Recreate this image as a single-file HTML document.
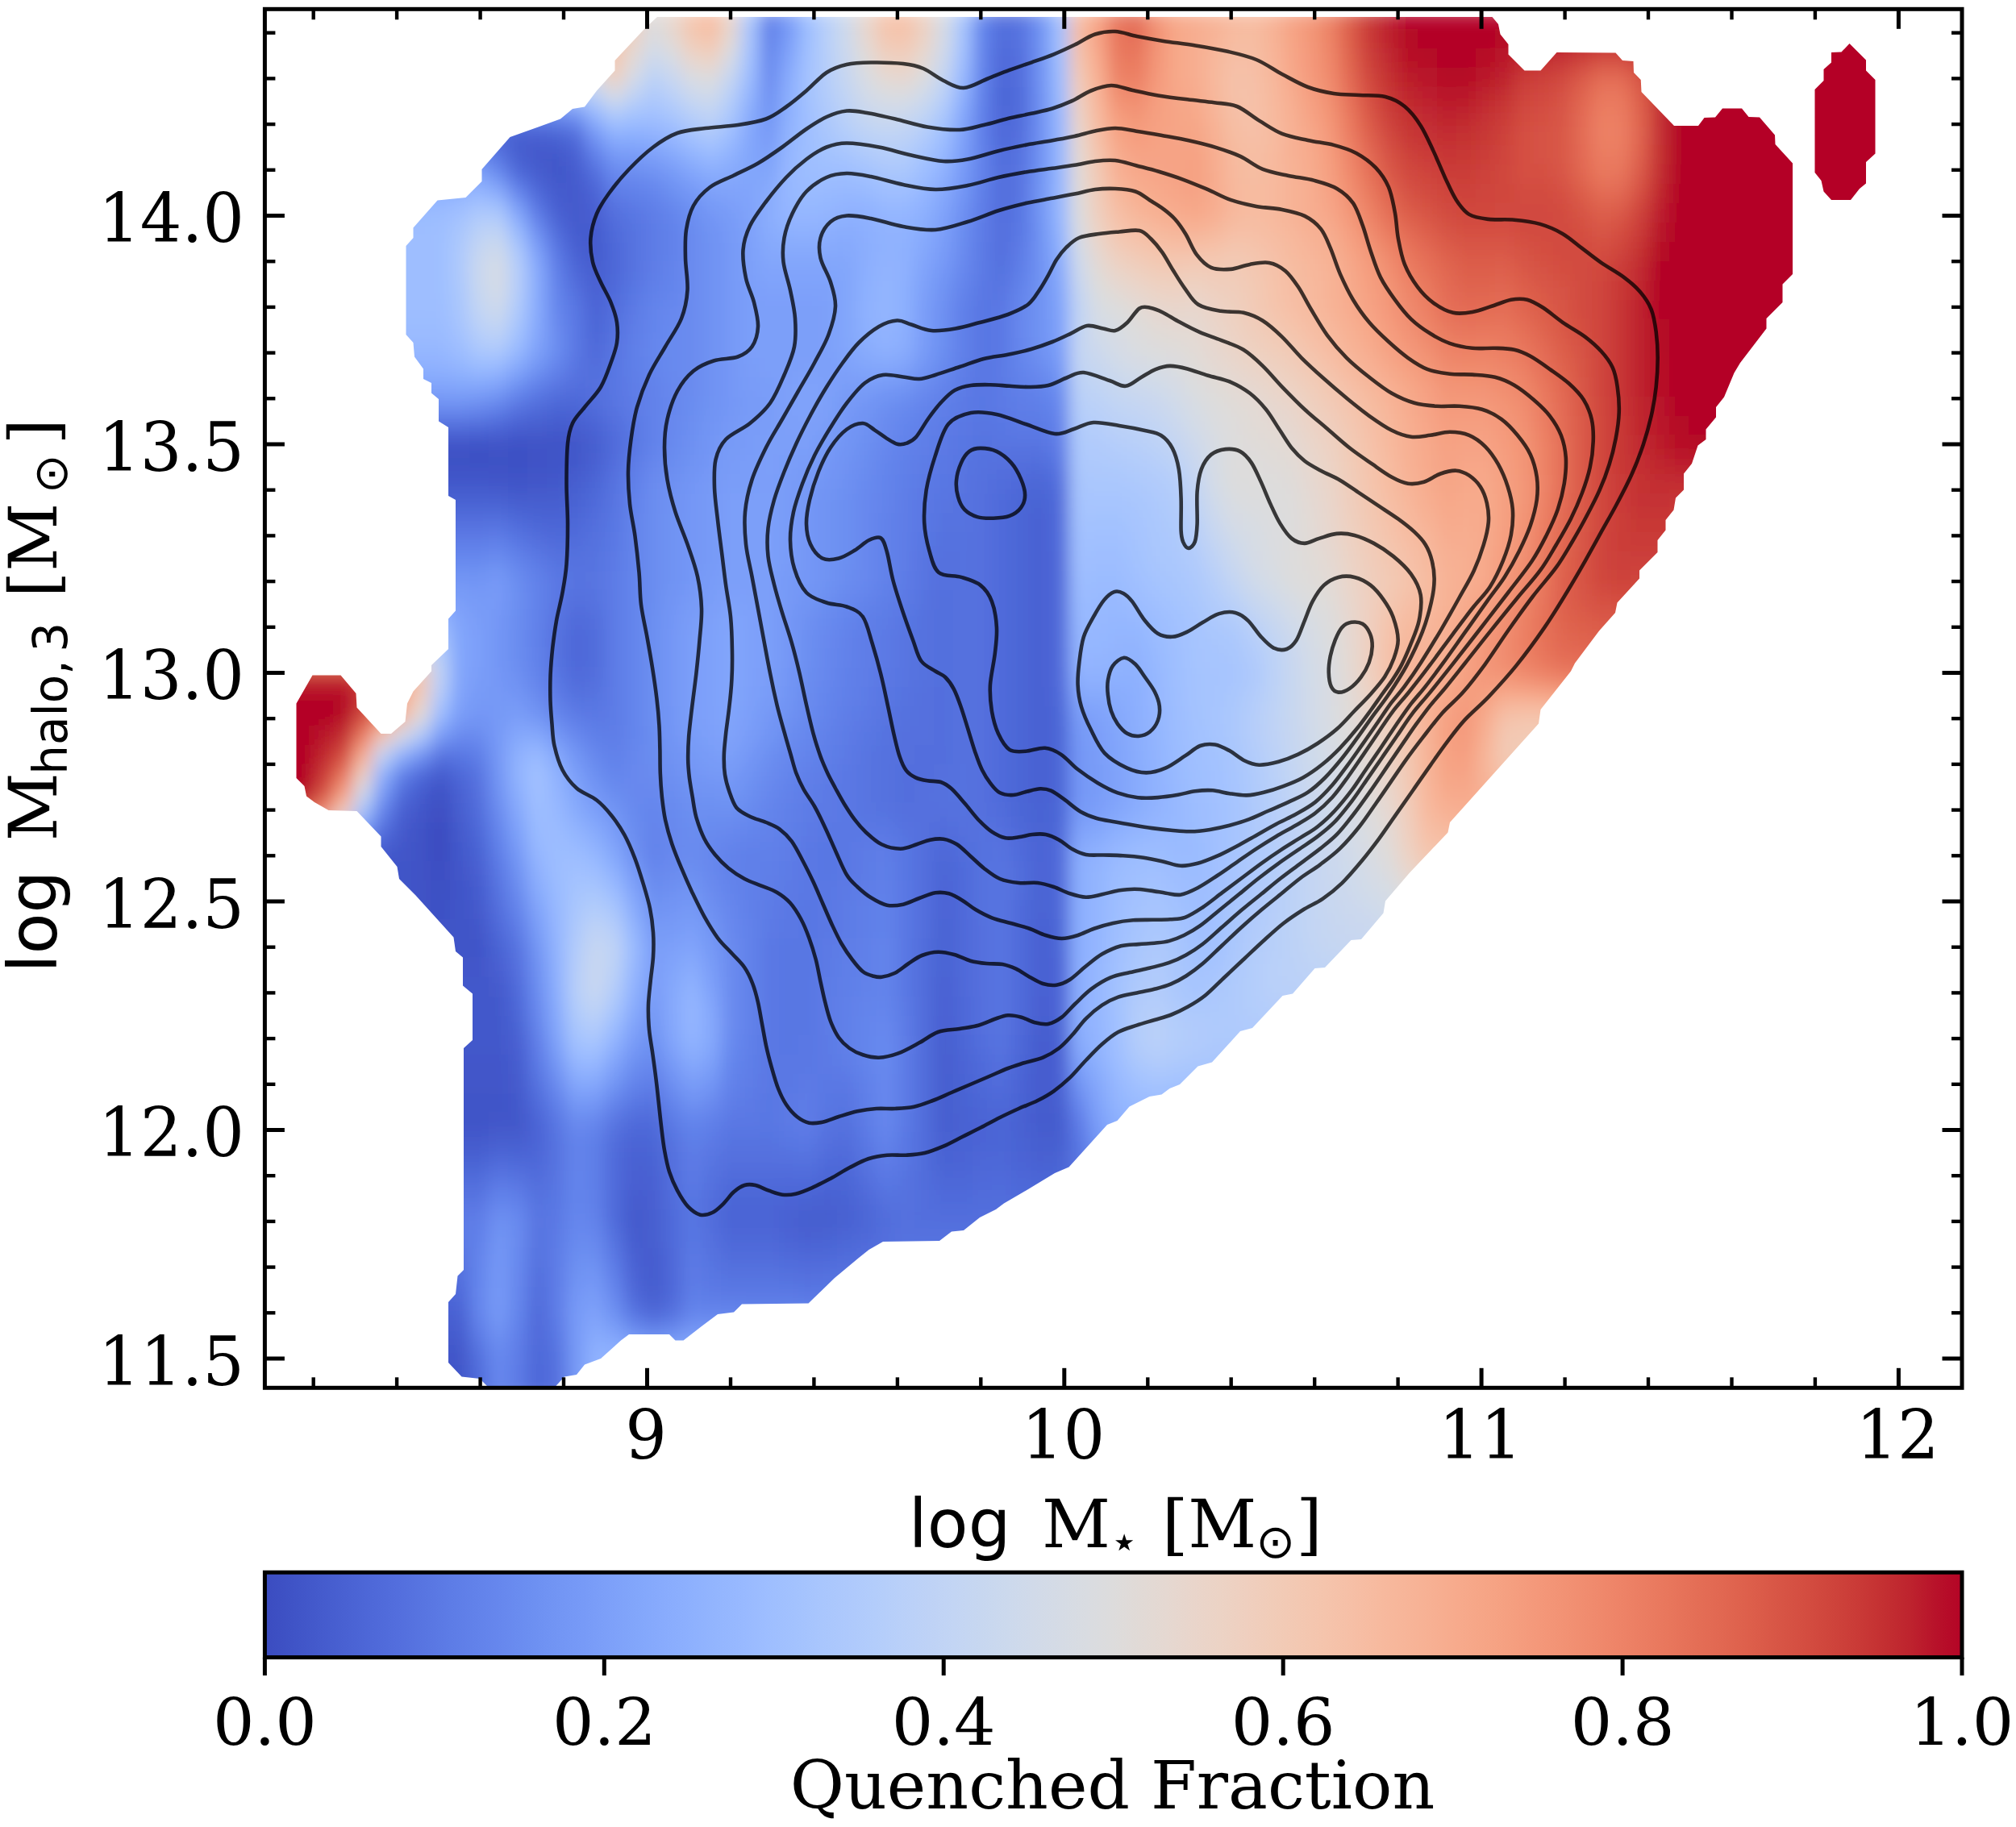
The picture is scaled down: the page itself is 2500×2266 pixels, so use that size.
<!DOCTYPE html>
<html><head><meta charset="utf-8"><title>Quenched Fraction</title>
<style>
html,body{margin:0;padding:0;background:#fff}
svg{display:block}
.s{font-family:"DejaVu Serif","Liberation Serif",serif;font-size:81.3px;fill:#000}
.n{font-family:"DejaVu Sans","Liberation Sans",sans-serif}
</style></head><body>
<svg width="2500" height="2266" viewBox="0 0 2500 2266">
<defs>
<clipPath id="cp"><path d="M815 21L800 35L762.5 75L762.5 87.5L740 112.5L725 132.5L710 135L695 147.5L667.5 157.5L632.5 170L597.5 210L597.5 225L577.5 245L542.5 248.5L512.5 282.5L512.5 295L503.5 305L503.5 415L512.5 425L514 442.5L525 457.5L525 470L535 475L535 487.5L544 495L544 522.5L556 530L556 615L565 620L565 757.5L556 767.5L556 805L535 825L535 832.5L512.5 857.5L505 872.5L502.5 895L485 910L472.5 910L442.5 877.5L441.5 860L422.5 837.5L387.5 837.5L367.5 872.5L367.5 965L377.5 975L380 987.5L390 995L407.5 1005L442.5 1006L472.5 1037.5L472.5 1050L492.5 1075L495 1090L515 1110L562.5 1162.5L565 1180L574 1187.5L574 1222.5L586 1232.5L586 1290L575 1300L575 1575L567.5 1582.5L565 1605L556 1615L556 1690L572.5 1707.5L595 1710L606 1721L687.5 1721L700 1707.5L715 1705L725 1692.5L745 1685L770 1662.5L780 1655L830 1655L837.5 1662.5L847.5 1662.5L870 1645L890 1630L910 1627.5L920 1617.5L1002.5 1616.5L1035 1585L1050 1572.5L1065 1560L1077.5 1550L1095 1540L1165 1539L1180 1527.5L1195 1526L1215 1510L1235 1500L1245 1492.5L1275 1475L1308 1455L1325.5 1447.5L1373 1395L1385.5 1390L1400.5 1372.5L1425.5 1360L1440.5 1357.5L1450.5 1350L1463 1345L1485.5 1322.5L1503 1317.5L1538 1279L1553 1275L1590.5 1235L1603 1232.5L1630.5 1201L1643 1200L1675.5 1166L1688 1165L1715.5 1132.5L1718 1117.5L1748 1082.5L1795.5 1032.5L1798 1020L1908 897.5L1910.5 880L1948 832.5L1953 822.5L1983 782.5L2003 760L2005.5 747.5L2033 717.5L2033 707.5L2055.5 685L2055.5 670L2065.5 657.5L2065.5 645L2075.5 632.5L2078 617.5L2088 607.5L2088 587.5L2098 575L2105.5 552.5L2115.5 545L2115.5 532.5L2128 517.5L2128 505L2138 492.5L2150.5 462.5L2158 450L2190.5 407.5L2190.5 395L2210.5 375L2210.5 352.5L2223 340L2223 202.5L2201.5 179L2201 167.5L2182 145.5L2168.5 145L2160 134.5L2136 134.5L2127 145.5L2113.5 146L2106 156L2076 156L2035.5 114L2034.75 99L2026 90L2025.5 76L2012 75L2003.5 65.5L1930.5 65L1910.5 87.5L1890.5 87.5L1870.5 67.5L1870.5 55L1860.5 42.5L1858 30L1850.5 21ZM2293.5 54L2283.5 64.5L2271 65L2271 77.5L2261.5 86L2261.5 100L2250.5 111L2250.5 214L2258.5 224L2261.5 237.5L2271 248L2295 248L2306 234L2314 227.5L2314 201L2325.5 190.5L2325.5 99L2314 87.5L2314 74.5Z"/></clipPath>
<filter id="bl" x="-5%" y="-5%" width="110%" height="110%"><feGaussianBlur stdDeviation="10 12"/></filter>
<linearGradient id="cb" x1="0" x2="1" y1="0" y2="0"><stop offset="0.0000" stop-color="#3b4cc0"/><stop offset="0.0156" stop-color="#3f53c6"/><stop offset="0.0312" stop-color="#445acc"/><stop offset="0.0469" stop-color="#4961d2"/><stop offset="0.0625" stop-color="#4e68d8"/><stop offset="0.0781" stop-color="#536edd"/><stop offset="0.0938" stop-color="#5875e1"/><stop offset="0.1094" stop-color="#5d7ce6"/><stop offset="0.1250" stop-color="#6282ea"/><stop offset="0.1406" stop-color="#6788ee"/><stop offset="0.1562" stop-color="#6c8ff1"/><stop offset="0.1719" stop-color="#7295f4"/><stop offset="0.1875" stop-color="#779af7"/><stop offset="0.2031" stop-color="#7da0f9"/><stop offset="0.2188" stop-color="#82a6fb"/><stop offset="0.2344" stop-color="#88abfd"/><stop offset="0.2500" stop-color="#8db0fe"/><stop offset="0.2656" stop-color="#93b5fe"/><stop offset="0.2812" stop-color="#98b9ff"/><stop offset="0.2969" stop-color="#9ebeff"/><stop offset="0.3125" stop-color="#a3c2fe"/><stop offset="0.3281" stop-color="#a9c6fd"/><stop offset="0.3438" stop-color="#aec9fc"/><stop offset="0.3594" stop-color="#b3cdfb"/><stop offset="0.3750" stop-color="#b9d0f9"/><stop offset="0.3906" stop-color="#bed2f6"/><stop offset="0.4062" stop-color="#c3d5f4"/><stop offset="0.4219" stop-color="#c7d7f0"/><stop offset="0.4375" stop-color="#ccd9ed"/><stop offset="0.4531" stop-color="#d1dae9"/><stop offset="0.4688" stop-color="#d5dbe5"/><stop offset="0.4844" stop-color="#d9dce1"/><stop offset="0.5000" stop-color="#dddcdc"/><stop offset="0.5156" stop-color="#e1dad6"/><stop offset="0.5312" stop-color="#e5d8d1"/><stop offset="0.5469" stop-color="#e9d5cb"/><stop offset="0.5625" stop-color="#ecd3c5"/><stop offset="0.5781" stop-color="#efcfbf"/><stop offset="0.5938" stop-color="#f1ccb8"/><stop offset="0.6094" stop-color="#f3c8b2"/><stop offset="0.6250" stop-color="#f5c4ac"/><stop offset="0.6406" stop-color="#f6bfa6"/><stop offset="0.6562" stop-color="#f7ba9f"/><stop offset="0.6719" stop-color="#f7b599"/><stop offset="0.6875" stop-color="#f7b093"/><stop offset="0.7031" stop-color="#f7aa8c"/><stop offset="0.7188" stop-color="#f6a586"/><stop offset="0.7344" stop-color="#f59f80"/><stop offset="0.7500" stop-color="#f4987a"/><stop offset="0.7656" stop-color="#f29274"/><stop offset="0.7812" stop-color="#f08b6e"/><stop offset="0.7969" stop-color="#ee8468"/><stop offset="0.8125" stop-color="#eb7d62"/><stop offset="0.8281" stop-color="#e8765c"/><stop offset="0.8438" stop-color="#e46e56"/><stop offset="0.8594" stop-color="#e16751"/><stop offset="0.8750" stop-color="#dd5f4b"/><stop offset="0.8906" stop-color="#d85646"/><stop offset="0.9062" stop-color="#d44e41"/><stop offset="0.9219" stop-color="#cf453c"/><stop offset="0.9375" stop-color="#ca3b37"/><stop offset="0.9531" stop-color="#c43032"/><stop offset="0.9688" stop-color="#be242e"/><stop offset="0.9844" stop-color="#b8122a"/><stop offset="1.0000" stop-color="#b40426"/></linearGradient>
</defs>
<rect width="2500" height="2266" fill="#fff"/>
<g clip-path="url(#cp)"><g filter="url(#bl)" shape-rendering="crispEdges">
<path d="M750 12h25v25h-25z" fill="#f6bfa6"/>
<path d="M774 12h25v25h-25z" fill="#efcfbf"/>
<path d="M798 12h25v25h-25z" fill="#dddcdc"/>
<path d="M822 12h25v25h-25z" fill="#e8d6cc"/>
<path d="M846 12h25v25h-25z" fill="#f4c5ad"/>
<path d="M870 12h25v25h-25z" fill="#f7bca1"/>
<path d="M894 12h25v25h-25z" fill="#e9d5cb"/>
<path d="M918 12h25v25h-25z" fill="#aac7fd"/>
<path d="M942 12h25v25h-25z" fill="#6180e9"/>
<path d="M966 12h25v25h-25z" fill="#779af7"/>
<path d="M990 12h25v25h-25z" fill="#9fbfff"/>
<path d="M1014 12h25v25h-25z" fill="#b9d0f9"/>
<path d="M1038 12h25v25h-25z" fill="#cfdaea"/>
<path d="M1062 12h25v25h-25z" fill="#e8d6cc"/>
<path d="M1086 12h25v25h-25z" fill="#f5c4ac"/>
<path d="M1110 12h25v25h-25z" fill="#f5c1a9"/>
<path d="M1134 12h25v25h-25z" fill="#edd1c2"/>
<path d="M1158 12h25v25h-25z" fill="#d6dce4"/>
<path d="M1182 12h25v25h-25z" fill="#a9c6fd"/>
<path d="M1206 12h25v25h-25z" fill="#6485ec"/>
<path d="M1230 12h25v25h-25z" fill="#536edd"/>
<path d="M1254 12h25v25h-25z" fill="#5673e0"/>
<path d="M1278 12h25v25h-25z" fill="#6f92f3"/>
<path d="M1302 12h25v25h-25z" fill="#a2c1ff"/>
<path d="M1326 12h25v25h-25z" fill="#f6bea4"/>
<path d="M1350 12h25v25h-25z" fill="#f6a283"/>
<path d="M1374 12h25v25h-25z" fill="#e7745b"/>
<path d="M1398 12h25v25h-25z" fill="#e36c55"/>
<path d="M1422 12h25v25h-25z" fill="#f29274"/>
<path d="M1446 12h25v25h-25z" fill="#f7a889"/>
<path d="M1470 12h25v25h-25z" fill="#f7ad90"/>
<path d="M1494 12h25v25h-25z" fill="#f7b396"/>
<path d="M1518 12h25v25h-25z" fill="#f7ba9f"/>
<path d="M1542 12h25v25h-25z" fill="#f7bca1"/>
<path d="M1566 12h25v25h-25z" fill="#f7b396"/>
<path d="M1590 12h25v25h-25z" fill="#f6a385"/>
<path d="M1614 12h25v25h-25z" fill="#f39778"/>
<path d="M1638 12h25v25h-25z" fill="#ec8165"/>
<path d="M1662 12h25v25h-25z" fill="#dc5d4a"/>
<path d="M1686 12h25v25h-25z" fill="#c83836"/>
<path d="M1710 12h25v25h-25z" fill="#bd1f2d"/>
<path d="M1734 12h289v25h-289z" fill="#b40426"/>
<path d="M2238 12h97v25h-97z" fill="#b40426"/>
<path d="M726 36h25v25h-25z" fill="#efcebd"/>
<path d="M750 36h25v25h-25z" fill="#f5c1a9"/>
<path d="M774 36h25v25h-25z" fill="#ebd3c6"/>
<path d="M798 36h25v25h-25z" fill="#d8dce2"/>
<path d="M822 36h25v25h-25z" fill="#e3d9d3"/>
<path d="M846 36h25v25h-25z" fill="#f2cab5"/>
<path d="M870 36h25v25h-25z" fill="#f5c4ac"/>
<path d="M894 36h25v25h-25z" fill="#e3d9d3"/>
<path d="M918 36h25v25h-25z" fill="#a7c5fe"/>
<path d="M942 36h25v25h-25z" fill="#6282ea"/>
<path d="M966 36h25v25h-25z" fill="#7a9df8"/>
<path d="M990 36h25v25h-25z" fill="#9fbfff"/>
<path d="M1014 36h25v25h-25z" fill="#b9d0f9"/>
<path d="M1038 36h25v25h-25z" fill="#cedaeb"/>
<path d="M1062 36h25v25h-25z" fill="#e5d8d1"/>
<path d="M1086 36h25v25h-25z" fill="#f3c8b2"/>
<path d="M1110 36h25v25h-25z" fill="#f4c6af"/>
<path d="M1134 36h25v25h-25z" fill="#ebd3c6"/>
<path d="M1158 36h25v25h-25z" fill="#d4dbe6"/>
<path d="M1182 36h25v25h-25z" fill="#a6c4fe"/>
<path d="M1206 36h25v25h-25z" fill="#6485ec"/>
<path d="M1230 36h25v25h-25z" fill="#516ddb"/>
<path d="M1254 36h25v25h-25z" fill="#5673e0"/>
<path d="M1278 36h25v25h-25z" fill="#6f92f3"/>
<path d="M1302 36h25v25h-25z" fill="#a2c1ff"/>
<path d="M1326 36h25v25h-25z" fill="#f5c0a7"/>
<path d="M1350 36h25v25h-25z" fill="#f6a385"/>
<path d="M1374 36h25v25h-25z" fill="#e8765c"/>
<path d="M1398 36h25v25h-25z" fill="#e57058"/>
<path d="M1422 36h25v25h-25z" fill="#f29274"/>
<path d="M1446 36h25v25h-25z" fill="#f7a889"/>
<path d="M1470 36h25v25h-25z" fill="#f7ad90"/>
<path d="M1494 36h25v25h-25z" fill="#f7b497"/>
<path d="M1518 36h25v25h-25z" fill="#f7bca1"/>
<path d="M1542 36h25v25h-25z" fill="#f6bda2"/>
<path d="M1566 36h25v25h-25z" fill="#f7b497"/>
<path d="M1590 36h25v25h-25z" fill="#f6a586"/>
<path d="M1614 36h25v25h-25z" fill="#f39778"/>
<path d="M1638 36h25v25h-25z" fill="#ed8366"/>
<path d="M1662 36h25v25h-25z" fill="#dd5f4b"/>
<path d="M1686 36h25v25h-25z" fill="#ca3b37"/>
<path d="M1710 36h25v25h-25z" fill="#be242e"/>
<path d="M1734 36h25v25h-25z" fill="#b50927"/>
<path d="M1758 36h97v25h-97z" fill="#b40426"/>
<path d="M1854 36h25v25h-25z" fill="#b50927"/>
<path d="M1878 36h25v25h-25z" fill="#b70d28"/>
<path d="M1902 36h25v25h-25z" fill="#b8122a"/>
<path d="M1926 36h25v25h-25z" fill="#ba162b"/>
<path d="M1950 36h25v25h-25z" fill="#bb1b2c"/>
<path d="M1974 36h49v25h-49z" fill="#be242e"/>
<path d="M2022 36h25v25h-25z" fill="#bb1b2c"/>
<path d="M2214 36h145v25h-145z" fill="#b40426"/>
<path d="M702 60h49v25h-49z" fill="#e8d6cc"/>
<path d="M750 60h25v25h-25z" fill="#f3c7b1"/>
<path d="M774 60h25v25h-25z" fill="#e1dad6"/>
<path d="M798 60h25v25h-25z" fill="#ccd9ed"/>
<path d="M822 60h25v25h-25z" fill="#d7dce3"/>
<path d="M846 60h25v25h-25z" fill="#e9d5cb"/>
<path d="M870 60h25v25h-25z" fill="#edd2c3"/>
<path d="M894 60h25v25h-25z" fill="#d6dce4"/>
<path d="M918 60h25v25h-25z" fill="#a2c1ff"/>
<path d="M942 60h25v25h-25z" fill="#6687ed"/>
<path d="M966 60h25v25h-25z" fill="#81a4fb"/>
<path d="M990 60h25v25h-25z" fill="#a2c1ff"/>
<path d="M1014 60h25v25h-25z" fill="#b7cff9"/>
<path d="M1038 60h25v25h-25z" fill="#cbd8ee"/>
<path d="M1062 60h25v25h-25z" fill="#dfdbd9"/>
<path d="M1086 60h25v25h-25z" fill="#edd1c2"/>
<path d="M1110 60h25v25h-25z" fill="#efcfbf"/>
<path d="M1134 60h25v25h-25z" fill="#e4d9d2"/>
<path d="M1158 60h25v25h-25z" fill="#cdd9ec"/>
<path d="M1182 60h25v25h-25z" fill="#a1c0ff"/>
<path d="M1206 60h25v25h-25z" fill="#6384eb"/>
<path d="M1230 60h25v25h-25z" fill="#4f69d9"/>
<path d="M1254 60h25v25h-25z" fill="#5470de"/>
<path d="M1278 60h25v25h-25z" fill="#6f92f3"/>
<path d="M1302 60h25v25h-25z" fill="#9fbfff"/>
<path d="M1326 60h25v25h-25z" fill="#f4c5ad"/>
<path d="M1350 60h25v25h-25z" fill="#f7a98b"/>
<path d="M1374 60h25v25h-25z" fill="#ea7b60"/>
<path d="M1398 60h25v25h-25z" fill="#e9785d"/>
<path d="M1422 60h25v25h-25z" fill="#f39577"/>
<path d="M1446 60h25v25h-25z" fill="#f7a889"/>
<path d="M1470 60h25v25h-25z" fill="#f7ad90"/>
<path d="M1494 60h25v25h-25z" fill="#f7b79b"/>
<path d="M1518 60h25v25h-25z" fill="#f6bfa6"/>
<path d="M1542 60h25v25h-25z" fill="#f6bea4"/>
<path d="M1566 60h25v25h-25z" fill="#f7b599"/>
<path d="M1590 60h25v25h-25z" fill="#f7a688"/>
<path d="M1614 60h25v25h-25z" fill="#f4987a"/>
<path d="M1638 60h25v25h-25z" fill="#ee8669"/>
<path d="M1662 60h25v25h-25z" fill="#df634e"/>
<path d="M1686 60h25v25h-25z" fill="#cc403a"/>
<path d="M1710 60h25v25h-25z" fill="#c12b30"/>
<path d="M1734 60h25v25h-25z" fill="#b70d28"/>
<path d="M1758 60h25v25h-25z" fill="#b50927"/>
<path d="M1782 60h49v25h-49z" fill="#b40426"/>
<path d="M1830 60h25v25h-25z" fill="#b70d28"/>
<path d="M1854 60h25v25h-25z" fill="#ba162b"/>
<path d="M1878 60h25v25h-25z" fill="#c0282f"/>
<path d="M1902 60h25v25h-25z" fill="#c32e31"/>
<path d="M1926 60h25v25h-25z" fill="#c53334"/>
<path d="M1950 60h25v25h-25z" fill="#cc403a"/>
<path d="M1974 60h49v25h-49z" fill="#d24b40"/>
<path d="M2022 60h25v25h-25z" fill="#ca3b37"/>
<path d="M2046 60h25v25h-25z" fill="#bb1b2c"/>
<path d="M2118 60h49v25h-49z" fill="#b40426"/>
<path d="M2190 60h193v25h-193z" fill="#b40426"/>
<path d="M630 84h97v25h-97z" fill="#d7dce3"/>
<path d="M726 84h25v25h-25z" fill="#dadce0"/>
<path d="M750 84h25v25h-25z" fill="#eed0c0"/>
<path d="M774 84h25v25h-25z" fill="#d4dbe6"/>
<path d="M798 84h25v25h-25z" fill="#bcd2f7"/>
<path d="M822 84h25v25h-25z" fill="#c9d7f0"/>
<path d="M846 84h25v25h-25z" fill="#d9dce1"/>
<path d="M870 84h25v25h-25z" fill="#dddcdc"/>
<path d="M894 84h25v25h-25z" fill="#c6d6f1"/>
<path d="M918 84h25v25h-25z" fill="#9bbcff"/>
<path d="M942 84h25v25h-25z" fill="#6a8bef"/>
<path d="M966 84h25v25h-25z" fill="#88abfd"/>
<path d="M990 84h25v25h-25z" fill="#a5c3fe"/>
<path d="M1014 84h25v25h-25z" fill="#b6cefa"/>
<path d="M1038 84h25v25h-25z" fill="#c7d7f0"/>
<path d="M1062 84h25v25h-25z" fill="#d8dce2"/>
<path d="M1086 84h25v25h-25z" fill="#e4d9d2"/>
<path d="M1110 84h25v25h-25z" fill="#e6d7cf"/>
<path d="M1134 84h25v25h-25z" fill="#dbdcde"/>
<path d="M1158 84h25v25h-25z" fill="#c5d6f2"/>
<path d="M1182 84h25v25h-25z" fill="#98b9ff"/>
<path d="M1206 84h25v25h-25z" fill="#6384eb"/>
<path d="M1230 84h25v25h-25z" fill="#4e68d8"/>
<path d="M1254 84h25v25h-25z" fill="#536edd"/>
<path d="M1278 84h25v25h-25z" fill="#6f92f3"/>
<path d="M1302 84h25v25h-25z" fill="#9dbdff"/>
<path d="M1326 84h25v25h-25z" fill="#f2cbb7"/>
<path d="M1350 84h25v25h-25z" fill="#f7af91"/>
<path d="M1374 84h25v25h-25z" fill="#ed8366"/>
<path d="M1398 84h25v25h-25z" fill="#ec7f63"/>
<path d="M1422 84h25v25h-25z" fill="#f4987a"/>
<path d="M1446 84h25v25h-25z" fill="#f7a889"/>
<path d="M1470 84h25v25h-25z" fill="#f7ad90"/>
<path d="M1494 84h25v25h-25z" fill="#f7b89c"/>
<path d="M1518 84h25v25h-25z" fill="#f5c1a9"/>
<path d="M1542 84h25v25h-25z" fill="#f5c0a7"/>
<path d="M1566 84h25v25h-25z" fill="#f7b89c"/>
<path d="M1590 84h25v25h-25z" fill="#f7a98b"/>
<path d="M1614 84h25v25h-25z" fill="#f49a7b"/>
<path d="M1638 84h25v25h-25z" fill="#f08a6c"/>
<path d="M1662 84h25v25h-25z" fill="#e26952"/>
<path d="M1686 84h25v25h-25z" fill="#d0473d"/>
<path d="M1710 84h25v25h-25z" fill="#c43032"/>
<path d="M1734 84h25v25h-25z" fill="#bb1b2c"/>
<path d="M1758 84h25v25h-25z" fill="#b8122a"/>
<path d="M1782 84h49v25h-49z" fill="#b50927"/>
<path d="M1830 84h25v25h-25z" fill="#ba162b"/>
<path d="M1854 84h25v25h-25z" fill="#be242e"/>
<path d="M1878 84h25v25h-25z" fill="#ca3b37"/>
<path d="M1902 84h25v25h-25z" fill="#cc403a"/>
<path d="M1926 84h25v25h-25z" fill="#d1493f"/>
<path d="M1950 84h25v25h-25z" fill="#da5a49"/>
<path d="M1974 84h25v25h-25z" fill="#e36c55"/>
<path d="M1998 84h25v25h-25z" fill="#e36b54"/>
<path d="M2022 84h25v25h-25z" fill="#d75445"/>
<path d="M2046 84h25v25h-25z" fill="#c12b30"/>
<path d="M2070 84h337v25h-337z" fill="#b40426"/>
<path d="M606 108h49v25h-49z" fill="#a1c0ff"/>
<path d="M654 108h25v25h-25z" fill="#a2c1ff"/>
<path d="M678 108h25v25h-25z" fill="#a5c3fe"/>
<path d="M702 108h25v25h-25z" fill="#a9c6fd"/>
<path d="M726 108h25v25h-25z" fill="#bad0f8"/>
<path d="M750 108h25v25h-25z" fill="#d4dbe6"/>
<path d="M774 108h25v25h-25z" fill="#bed2f6"/>
<path d="M798 108h25v25h-25z" fill="#aec9fc"/>
<path d="M822 108h25v25h-25z" fill="#b9d0f9"/>
<path d="M846 108h25v25h-25z" fill="#cad8ef"/>
<path d="M870 108h25v25h-25z" fill="#cfdaea"/>
<path d="M894 108h25v25h-25z" fill="#b7cff9"/>
<path d="M918 108h25v25h-25z" fill="#92b4fe"/>
<path d="M942 108h25v25h-25z" fill="#6e90f2"/>
<path d="M966 108h25v25h-25z" fill="#8caffe"/>
<path d="M990 108h25v25h-25z" fill="#a3c2fe"/>
<path d="M1014 108h25v25h-25z" fill="#b2ccfb"/>
<path d="M1038 108h25v25h-25z" fill="#c1d4f4"/>
<path d="M1062 108h25v25h-25z" fill="#d1dae9"/>
<path d="M1086 108h25v25h-25z" fill="#d8dce2"/>
<path d="M1110 108h25v25h-25z" fill="#d9dce1"/>
<path d="M1134 108h25v25h-25z" fill="#cedaeb"/>
<path d="M1158 108h25v25h-25z" fill="#b9d0f9"/>
<path d="M1182 108h25v25h-25z" fill="#8fb1fe"/>
<path d="M1206 108h25v25h-25z" fill="#6282ea"/>
<path d="M1230 108h25v25h-25z" fill="#4c66d6"/>
<path d="M1254 108h25v25h-25z" fill="#516ddb"/>
<path d="M1278 108h25v25h-25z" fill="#6e90f2"/>
<path d="M1302 108h25v25h-25z" fill="#9abbff"/>
<path d="M1326 108h25v25h-25z" fill="#efcfbf"/>
<path d="M1350 108h25v25h-25z" fill="#f7b497"/>
<path d="M1374 108h25v25h-25z" fill="#f18f71"/>
<path d="M1398 108h25v25h-25z" fill="#f08b6e"/>
<path d="M1422 108h25v25h-25z" fill="#f59d7e"/>
<path d="M1446 108h25v25h-25z" fill="#f7a688"/>
<path d="M1470 108h25v25h-25z" fill="#f7aa8c"/>
<path d="M1494 108h25v25h-25z" fill="#f7b79b"/>
<path d="M1518 108h49v25h-49z" fill="#f5c1a9"/>
<path d="M1566 108h25v25h-25z" fill="#f7b99e"/>
<path d="M1590 108h25v25h-25z" fill="#f7ad90"/>
<path d="M1614 108h25v25h-25z" fill="#f59f80"/>
<path d="M1638 108h25v25h-25z" fill="#f18f71"/>
<path d="M1662 108h25v25h-25z" fill="#e57058"/>
<path d="M1686 108h25v25h-25z" fill="#d55042"/>
<path d="M1710 108h25v25h-25z" fill="#c83836"/>
<path d="M1734 108h25v25h-25z" fill="#c0282f"/>
<path d="M1758 108h25v25h-25z" fill="#bd1f2d"/>
<path d="M1782 108h49v25h-49z" fill="#ba162b"/>
<path d="M1830 108h25v25h-25z" fill="#c0282f"/>
<path d="M1854 108h25v25h-25z" fill="#c43032"/>
<path d="M1878 108h25v25h-25z" fill="#cf453c"/>
<path d="M1902 108h25v25h-25z" fill="#d1493f"/>
<path d="M1926 108h25v25h-25z" fill="#d65244"/>
<path d="M1950 108h25v25h-25z" fill="#e0654f"/>
<path d="M1974 108h49v25h-49z" fill="#e9785d"/>
<path d="M2022 108h25v25h-25z" fill="#dd5f4b"/>
<path d="M2046 108h25v25h-25z" fill="#c43032"/>
<path d="M2070 108h337v25h-337z" fill="#b40426"/>
<path d="M582 132h25v25h-25z" fill="#6485ec"/>
<path d="M606 132h25v25h-25z" fill="#6384eb"/>
<path d="M630 132h25v25h-25z" fill="#6282ea"/>
<path d="M654 132h25v25h-25z" fill="#6485ec"/>
<path d="M678 132h25v25h-25z" fill="#6788ee"/>
<path d="M702 132h25v25h-25z" fill="#6f92f3"/>
<path d="M726 132h25v25h-25z" fill="#93b5fe"/>
<path d="M750 132h25v25h-25z" fill="#adc9fd"/>
<path d="M774 132h25v25h-25z" fill="#a3c2fe"/>
<path d="M798 132h25v25h-25z" fill="#a1c0ff"/>
<path d="M822 132h25v25h-25z" fill="#a9c6fd"/>
<path d="M846 132h25v25h-25z" fill="#b7cff9"/>
<path d="M870 132h25v25h-25z" fill="#bfd3f6"/>
<path d="M894 132h25v25h-25z" fill="#aac7fd"/>
<path d="M918 132h25v25h-25z" fill="#88abfd"/>
<path d="M942 132h25v25h-25z" fill="#7295f4"/>
<path d="M966 132h25v25h-25z" fill="#8db0fe"/>
<path d="M990 132h25v25h-25z" fill="#a1c0ff"/>
<path d="M1014 132h25v25h-25z" fill="#aec9fc"/>
<path d="M1038 132h25v25h-25z" fill="#bbd1f8"/>
<path d="M1062 132h25v25h-25z" fill="#c7d7f0"/>
<path d="M1086 132h25v25h-25z" fill="#ccd9ed"/>
<path d="M1110 132h25v25h-25z" fill="#cad8ef"/>
<path d="M1134 132h25v25h-25z" fill="#c0d4f5"/>
<path d="M1158 132h25v25h-25z" fill="#aac7fd"/>
<path d="M1182 132h25v25h-25z" fill="#85a8fc"/>
<path d="M1206 132h25v25h-25z" fill="#6180e9"/>
<path d="M1230 132h25v25h-25z" fill="#4e68d8"/>
<path d="M1254 132h25v25h-25z" fill="#516ddb"/>
<path d="M1278 132h25v25h-25z" fill="#6e90f2"/>
<path d="M1302 132h25v25h-25z" fill="#97b8ff"/>
<path d="M1326 132h25v25h-25z" fill="#ebd3c6"/>
<path d="M1350 132h25v25h-25z" fill="#f7b99e"/>
<path d="M1374 132h25v25h-25z" fill="#f59c7d"/>
<path d="M1398 132h25v25h-25z" fill="#f39577"/>
<path d="M1422 132h25v25h-25z" fill="#f5a081"/>
<path d="M1446 132h25v25h-25z" fill="#f6a586"/>
<path d="M1470 132h25v25h-25z" fill="#f7a889"/>
<path d="M1494 132h25v25h-25z" fill="#f7b497"/>
<path d="M1518 132h25v25h-25z" fill="#f6bfa6"/>
<path d="M1542 132h25v25h-25z" fill="#f5c1a9"/>
<path d="M1566 132h25v25h-25z" fill="#f7ba9f"/>
<path d="M1590 132h25v25h-25z" fill="#f7b093"/>
<path d="M1614 132h25v25h-25z" fill="#f6a385"/>
<path d="M1638 132h25v25h-25z" fill="#f39475"/>
<path d="M1662 132h25v25h-25z" fill="#e9785d"/>
<path d="M1686 132h25v25h-25z" fill="#d95847"/>
<path d="M1710 132h25v25h-25z" fill="#cc403a"/>
<path d="M1734 132h25v25h-25z" fill="#c43032"/>
<path d="M1758 132h25v25h-25z" fill="#c12b30"/>
<path d="M1782 132h25v25h-25z" fill="#be242e"/>
<path d="M1806 132h25v25h-25z" fill="#c0282f"/>
<path d="M1830 132h25v25h-25z" fill="#c53334"/>
<path d="M1854 132h25v25h-25z" fill="#ca3b37"/>
<path d="M1878 132h25v25h-25z" fill="#d24b40"/>
<path d="M1902 132h25v25h-25z" fill="#d55042"/>
<path d="M1926 132h25v25h-25z" fill="#d85646"/>
<path d="M1950 132h25v25h-25z" fill="#e36b54"/>
<path d="M1974 132h25v25h-25z" fill="#ec7f63"/>
<path d="M1998 132h25v25h-25z" fill="#eb7d62"/>
<path d="M2022 132h25v25h-25z" fill="#df634e"/>
<path d="M2046 132h25v25h-25z" fill="#c53334"/>
<path d="M2070 132h337v25h-337z" fill="#b40426"/>
<path d="M558 156h49v25h-49z" fill="#5470de"/>
<path d="M606 156h25v25h-25z" fill="#4e68d8"/>
<path d="M630 156h25v25h-25z" fill="#465ecf"/>
<path d="M654 156h25v25h-25z" fill="#485fd1"/>
<path d="M678 156h25v25h-25z" fill="#4a63d3"/>
<path d="M702 156h25v25h-25z" fill="#516ddb"/>
<path d="M726 156h25v25h-25z" fill="#7597f6"/>
<path d="M750 156h25v25h-25z" fill="#8db0fe"/>
<path d="M774 156h25v25h-25z" fill="#8caffe"/>
<path d="M798 156h25v25h-25z" fill="#8fb1fe"/>
<path d="M822 156h25v25h-25z" fill="#97b8ff"/>
<path d="M846 156h25v25h-25z" fill="#a5c3fe"/>
<path d="M870 156h25v25h-25z" fill="#aec9fc"/>
<path d="M894 156h25v25h-25z" fill="#9dbdff"/>
<path d="M918 156h25v25h-25z" fill="#84a7fc"/>
<path d="M942 156h25v25h-25z" fill="#779af7"/>
<path d="M966 156h25v25h-25z" fill="#92b4fe"/>
<path d="M990 156h25v25h-25z" fill="#9fbfff"/>
<path d="M1014 156h25v25h-25z" fill="#a9c6fd"/>
<path d="M1038 156h25v25h-25z" fill="#b3cdfb"/>
<path d="M1062 156h25v25h-25z" fill="#bcd2f7"/>
<path d="M1086 156h25v25h-25z" fill="#c0d4f5"/>
<path d="M1110 156h25v25h-25z" fill="#bed2f6"/>
<path d="M1134 156h25v25h-25z" fill="#b2ccfb"/>
<path d="M1158 156h25v25h-25z" fill="#9fbfff"/>
<path d="M1182 156h25v25h-25z" fill="#80a3fa"/>
<path d="M1206 156h25v25h-25z" fill="#6180e9"/>
<path d="M1230 156h25v25h-25z" fill="#4f69d9"/>
<path d="M1254 156h25v25h-25z" fill="#5470de"/>
<path d="M1278 156h25v25h-25z" fill="#6e90f2"/>
<path d="M1302 156h25v25h-25z" fill="#96b7ff"/>
<path d="M1326 156h25v25h-25z" fill="#e7d7ce"/>
<path d="M1350 156h25v25h-25z" fill="#f6bea4"/>
<path d="M1374 156h25v25h-25z" fill="#f6a586"/>
<path d="M1398 156h25v25h-25z" fill="#f59d7e"/>
<path d="M1422 156h25v25h-25z" fill="#f6a283"/>
<path d="M1446 156h49v25h-49z" fill="#f6a586"/>
<path d="M1494 156h25v25h-25z" fill="#f7b093"/>
<path d="M1518 156h25v25h-25z" fill="#f6bda2"/>
<path d="M1542 156h25v25h-25z" fill="#f5c0a7"/>
<path d="M1566 156h25v25h-25z" fill="#f7bca1"/>
<path d="M1590 156h25v25h-25z" fill="#f7b194"/>
<path d="M1614 156h25v25h-25z" fill="#f7a889"/>
<path d="M1638 156h25v25h-25z" fill="#f4987a"/>
<path d="M1662 156h25v25h-25z" fill="#eb7d62"/>
<path d="M1686 156h25v25h-25z" fill="#de614d"/>
<path d="M1710 156h25v25h-25z" fill="#d1493f"/>
<path d="M1734 156h25v25h-25z" fill="#c83836"/>
<path d="M1758 156h25v25h-25z" fill="#c53334"/>
<path d="M1782 156h25v25h-25z" fill="#c32e31"/>
<path d="M1806 156h25v25h-25z" fill="#c43032"/>
<path d="M1830 156h25v25h-25z" fill="#c83836"/>
<path d="M1854 156h25v25h-25z" fill="#cd423b"/>
<path d="M1878 156h25v25h-25z" fill="#d55042"/>
<path d="M1902 156h25v25h-25z" fill="#d65244"/>
<path d="M1926 156h25v25h-25z" fill="#d95847"/>
<path d="M1950 156h25v25h-25z" fill="#e36c55"/>
<path d="M1974 156h25v25h-25z" fill="#ec8165"/>
<path d="M1998 156h25v25h-25z" fill="#ec7f63"/>
<path d="M2022 156h25v25h-25z" fill="#e0654f"/>
<path d="M2046 156h25v25h-25z" fill="#c53334"/>
<path d="M2070 156h337v25h-337z" fill="#b40426"/>
<path d="M534 180h73v25h-73z" fill="#6687ed"/>
<path d="M606 180h25v25h-25z" fill="#5673e0"/>
<path d="M630 180h25v25h-25z" fill="#465ecf"/>
<path d="M654 180h49v25h-49z" fill="#4358cb"/>
<path d="M702 180h25v25h-25z" fill="#4961d2"/>
<path d="M726 180h25v25h-25z" fill="#6180e9"/>
<path d="M750 180h25v25h-25z" fill="#779af7"/>
<path d="M774 180h25v25h-25z" fill="#799cf8"/>
<path d="M798 180h25v25h-25z" fill="#7da0f9"/>
<path d="M822 180h25v25h-25z" fill="#86a9fc"/>
<path d="M846 180h25v25h-25z" fill="#92b4fe"/>
<path d="M870 180h25v25h-25z" fill="#9abbff"/>
<path d="M894 180h25v25h-25z" fill="#90b2fe"/>
<path d="M918 180h25v25h-25z" fill="#82a6fb"/>
<path d="M942 180h25v25h-25z" fill="#7da0f9"/>
<path d="M966 180h25v25h-25z" fill="#94b6ff"/>
<path d="M990 180h25v25h-25z" fill="#9fbfff"/>
<path d="M1014 180h25v25h-25z" fill="#a3c2fe"/>
<path d="M1038 180h25v25h-25z" fill="#a7c5fe"/>
<path d="M1062 180h25v25h-25z" fill="#afcafc"/>
<path d="M1086 180h25v25h-25z" fill="#b5cdfa"/>
<path d="M1110 180h25v25h-25z" fill="#b3cdfb"/>
<path d="M1134 180h25v25h-25z" fill="#a6c4fe"/>
<path d="M1158 180h25v25h-25z" fill="#97b8ff"/>
<path d="M1182 180h25v25h-25z" fill="#7b9ff9"/>
<path d="M1206 180h25v25h-25z" fill="#6282ea"/>
<path d="M1230 180h25v25h-25z" fill="#516ddb"/>
<path d="M1254 180h25v25h-25z" fill="#5673e0"/>
<path d="M1278 180h25v25h-25z" fill="#6f92f3"/>
<path d="M1302 180h25v25h-25z" fill="#96b7ff"/>
<path d="M1326 180h25v25h-25z" fill="#e4d9d2"/>
<path d="M1350 180h25v25h-25z" fill="#f4c5ad"/>
<path d="M1374 180h25v25h-25z" fill="#f7ac8e"/>
<path d="M1398 180h73v25h-73z" fill="#f6a385"/>
<path d="M1470 180h25v25h-25z" fill="#f6a283"/>
<path d="M1494 180h25v25h-25z" fill="#f7ad90"/>
<path d="M1518 180h25v25h-25z" fill="#f7ba9f"/>
<path d="M1542 180h25v25h-25z" fill="#f6bea4"/>
<path d="M1566 180h25v25h-25z" fill="#f7ba9f"/>
<path d="M1590 180h25v25h-25z" fill="#f7b194"/>
<path d="M1614 180h25v25h-25z" fill="#f7aa8c"/>
<path d="M1638 180h25v25h-25z" fill="#f59c7d"/>
<path d="M1662 180h25v25h-25z" fill="#ee8468"/>
<path d="M1686 180h25v25h-25z" fill="#e36b54"/>
<path d="M1710 180h25v25h-25z" fill="#d65244"/>
<path d="M1734 180h25v25h-25z" fill="#cd423b"/>
<path d="M1758 180h25v25h-25z" fill="#ca3b37"/>
<path d="M1782 180h25v25h-25z" fill="#c73635"/>
<path d="M1806 180h25v25h-25z" fill="#c83836"/>
<path d="M1830 180h25v25h-25z" fill="#cb3e38"/>
<path d="M1854 180h25v25h-25z" fill="#cf453c"/>
<path d="M1878 180h25v25h-25z" fill="#d55042"/>
<path d="M1902 180h25v25h-25z" fill="#d65244"/>
<path d="M1926 180h25v25h-25z" fill="#d95847"/>
<path d="M1950 180h25v25h-25z" fill="#e36b54"/>
<path d="M1974 180h25v25h-25z" fill="#eb7d62"/>
<path d="M1998 180h25v25h-25z" fill="#ea7b60"/>
<path d="M2022 180h25v25h-25z" fill="#de614d"/>
<path d="M2046 180h25v25h-25z" fill="#c43032"/>
<path d="M2070 180h337v25h-337z" fill="#b40426"/>
<path d="M510 204h49v25h-49z" fill="#7da0f9"/>
<path d="M558 204h25v25h-25z" fill="#7ea1fa"/>
<path d="M582 204h25v25h-25z" fill="#80a3fa"/>
<path d="M606 204h25v25h-25z" fill="#6b8df0"/>
<path d="M630 204h25v25h-25z" fill="#506bda"/>
<path d="M654 204h25v25h-25z" fill="#465ecf"/>
<path d="M678 204h25v25h-25z" fill="#4257c9"/>
<path d="M702 204h25v25h-25z" fill="#455cce"/>
<path d="M726 204h25v25h-25z" fill="#536edd"/>
<path d="M750 204h25v25h-25z" fill="#6788ee"/>
<path d="M774 204h25v25h-25z" fill="#6a8bef"/>
<path d="M798 204h25v25h-25z" fill="#6e90f2"/>
<path d="M822 204h25v25h-25z" fill="#7699f6"/>
<path d="M846 204h25v25h-25z" fill="#81a4fb"/>
<path d="M870 204h25v25h-25z" fill="#89acfd"/>
<path d="M894 204h25v25h-25z" fill="#86a9fc"/>
<path d="M918 204h49v25h-49z" fill="#82a6fb"/>
<path d="M966 204h25v25h-25z" fill="#97b8ff"/>
<path d="M990 204h25v25h-25z" fill="#9dbdff"/>
<path d="M1014 204h49v25h-49z" fill="#9ebeff"/>
<path d="M1062 204h25v25h-25z" fill="#a2c1ff"/>
<path d="M1086 204h49v25h-49z" fill="#a9c6fd"/>
<path d="M1134 204h25v25h-25z" fill="#9dbdff"/>
<path d="M1158 204h25v25h-25z" fill="#8fb1fe"/>
<path d="M1182 204h25v25h-25z" fill="#779af7"/>
<path d="M1206 204h25v25h-25z" fill="#6282ea"/>
<path d="M1230 204h25v25h-25z" fill="#536edd"/>
<path d="M1254 204h25v25h-25z" fill="#5875e1"/>
<path d="M1278 204h25v25h-25z" fill="#7093f3"/>
<path d="M1302 204h25v25h-25z" fill="#96b7ff"/>
<path d="M1326 204h25v25h-25z" fill="#e1dad6"/>
<path d="M1350 204h25v25h-25z" fill="#f2c9b4"/>
<path d="M1374 204h25v25h-25z" fill="#f7b194"/>
<path d="M1398 204h25v25h-25z" fill="#f7a98b"/>
<path d="M1422 204h25v25h-25z" fill="#f7a688"/>
<path d="M1446 204h25v25h-25z" fill="#f6a385"/>
<path d="M1470 204h25v25h-25z" fill="#f5a081"/>
<path d="M1494 204h25v25h-25z" fill="#f7ac8e"/>
<path d="M1518 204h25v25h-25z" fill="#f7b99e"/>
<path d="M1542 204h25v25h-25z" fill="#f6bda2"/>
<path d="M1566 204h25v25h-25z" fill="#f7b99e"/>
<path d="M1590 204h25v25h-25z" fill="#f7b396"/>
<path d="M1614 204h25v25h-25z" fill="#f7ac8e"/>
<path d="M1638 204h25v25h-25z" fill="#f59f80"/>
<path d="M1662 204h25v25h-25z" fill="#f08a6c"/>
<path d="M1686 204h25v25h-25z" fill="#e67259"/>
<path d="M1710 204h25v25h-25z" fill="#da5a49"/>
<path d="M1734 204h25v25h-25z" fill="#d1493f"/>
<path d="M1758 204h25v25h-25z" fill="#cf453c"/>
<path d="M1782 204h49v25h-49z" fill="#cb3e38"/>
<path d="M1830 204h25v25h-25z" fill="#cd423b"/>
<path d="M1854 204h25v25h-25z" fill="#d0473d"/>
<path d="M1878 204h49v25h-49z" fill="#d55042"/>
<path d="M1926 204h25v25h-25z" fill="#d85646"/>
<path d="M1950 204h25v25h-25z" fill="#e16751"/>
<path d="M1974 204h25v25h-25z" fill="#e9785d"/>
<path d="M1998 204h25v25h-25z" fill="#e7745b"/>
<path d="M2022 204h25v25h-25z" fill="#da5a49"/>
<path d="M2046 204h25v25h-25z" fill="#c32e31"/>
<path d="M2070 204h313v25h-313z" fill="#b40426"/>
<path d="M486 228h73v25h-73z" fill="#8db0fe"/>
<path d="M558 228h25v25h-25z" fill="#92b4fe"/>
<path d="M582 228h25v25h-25z" fill="#97b8ff"/>
<path d="M606 228h25v25h-25z" fill="#8badfd"/>
<path d="M630 228h25v25h-25z" fill="#6788ee"/>
<path d="M654 228h25v25h-25z" fill="#506bda"/>
<path d="M678 228h25v25h-25z" fill="#455cce"/>
<path d="M702 228h25v25h-25z" fill="#445acc"/>
<path d="M726 228h25v25h-25z" fill="#4b64d5"/>
<path d="M750 228h25v25h-25z" fill="#5d7ce6"/>
<path d="M774 228h25v25h-25z" fill="#6180e9"/>
<path d="M798 228h25v25h-25z" fill="#6485ec"/>
<path d="M822 228h25v25h-25z" fill="#6c8ff1"/>
<path d="M846 228h25v25h-25z" fill="#7597f6"/>
<path d="M870 228h25v25h-25z" fill="#7da0f9"/>
<path d="M894 228h25v25h-25z" fill="#80a3fa"/>
<path d="M918 228h25v25h-25z" fill="#81a4fb"/>
<path d="M942 228h25v25h-25z" fill="#88abfd"/>
<path d="M966 228h25v25h-25z" fill="#96b7ff"/>
<path d="M990 228h25v25h-25z" fill="#9abbff"/>
<path d="M1014 228h25v25h-25z" fill="#98b9ff"/>
<path d="M1038 228h25v25h-25z" fill="#96b7ff"/>
<path d="M1062 228h25v25h-25z" fill="#98b9ff"/>
<path d="M1086 228h49v25h-49z" fill="#9ebeff"/>
<path d="M1134 228h25v25h-25z" fill="#94b6ff"/>
<path d="M1158 228h25v25h-25z" fill="#86a9fc"/>
<path d="M1182 228h25v25h-25z" fill="#7396f5"/>
<path d="M1206 228h25v25h-25z" fill="#5f7fe8"/>
<path d="M1230 228h25v25h-25z" fill="#536edd"/>
<path d="M1254 228h25v25h-25z" fill="#5875e1"/>
<path d="M1278 228h25v25h-25z" fill="#7295f4"/>
<path d="M1302 228h25v25h-25z" fill="#96b7ff"/>
<path d="M1326 228h25v25h-25z" fill="#dfdbd9"/>
<path d="M1350 228h25v25h-25z" fill="#f1ccb8"/>
<path d="M1374 228h25v25h-25z" fill="#f7b89c"/>
<path d="M1398 228h25v25h-25z" fill="#f7af91"/>
<path d="M1422 228h25v25h-25z" fill="#f7aa8c"/>
<path d="M1446 228h25v25h-25z" fill="#f7a688"/>
<path d="M1470 228h25v25h-25z" fill="#f6a385"/>
<path d="M1494 228h25v25h-25z" fill="#f7ac8e"/>
<path d="M1518 228h25v25h-25z" fill="#f7b89c"/>
<path d="M1542 228h25v25h-25z" fill="#f7bca1"/>
<path d="M1566 228h25v25h-25z" fill="#f7b99e"/>
<path d="M1590 228h25v25h-25z" fill="#f7b396"/>
<path d="M1614 228h25v25h-25z" fill="#f7ad90"/>
<path d="M1638 228h25v25h-25z" fill="#f6a385"/>
<path d="M1662 228h25v25h-25z" fill="#f29072"/>
<path d="M1686 228h25v25h-25z" fill="#e97a5f"/>
<path d="M1710 228h25v25h-25z" fill="#e0654f"/>
<path d="M1734 228h25v25h-25z" fill="#d65244"/>
<path d="M1758 228h25v25h-25z" fill="#d24b40"/>
<path d="M1782 228h25v25h-25z" fill="#cf453c"/>
<path d="M1806 228h25v25h-25z" fill="#cd423b"/>
<path d="M1830 228h25v25h-25z" fill="#cf453c"/>
<path d="M1854 228h25v25h-25z" fill="#d0473d"/>
<path d="M1878 228h49v25h-49z" fill="#d24b40"/>
<path d="M1926 228h25v25h-25z" fill="#d55042"/>
<path d="M1950 228h25v25h-25z" fill="#dc5d4a"/>
<path d="M1974 228h25v25h-25z" fill="#e36c55"/>
<path d="M1998 228h25v25h-25z" fill="#e26952"/>
<path d="M2022 228h25v25h-25z" fill="#d55042"/>
<path d="M2046 228h25v25h-25z" fill="#c0282f"/>
<path d="M2070 228h313v25h-313z" fill="#b40426"/>
<path d="M462 252h73v25h-73z" fill="#9abbff"/>
<path d="M534 252h25v25h-25z" fill="#9bbcff"/>
<path d="M558 252h25v25h-25z" fill="#a1c0ff"/>
<path d="M582 252h25v25h-25z" fill="#adc9fd"/>
<path d="M606 252h25v25h-25z" fill="#abc8fd"/>
<path d="M630 252h25v25h-25z" fill="#82a6fb"/>
<path d="M654 252h25v25h-25z" fill="#5d7ce6"/>
<path d="M678 252h25v25h-25z" fill="#4961d2"/>
<path d="M702 252h25v25h-25z" fill="#445acc"/>
<path d="M726 252h25v25h-25z" fill="#485fd1"/>
<path d="M750 252h25v25h-25z" fill="#5470de"/>
<path d="M774 252h25v25h-25z" fill="#5977e3"/>
<path d="M798 252h25v25h-25z" fill="#5e7de7"/>
<path d="M822 252h25v25h-25z" fill="#6485ec"/>
<path d="M846 252h25v25h-25z" fill="#6c8ff1"/>
<path d="M870 252h25v25h-25z" fill="#7597f6"/>
<path d="M894 252h25v25h-25z" fill="#799cf8"/>
<path d="M918 252h25v25h-25z" fill="#80a3fa"/>
<path d="M942 252h25v25h-25z" fill="#8badfd"/>
<path d="M966 252h25v25h-25z" fill="#94b6ff"/>
<path d="M990 252h25v25h-25z" fill="#96b7ff"/>
<path d="M1014 252h25v25h-25z" fill="#93b5fe"/>
<path d="M1038 252h49v25h-49z" fill="#8fb1fe"/>
<path d="M1086 252h49v25h-49z" fill="#94b6ff"/>
<path d="M1134 252h25v25h-25z" fill="#8db0fe"/>
<path d="M1158 252h25v25h-25z" fill="#80a3fa"/>
<path d="M1182 252h25v25h-25z" fill="#6e90f2"/>
<path d="M1206 252h25v25h-25z" fill="#5e7de7"/>
<path d="M1230 252h25v25h-25z" fill="#536edd"/>
<path d="M1254 252h25v25h-25z" fill="#5977e3"/>
<path d="M1278 252h25v25h-25z" fill="#7295f4"/>
<path d="M1302 252h25v25h-25z" fill="#96b7ff"/>
<path d="M1326 252h25v25h-25z" fill="#dcdddd"/>
<path d="M1350 252h25v25h-25z" fill="#efcebd"/>
<path d="M1374 252h25v25h-25z" fill="#f6bfa6"/>
<path d="M1398 252h25v25h-25z" fill="#f7b599"/>
<path d="M1422 252h25v25h-25z" fill="#f7b093"/>
<path d="M1446 252h25v25h-25z" fill="#f7ac8e"/>
<path d="M1470 252h25v25h-25z" fill="#f7a889"/>
<path d="M1494 252h25v25h-25z" fill="#f7ad90"/>
<path d="M1518 252h25v25h-25z" fill="#f7b89c"/>
<path d="M1542 252h25v25h-25z" fill="#f7bca1"/>
<path d="M1566 252h25v25h-25z" fill="#f7b99e"/>
<path d="M1590 252h25v25h-25z" fill="#f7b396"/>
<path d="M1614 252h25v25h-25z" fill="#f7ad90"/>
<path d="M1638 252h25v25h-25z" fill="#f7a688"/>
<path d="M1662 252h25v25h-25z" fill="#f39778"/>
<path d="M1686 252h25v25h-25z" fill="#ed8366"/>
<path d="M1710 252h25v25h-25z" fill="#e46e56"/>
<path d="M1734 252h25v25h-25z" fill="#dc5d4a"/>
<path d="M1758 252h25v25h-25z" fill="#d75445"/>
<path d="M1782 252h25v25h-25z" fill="#d24b40"/>
<path d="M1806 252h49v25h-49z" fill="#d0473d"/>
<path d="M1854 252h73v25h-73z" fill="#d1493f"/>
<path d="M1926 252h25v25h-25z" fill="#d24b40"/>
<path d="M1950 252h25v25h-25z" fill="#d75445"/>
<path d="M1974 252h25v25h-25z" fill="#dd5f4b"/>
<path d="M1998 252h25v25h-25z" fill="#da5a49"/>
<path d="M2022 252h25v25h-25z" fill="#cd423b"/>
<path d="M2046 252h25v25h-25z" fill="#bd1f2d"/>
<path d="M2070 252h289v25h-289z" fill="#b40426"/>
<path d="M438 276h97v25h-97z" fill="#9ebeff"/>
<path d="M534 276h25v25h-25z" fill="#9fbfff"/>
<path d="M558 276h25v25h-25z" fill="#a9c6fd"/>
<path d="M582 276h25v25h-25z" fill="#bcd2f7"/>
<path d="M606 276h25v25h-25z" fill="#c1d4f4"/>
<path d="M630 276h25v25h-25z" fill="#9abbff"/>
<path d="M654 276h25v25h-25z" fill="#6e90f2"/>
<path d="M678 276h25v25h-25z" fill="#516ddb"/>
<path d="M702 276h49v25h-49z" fill="#455cce"/>
<path d="M750 276h25v25h-25z" fill="#506bda"/>
<path d="M774 276h25v25h-25z" fill="#5673e0"/>
<path d="M798 276h25v25h-25z" fill="#5d7ce6"/>
<path d="M822 276h25v25h-25z" fill="#6282ea"/>
<path d="M846 276h25v25h-25z" fill="#6a8bef"/>
<path d="M870 276h25v25h-25z" fill="#7093f3"/>
<path d="M894 276h25v25h-25z" fill="#779af7"/>
<path d="M918 276h25v25h-25z" fill="#7ea1fa"/>
<path d="M942 276h25v25h-25z" fill="#89acfd"/>
<path d="M966 276h25v25h-25z" fill="#8db0fe"/>
<path d="M990 276h25v25h-25z" fill="#8fb1fe"/>
<path d="M1014 276h25v25h-25z" fill="#8caffe"/>
<path d="M1038 276h25v25h-25z" fill="#89acfd"/>
<path d="M1062 276h25v25h-25z" fill="#8caffe"/>
<path d="M1086 276h49v25h-49z" fill="#90b2fe"/>
<path d="M1134 276h25v25h-25z" fill="#88abfd"/>
<path d="M1158 276h25v25h-25z" fill="#7b9ff9"/>
<path d="M1182 276h25v25h-25z" fill="#6b8df0"/>
<path d="M1206 276h25v25h-25z" fill="#5d7ce6"/>
<path d="M1230 276h25v25h-25z" fill="#5470de"/>
<path d="M1254 276h25v25h-25z" fill="#5a78e4"/>
<path d="M1278 276h25v25h-25z" fill="#7093f3"/>
<path d="M1302 276h25v25h-25z" fill="#92b4fe"/>
<path d="M1326 276h25v25h-25z" fill="#d8dce2"/>
<path d="M1350 276h25v25h-25z" fill="#ecd3c5"/>
<path d="M1374 276h25v25h-25z" fill="#f4c6af"/>
<path d="M1398 276h25v25h-25z" fill="#f6bfa6"/>
<path d="M1422 276h25v25h-25z" fill="#f7b99e"/>
<path d="M1446 276h25v25h-25z" fill="#f7b599"/>
<path d="M1470 276h25v25h-25z" fill="#f7b497"/>
<path d="M1494 276h25v25h-25z" fill="#f7b89c"/>
<path d="M1518 276h49v25h-49z" fill="#f6bfa6"/>
<path d="M1566 276h25v25h-25z" fill="#f7bca1"/>
<path d="M1590 276h25v25h-25z" fill="#f7b79b"/>
<path d="M1614 276h25v25h-25z" fill="#f7b194"/>
<path d="M1638 276h25v25h-25z" fill="#f7ac8e"/>
<path d="M1662 276h25v25h-25z" fill="#f59f80"/>
<path d="M1686 276h25v25h-25z" fill="#f18d6f"/>
<path d="M1710 276h25v25h-25z" fill="#e97a5f"/>
<path d="M1734 276h25v25h-25z" fill="#e36b54"/>
<path d="M1758 276h25v25h-25z" fill="#dd5f4b"/>
<path d="M1782 276h25v25h-25z" fill="#d75445"/>
<path d="M1806 276h73v25h-73z" fill="#d55042"/>
<path d="M1878 276h73v25h-73z" fill="#d24b40"/>
<path d="M1950 276h25v25h-25z" fill="#d44e41"/>
<path d="M1974 276h25v25h-25z" fill="#d85646"/>
<path d="M1998 276h25v25h-25z" fill="#d44e41"/>
<path d="M2022 276h25v25h-25z" fill="#ca3b37"/>
<path d="M2046 276h25v25h-25z" fill="#b8122a"/>
<path d="M2070 276h265v25h-265z" fill="#b40426"/>
<path d="M438 300h97v25h-97z" fill="#9ebeff"/>
<path d="M534 300h25v25h-25z" fill="#9fbfff"/>
<path d="M558 300h25v25h-25z" fill="#adc9fd"/>
<path d="M582 300h25v25h-25z" fill="#c6d6f1"/>
<path d="M606 300h25v25h-25z" fill="#cfdaea"/>
<path d="M630 300h25v25h-25z" fill="#adc9fd"/>
<path d="M654 300h25v25h-25z" fill="#7ea1fa"/>
<path d="M678 300h25v25h-25z" fill="#5a78e4"/>
<path d="M702 300h25v25h-25z" fill="#4961d2"/>
<path d="M726 300h25v25h-25z" fill="#455cce"/>
<path d="M750 300h25v25h-25z" fill="#4e68d8"/>
<path d="M774 300h25v25h-25z" fill="#5673e0"/>
<path d="M798 300h25v25h-25z" fill="#5d7ce6"/>
<path d="M822 300h25v25h-25z" fill="#6282ea"/>
<path d="M846 300h25v25h-25z" fill="#6a8bef"/>
<path d="M870 300h25v25h-25z" fill="#6f92f3"/>
<path d="M894 300h25v25h-25z" fill="#7699f6"/>
<path d="M918 300h25v25h-25z" fill="#7da0f9"/>
<path d="M942 300h25v25h-25z" fill="#85a8fc"/>
<path d="M966 300h73v25h-73z" fill="#86a9fc"/>
<path d="M1038 300h25v25h-25z" fill="#85a8fc"/>
<path d="M1062 300h25v25h-25z" fill="#8badfd"/>
<path d="M1086 300h25v25h-25z" fill="#90b2fe"/>
<path d="M1110 300h25v25h-25z" fill="#8fb1fe"/>
<path d="M1134 300h25v25h-25z" fill="#84a7fc"/>
<path d="M1158 300h25v25h-25z" fill="#799cf8"/>
<path d="M1182 300h25v25h-25z" fill="#6a8bef"/>
<path d="M1206 300h25v25h-25z" fill="#5b7ae5"/>
<path d="M1230 300h25v25h-25z" fill="#5470de"/>
<path d="M1254 300h25v25h-25z" fill="#5d7ce6"/>
<path d="M1278 300h25v25h-25z" fill="#7093f3"/>
<path d="M1302 300h25v25h-25z" fill="#8caffe"/>
<path d="M1326 300h25v25h-25z" fill="#d2dbe8"/>
<path d="M1350 300h25v25h-25z" fill="#e6d7cf"/>
<path d="M1374 300h25v25h-25z" fill="#f0cdbb"/>
<path d="M1398 300h25v25h-25z" fill="#f3c8b2"/>
<path d="M1422 300h25v25h-25z" fill="#f5c4ac"/>
<path d="M1446 300h25v25h-25z" fill="#f5c1a9"/>
<path d="M1470 300h25v25h-25z" fill="#f5c2aa"/>
<path d="M1494 300h25v25h-25z" fill="#f5c4ac"/>
<path d="M1518 300h25v25h-25z" fill="#f3c7b1"/>
<path d="M1542 300h25v25h-25z" fill="#f4c5ad"/>
<path d="M1566 300h25v25h-25z" fill="#f5c0a7"/>
<path d="M1590 300h25v25h-25z" fill="#f7ba9f"/>
<path d="M1614 300h25v25h-25z" fill="#f7b599"/>
<path d="M1638 300h25v25h-25z" fill="#f7b093"/>
<path d="M1662 300h25v25h-25z" fill="#f6a586"/>
<path d="M1686 300h25v25h-25z" fill="#f39778"/>
<path d="M1710 300h25v25h-25z" fill="#ef886b"/>
<path d="M1734 300h25v25h-25z" fill="#e8765c"/>
<path d="M1758 300h25v25h-25z" fill="#e36b54"/>
<path d="M1782 300h25v25h-25z" fill="#dd5f4b"/>
<path d="M1806 300h73v25h-73z" fill="#d95847"/>
<path d="M1878 300h25v25h-25z" fill="#d65244"/>
<path d="M1902 300h25v25h-25z" fill="#d44e41"/>
<path d="M1926 300h49v25h-49z" fill="#d24b40"/>
<path d="M1974 300h25v25h-25z" fill="#d44e41"/>
<path d="M1998 300h25v25h-25z" fill="#cf453c"/>
<path d="M2022 300h25v25h-25z" fill="#c43032"/>
<path d="M2046 300h25v25h-25z" fill="#b50927"/>
<path d="M2070 300h241v25h-241z" fill="#b40426"/>
<path d="M438 324h97v25h-97z" fill="#9ebeff"/>
<path d="M534 324h25v25h-25z" fill="#9fbfff"/>
<path d="M558 324h25v25h-25z" fill="#aec9fc"/>
<path d="M582 324h25v25h-25z" fill="#cad8ef"/>
<path d="M606 324h25v25h-25z" fill="#d6dce4"/>
<path d="M630 324h25v25h-25z" fill="#b6cefa"/>
<path d="M654 324h25v25h-25z" fill="#88abfd"/>
<path d="M678 324h25v25h-25z" fill="#6180e9"/>
<path d="M702 324h25v25h-25z" fill="#4e68d8"/>
<path d="M726 324h25v25h-25z" fill="#465ecf"/>
<path d="M750 324h25v25h-25z" fill="#4e68d8"/>
<path d="M774 324h25v25h-25z" fill="#5673e0"/>
<path d="M798 324h25v25h-25z" fill="#5e7de7"/>
<path d="M822 324h25v25h-25z" fill="#6384eb"/>
<path d="M846 324h25v25h-25z" fill="#6a8bef"/>
<path d="M870 324h25v25h-25z" fill="#6f92f3"/>
<path d="M894 324h25v25h-25z" fill="#7699f6"/>
<path d="M918 324h25v25h-25z" fill="#7da0f9"/>
<path d="M942 324h97v25h-97z" fill="#81a4fb"/>
<path d="M1038 324h25v25h-25z" fill="#82a6fb"/>
<path d="M1062 324h25v25h-25z" fill="#8caffe"/>
<path d="M1086 324h25v25h-25z" fill="#92b4fe"/>
<path d="M1110 324h25v25h-25z" fill="#8fb1fe"/>
<path d="M1134 324h25v25h-25z" fill="#80a3fa"/>
<path d="M1158 324h25v25h-25z" fill="#7597f6"/>
<path d="M1182 324h25v25h-25z" fill="#6788ee"/>
<path d="M1206 324h25v25h-25z" fill="#5b7ae5"/>
<path d="M1230 324h25v25h-25z" fill="#5572df"/>
<path d="M1254 324h25v25h-25z" fill="#5f7fe8"/>
<path d="M1278 324h25v25h-25z" fill="#6f92f3"/>
<path d="M1302 324h25v25h-25z" fill="#86a9fc"/>
<path d="M1326 324h25v25h-25z" fill="#ccd9ed"/>
<path d="M1350 324h25v25h-25z" fill="#e1dad6"/>
<path d="M1374 324h25v25h-25z" fill="#ead4c8"/>
<path d="M1398 324h25v25h-25z" fill="#eed0c0"/>
<path d="M1422 324h25v25h-25z" fill="#f1ccb8"/>
<path d="M1446 324h25v25h-25z" fill="#f2cbb7"/>
<path d="M1470 324h25v25h-25z" fill="#f1cdba"/>
<path d="M1494 324h25v25h-25z" fill="#f2cbb7"/>
<path d="M1518 324h25v25h-25z" fill="#f1ccb8"/>
<path d="M1542 324h25v25h-25z" fill="#f3c8b2"/>
<path d="M1566 324h25v25h-25z" fill="#f5c2aa"/>
<path d="M1590 324h25v25h-25z" fill="#f6bda2"/>
<path d="M1614 324h25v25h-25z" fill="#f7b89c"/>
<path d="M1638 324h25v25h-25z" fill="#f7b396"/>
<path d="M1662 324h25v25h-25z" fill="#f7a98b"/>
<path d="M1686 324h25v25h-25z" fill="#f59d7e"/>
<path d="M1710 324h25v25h-25z" fill="#f29072"/>
<path d="M1734 324h25v25h-25z" fill="#ec7f63"/>
<path d="M1758 324h25v25h-25z" fill="#e67259"/>
<path d="M1782 324h25v25h-25z" fill="#e16751"/>
<path d="M1806 324h49v25h-49z" fill="#dd5f4b"/>
<path d="M1854 324h25v25h-25z" fill="#de614d"/>
<path d="M1878 324h25v25h-25z" fill="#d95847"/>
<path d="M1902 324h25v25h-25z" fill="#d65244"/>
<path d="M1926 324h25v25h-25z" fill="#d44e41"/>
<path d="M1950 324h25v25h-25z" fill="#d24b40"/>
<path d="M1974 324h25v25h-25z" fill="#d0473d"/>
<path d="M1998 324h25v25h-25z" fill="#ca3b37"/>
<path d="M2022 324h25v25h-25z" fill="#c12b30"/>
<path d="M2046 324h241v25h-241z" fill="#b40426"/>
<path d="M438 348h97v25h-97z" fill="#9ebeff"/>
<path d="M534 348h25v25h-25z" fill="#9fbfff"/>
<path d="M558 348h25v25h-25z" fill="#abc8fd"/>
<path d="M582 348h25v25h-25z" fill="#c7d7f0"/>
<path d="M606 348h25v25h-25z" fill="#d4dbe6"/>
<path d="M630 348h25v25h-25z" fill="#b5cdfa"/>
<path d="M654 348h25v25h-25z" fill="#88abfd"/>
<path d="M678 348h25v25h-25z" fill="#6384eb"/>
<path d="M702 348h25v25h-25z" fill="#5470de"/>
<path d="M726 348h25v25h-25z" fill="#4961d2"/>
<path d="M750 348h25v25h-25z" fill="#506bda"/>
<path d="M774 348h25v25h-25z" fill="#5977e3"/>
<path d="M798 348h25v25h-25z" fill="#6180e9"/>
<path d="M822 348h25v25h-25z" fill="#6485ec"/>
<path d="M846 348h25v25h-25z" fill="#6a8bef"/>
<path d="M870 348h25v25h-25z" fill="#6f92f3"/>
<path d="M894 348h25v25h-25z" fill="#7699f6"/>
<path d="M918 348h25v25h-25z" fill="#7b9ff9"/>
<path d="M942 348h97v25h-97z" fill="#7ea1fa"/>
<path d="M1038 348h25v25h-25z" fill="#82a6fb"/>
<path d="M1062 348h25v25h-25z" fill="#8db0fe"/>
<path d="M1086 348h25v25h-25z" fill="#93b5fe"/>
<path d="M1110 348h25v25h-25z" fill="#8db0fe"/>
<path d="M1134 348h25v25h-25z" fill="#7da0f9"/>
<path d="M1158 348h25v25h-25z" fill="#7093f3"/>
<path d="M1182 348h25v25h-25z" fill="#6384eb"/>
<path d="M1206 348h25v25h-25z" fill="#5a78e4"/>
<path d="M1230 348h25v25h-25z" fill="#5875e1"/>
<path d="M1254 348h25v25h-25z" fill="#6384eb"/>
<path d="M1278 348h25v25h-25z" fill="#7093f3"/>
<path d="M1302 348h25v25h-25z" fill="#82a6fb"/>
<path d="M1326 348h25v25h-25z" fill="#c6d6f1"/>
<path d="M1350 348h25v25h-25z" fill="#dcdddd"/>
<path d="M1374 348h25v25h-25z" fill="#e3d9d3"/>
<path d="M1398 348h25v25h-25z" fill="#e8d6cc"/>
<path d="M1422 348h25v25h-25z" fill="#ecd3c5"/>
<path d="M1446 348h25v25h-25z" fill="#edd1c2"/>
<path d="M1470 348h25v25h-25z" fill="#ecd3c5"/>
<path d="M1494 348h25v25h-25z" fill="#efcfbf"/>
<path d="M1518 348h25v25h-25z" fill="#f0cdbb"/>
<path d="M1542 348h25v25h-25z" fill="#f2cab5"/>
<path d="M1566 348h25v25h-25z" fill="#f5c4ac"/>
<path d="M1590 348h25v25h-25z" fill="#f6bea4"/>
<path d="M1614 348h25v25h-25z" fill="#f7b99e"/>
<path d="M1638 348h25v25h-25z" fill="#f7b396"/>
<path d="M1662 348h25v25h-25z" fill="#f7aa8c"/>
<path d="M1686 348h25v25h-25z" fill="#f5a081"/>
<path d="M1710 348h25v25h-25z" fill="#f39577"/>
<path d="M1734 348h25v25h-25z" fill="#ee8669"/>
<path d="M1758 348h25v25h-25z" fill="#e97a5f"/>
<path d="M1782 348h25v25h-25z" fill="#e36b54"/>
<path d="M1806 348h49v25h-49z" fill="#e0654f"/>
<path d="M1854 348h25v25h-25z" fill="#e16751"/>
<path d="M1878 348h25v25h-25z" fill="#dd5f4b"/>
<path d="M1902 348h25v25h-25z" fill="#d95847"/>
<path d="M1926 348h25v25h-25z" fill="#d65244"/>
<path d="M1950 348h25v25h-25z" fill="#d24b40"/>
<path d="M1974 348h25v25h-25z" fill="#cf453c"/>
<path d="M1998 348h25v25h-25z" fill="#c83836"/>
<path d="M2022 348h25v25h-25z" fill="#c0282f"/>
<path d="M2046 348h241v25h-241z" fill="#b40426"/>
<path d="M438 372h121v25h-121z" fill="#9ebeff"/>
<path d="M558 372h25v25h-25z" fill="#a9c6fd"/>
<path d="M582 372h25v25h-25z" fill="#c3d5f4"/>
<path d="M606 372h25v25h-25z" fill="#cdd9ec"/>
<path d="M630 372h25v25h-25z" fill="#afcafc"/>
<path d="M654 372h25v25h-25z" fill="#88abfd"/>
<path d="M678 372h25v25h-25z" fill="#6687ed"/>
<path d="M702 372h25v25h-25z" fill="#5977e3"/>
<path d="M726 372h25v25h-25z" fill="#4b64d5"/>
<path d="M750 372h25v25h-25z" fill="#536edd"/>
<path d="M774 372h25v25h-25z" fill="#5b7ae5"/>
<path d="M798 372h25v25h-25z" fill="#6384eb"/>
<path d="M822 372h25v25h-25z" fill="#6788ee"/>
<path d="M846 372h25v25h-25z" fill="#6a8bef"/>
<path d="M870 372h25v25h-25z" fill="#6f92f3"/>
<path d="M894 372h25v25h-25z" fill="#7699f6"/>
<path d="M918 372h97v25h-97z" fill="#7b9ff9"/>
<path d="M1014 372h25v25h-25z" fill="#7da0f9"/>
<path d="M1038 372h25v25h-25z" fill="#82a6fb"/>
<path d="M1062 372h25v25h-25z" fill="#8fb1fe"/>
<path d="M1086 372h25v25h-25z" fill="#93b5fe"/>
<path d="M1110 372h25v25h-25z" fill="#8db0fe"/>
<path d="M1134 372h25v25h-25z" fill="#7a9df8"/>
<path d="M1158 372h25v25h-25z" fill="#6e90f2"/>
<path d="M1182 372h25v25h-25z" fill="#6180e9"/>
<path d="M1206 372h25v25h-25z" fill="#5977e3"/>
<path d="M1230 372h25v25h-25z" fill="#5a78e4"/>
<path d="M1254 372h25v25h-25z" fill="#6687ed"/>
<path d="M1278 372h25v25h-25z" fill="#7093f3"/>
<path d="M1302 372h25v25h-25z" fill="#80a3fa"/>
<path d="M1326 372h25v25h-25z" fill="#c1d4f4"/>
<path d="M1350 372h25v25h-25z" fill="#d7dce3"/>
<path d="M1374 372h25v25h-25z" fill="#dcdddd"/>
<path d="M1398 372h25v25h-25z" fill="#e1dad6"/>
<path d="M1422 372h25v25h-25z" fill="#e6d7cf"/>
<path d="M1446 372h25v25h-25z" fill="#e8d6cc"/>
<path d="M1470 372h25v25h-25z" fill="#e7d7ce"/>
<path d="M1494 372h25v25h-25z" fill="#ebd3c6"/>
<path d="M1518 372h25v25h-25z" fill="#eed0c0"/>
<path d="M1542 372h25v25h-25z" fill="#f2cbb7"/>
<path d="M1566 372h25v25h-25z" fill="#f4c5ad"/>
<path d="M1590 372h25v25h-25z" fill="#f6bfa6"/>
<path d="M1614 372h25v25h-25z" fill="#f7ba9f"/>
<path d="M1638 372h25v25h-25z" fill="#f7b497"/>
<path d="M1662 372h25v25h-25z" fill="#f7ac8e"/>
<path d="M1686 372h25v25h-25z" fill="#f6a385"/>
<path d="M1710 372h25v25h-25z" fill="#f4987a"/>
<path d="M1734 372h25v25h-25z" fill="#f08b6e"/>
<path d="M1758 372h25v25h-25z" fill="#ec7f63"/>
<path d="M1782 372h25v25h-25z" fill="#e57058"/>
<path d="M1806 372h25v25h-25z" fill="#e36b54"/>
<path d="M1830 372h25v25h-25z" fill="#e36c55"/>
<path d="M1854 372h25v25h-25z" fill="#e46e56"/>
<path d="M1878 372h25v25h-25z" fill="#e0654f"/>
<path d="M1902 372h25v25h-25z" fill="#dc5d4a"/>
<path d="M1926 372h25v25h-25z" fill="#d75445"/>
<path d="M1950 372h25v25h-25z" fill="#d24b40"/>
<path d="M1974 372h25v25h-25z" fill="#cf453c"/>
<path d="M1998 372h25v25h-25z" fill="#c73635"/>
<path d="M2022 372h25v25h-25z" fill="#be242e"/>
<path d="M2046 372h217v25h-217z" fill="#b40426"/>
<path d="M438 396h121v25h-121z" fill="#9bbcff"/>
<path d="M558 396h25v25h-25z" fill="#a5c3fe"/>
<path d="M582 396h25v25h-25z" fill="#b9d0f9"/>
<path d="M606 396h25v25h-25z" fill="#c1d4f4"/>
<path d="M630 396h25v25h-25z" fill="#a6c4fe"/>
<path d="M654 396h25v25h-25z" fill="#85a8fc"/>
<path d="M678 396h25v25h-25z" fill="#6a8bef"/>
<path d="M702 396h25v25h-25z" fill="#5a78e4"/>
<path d="M726 396h25v25h-25z" fill="#4c66d6"/>
<path d="M750 396h25v25h-25z" fill="#5572df"/>
<path d="M774 396h25v25h-25z" fill="#5e7de7"/>
<path d="M798 396h25v25h-25z" fill="#6485ec"/>
<path d="M822 396h25v25h-25z" fill="#688aef"/>
<path d="M846 396h25v25h-25z" fill="#6a8bef"/>
<path d="M870 396h25v25h-25z" fill="#6f92f3"/>
<path d="M894 396h25v25h-25z" fill="#7699f6"/>
<path d="M918 396h97v25h-97z" fill="#7b9ff9"/>
<path d="M1014 396h25v25h-25z" fill="#7da0f9"/>
<path d="M1038 396h25v25h-25z" fill="#82a6fb"/>
<path d="M1062 396h25v25h-25z" fill="#8db0fe"/>
<path d="M1086 396h25v25h-25z" fill="#92b4fe"/>
<path d="M1110 396h25v25h-25z" fill="#8caffe"/>
<path d="M1134 396h25v25h-25z" fill="#7a9df8"/>
<path d="M1158 396h25v25h-25z" fill="#6c8ff1"/>
<path d="M1182 396h25v25h-25z" fill="#6180e9"/>
<path d="M1206 396h25v25h-25z" fill="#5977e3"/>
<path d="M1230 396h25v25h-25z" fill="#5a78e4"/>
<path d="M1254 396h25v25h-25z" fill="#6788ee"/>
<path d="M1278 396h25v25h-25z" fill="#7093f3"/>
<path d="M1302 396h25v25h-25z" fill="#7ea1fa"/>
<path d="M1326 396h25v25h-25z" fill="#c3d5f4"/>
<path d="M1350 396h25v25h-25z" fill="#d3dbe7"/>
<path d="M1374 396h25v25h-25z" fill="#d8dce2"/>
<path d="M1398 396h25v25h-25z" fill="#dddcdc"/>
<path d="M1422 396h25v25h-25z" fill="#e1dad6"/>
<path d="M1446 396h25v25h-25z" fill="#e3d9d3"/>
<path d="M1470 396h25v25h-25z" fill="#e4d9d2"/>
<path d="M1494 396h25v25h-25z" fill="#e9d5cb"/>
<path d="M1518 396h25v25h-25z" fill="#edd2c3"/>
<path d="M1542 396h25v25h-25z" fill="#f0cdbb"/>
<path d="M1566 396h25v25h-25z" fill="#f2c9b4"/>
<path d="M1590 396h25v25h-25z" fill="#f5c4ac"/>
<path d="M1614 396h25v25h-25z" fill="#f6bea4"/>
<path d="M1638 396h25v25h-25z" fill="#f7b89c"/>
<path d="M1662 396h25v25h-25z" fill="#f7b093"/>
<path d="M1686 396h25v25h-25z" fill="#f7a889"/>
<path d="M1710 396h25v25h-25z" fill="#f59d7e"/>
<path d="M1734 396h25v25h-25z" fill="#f29274"/>
<path d="M1758 396h25v25h-25z" fill="#ee8669"/>
<path d="M1782 396h25v25h-25z" fill="#e97a5f"/>
<path d="M1806 396h25v25h-25z" fill="#e7745b"/>
<path d="M1830 396h49v25h-49z" fill="#e8765c"/>
<path d="M1878 396h25v25h-25z" fill="#e46e56"/>
<path d="M1902 396h25v25h-25z" fill="#df634e"/>
<path d="M1926 396h25v25h-25z" fill="#d95847"/>
<path d="M1950 396h25v25h-25z" fill="#d44e41"/>
<path d="M1974 396h25v25h-25z" fill="#cf453c"/>
<path d="M1998 396h25v25h-25z" fill="#c73635"/>
<path d="M2022 396h25v25h-25z" fill="#be242e"/>
<path d="M2046 396h25v25h-25z" fill="#b50927"/>
<path d="M2070 396h193v25h-193z" fill="#b40426"/>
<path d="M438 420h121v25h-121z" fill="#97b8ff"/>
<path d="M558 420h25v25h-25z" fill="#9ebeff"/>
<path d="M582 420h25v25h-25z" fill="#adc9fd"/>
<path d="M606 420h25v25h-25z" fill="#b1cbfc"/>
<path d="M630 420h25v25h-25z" fill="#9abbff"/>
<path d="M654 420h25v25h-25z" fill="#80a3fa"/>
<path d="M678 420h25v25h-25z" fill="#6c8ff1"/>
<path d="M702 420h25v25h-25z" fill="#5a78e4"/>
<path d="M726 420h25v25h-25z" fill="#4f69d9"/>
<path d="M750 420h25v25h-25z" fill="#5875e1"/>
<path d="M774 420h25v25h-25z" fill="#5f7fe8"/>
<path d="M798 420h25v25h-25z" fill="#6687ed"/>
<path d="M822 420h25v25h-25z" fill="#688aef"/>
<path d="M846 420h25v25h-25z" fill="#6a8bef"/>
<path d="M870 420h25v25h-25z" fill="#6f92f3"/>
<path d="M894 420h25v25h-25z" fill="#7699f6"/>
<path d="M918 420h97v25h-97z" fill="#7b9ff9"/>
<path d="M1014 420h25v25h-25z" fill="#7da0f9"/>
<path d="M1038 420h25v25h-25z" fill="#82a6fb"/>
<path d="M1062 420h25v25h-25z" fill="#89acfd"/>
<path d="M1086 420h25v25h-25z" fill="#8fb1fe"/>
<path d="M1110 420h25v25h-25z" fill="#8badfd"/>
<path d="M1134 420h25v25h-25z" fill="#799cf8"/>
<path d="M1158 420h25v25h-25z" fill="#6c8ff1"/>
<path d="M1182 420h25v25h-25z" fill="#6180e9"/>
<path d="M1206 420h25v25h-25z" fill="#5977e3"/>
<path d="M1230 420h25v25h-25z" fill="#5a78e4"/>
<path d="M1254 420h25v25h-25z" fill="#6687ed"/>
<path d="M1278 420h25v25h-25z" fill="#6f92f3"/>
<path d="M1302 420h25v25h-25z" fill="#7b9ff9"/>
<path d="M1326 420h25v25h-25z" fill="#c4d5f3"/>
<path d="M1350 420h25v25h-25z" fill="#cdd9ec"/>
<path d="M1374 420h25v25h-25z" fill="#d5dbe5"/>
<path d="M1398 420h25v25h-25z" fill="#dadce0"/>
<path d="M1422 420h25v25h-25z" fill="#dddcdc"/>
<path d="M1446 420h25v25h-25z" fill="#dfdbd9"/>
<path d="M1470 420h25v25h-25z" fill="#e2dad5"/>
<path d="M1494 420h25v25h-25z" fill="#e6d7cf"/>
<path d="M1518 420h25v25h-25z" fill="#ead4c8"/>
<path d="M1542 420h25v25h-25z" fill="#eed0c0"/>
<path d="M1566 420h25v25h-25z" fill="#f1cdba"/>
<path d="M1590 420h25v25h-25z" fill="#f2c9b4"/>
<path d="M1614 420h25v25h-25z" fill="#f5c2aa"/>
<path d="M1638 420h25v25h-25z" fill="#f7bca1"/>
<path d="M1662 420h25v25h-25z" fill="#f7b497"/>
<path d="M1686 420h25v25h-25z" fill="#f7ac8e"/>
<path d="M1710 420h25v25h-25z" fill="#f6a283"/>
<path d="M1734 420h25v25h-25z" fill="#f4987a"/>
<path d="M1758 420h25v25h-25z" fill="#f18f71"/>
<path d="M1782 420h25v25h-25z" fill="#ed8366"/>
<path d="M1806 420h25v25h-25z" fill="#ec7f63"/>
<path d="M1830 420h25v25h-25z" fill="#ec8165"/>
<path d="M1854 420h25v25h-25z" fill="#eb7d62"/>
<path d="M1878 420h25v25h-25z" fill="#e8765c"/>
<path d="M1902 420h25v25h-25z" fill="#e36b54"/>
<path d="M1926 420h25v25h-25z" fill="#dc5d4a"/>
<path d="M1950 420h25v25h-25z" fill="#d65244"/>
<path d="M1974 420h25v25h-25z" fill="#cf453c"/>
<path d="M1998 420h25v25h-25z" fill="#c73635"/>
<path d="M2022 420h25v25h-25z" fill="#be242e"/>
<path d="M2046 420h25v25h-25z" fill="#b50927"/>
<path d="M2070 420h169v25h-169z" fill="#b40426"/>
<path d="M462 444h73v25h-73z" fill="#8db0fe"/>
<path d="M534 444h25v25h-25z" fill="#8fb1fe"/>
<path d="M558 444h25v25h-25z" fill="#93b5fe"/>
<path d="M582 444h25v25h-25z" fill="#9abbff"/>
<path d="M606 444h25v25h-25z" fill="#98b9ff"/>
<path d="M630 444h25v25h-25z" fill="#85a8fc"/>
<path d="M654 444h25v25h-25z" fill="#7295f4"/>
<path d="M678 444h25v25h-25z" fill="#6384eb"/>
<path d="M702 444h25v25h-25z" fill="#5875e1"/>
<path d="M726 444h25v25h-25z" fill="#516ddb"/>
<path d="M750 444h25v25h-25z" fill="#5977e3"/>
<path d="M774 444h25v25h-25z" fill="#5f7fe8"/>
<path d="M798 444h25v25h-25z" fill="#6485ec"/>
<path d="M822 444h25v25h-25z" fill="#688aef"/>
<path d="M846 444h25v25h-25z" fill="#6a8bef"/>
<path d="M870 444h25v25h-25z" fill="#6f92f3"/>
<path d="M894 444h25v25h-25z" fill="#7597f6"/>
<path d="M918 444h25v25h-25z" fill="#7a9df8"/>
<path d="M942 444h49v25h-49z" fill="#7b9ff9"/>
<path d="M990 444h49v25h-49z" fill="#7da0f9"/>
<path d="M1038 444h25v25h-25z" fill="#7ea1fa"/>
<path d="M1062 444h25v25h-25z" fill="#82a6fb"/>
<path d="M1086 444h25v25h-25z" fill="#84a7fc"/>
<path d="M1110 444h25v25h-25z" fill="#80a3fa"/>
<path d="M1134 444h25v25h-25z" fill="#7295f4"/>
<path d="M1158 444h25v25h-25z" fill="#688aef"/>
<path d="M1182 444h25v25h-25z" fill="#5f7fe8"/>
<path d="M1206 444h25v25h-25z" fill="#5977e3"/>
<path d="M1230 444h25v25h-25z" fill="#5b7ae5"/>
<path d="M1254 444h25v25h-25z" fill="#6485ec"/>
<path d="M1278 444h25v25h-25z" fill="#6a8bef"/>
<path d="M1302 444h25v25h-25z" fill="#7699f6"/>
<path d="M1326 444h25v25h-25z" fill="#c1d4f4"/>
<path d="M1350 444h25v25h-25z" fill="#c7d7f0"/>
<path d="M1374 444h25v25h-25z" fill="#cfdaea"/>
<path d="M1398 444h25v25h-25z" fill="#d4dbe6"/>
<path d="M1422 444h25v25h-25z" fill="#d7dce3"/>
<path d="M1446 444h25v25h-25z" fill="#dadce0"/>
<path d="M1470 444h25v25h-25z" fill="#dfdbd9"/>
<path d="M1494 444h25v25h-25z" fill="#e3d9d3"/>
<path d="M1518 444h25v25h-25z" fill="#e7d7ce"/>
<path d="M1542 444h25v25h-25z" fill="#ead4c8"/>
<path d="M1566 444h25v25h-25z" fill="#edd1c2"/>
<path d="M1590 444h25v25h-25z" fill="#f0cdbb"/>
<path d="M1614 444h25v25h-25z" fill="#f3c8b2"/>
<path d="M1638 444h25v25h-25z" fill="#f5c1a9"/>
<path d="M1662 444h25v25h-25z" fill="#f7b99e"/>
<path d="M1686 444h25v25h-25z" fill="#f7b194"/>
<path d="M1710 444h25v25h-25z" fill="#f7a98b"/>
<path d="M1734 444h25v25h-25z" fill="#f5a081"/>
<path d="M1758 444h25v25h-25z" fill="#f39778"/>
<path d="M1782 444h25v25h-25z" fill="#f08b6e"/>
<path d="M1806 444h49v25h-49z" fill="#f08a6c"/>
<path d="M1854 444h25v25h-25z" fill="#ee8669"/>
<path d="M1878 444h25v25h-25z" fill="#ec7f63"/>
<path d="M1902 444h25v25h-25z" fill="#e57058"/>
<path d="M1926 444h25v25h-25z" fill="#df634e"/>
<path d="M1950 444h25v25h-25z" fill="#d75445"/>
<path d="M1974 444h25v25h-25z" fill="#cf453c"/>
<path d="M1998 444h25v25h-25z" fill="#c73635"/>
<path d="M2022 444h25v25h-25z" fill="#be242e"/>
<path d="M2046 444h25v25h-25z" fill="#b70d28"/>
<path d="M2070 444h169v25h-169z" fill="#b40426"/>
<path d="M462 468h97v25h-97z" fill="#81a4fb"/>
<path d="M558 468h49v25h-49z" fill="#82a6fb"/>
<path d="M606 468h25v25h-25z" fill="#7da0f9"/>
<path d="M630 468h25v25h-25z" fill="#6c8ff1"/>
<path d="M654 468h25v25h-25z" fill="#5f7fe8"/>
<path d="M678 468h25v25h-25z" fill="#5875e1"/>
<path d="M702 468h25v25h-25z" fill="#536edd"/>
<path d="M726 468h25v25h-25z" fill="#5470de"/>
<path d="M750 468h25v25h-25z" fill="#5977e3"/>
<path d="M774 468h25v25h-25z" fill="#5e7de7"/>
<path d="M798 468h25v25h-25z" fill="#6282ea"/>
<path d="M822 468h25v25h-25z" fill="#6788ee"/>
<path d="M846 468h25v25h-25z" fill="#6a8bef"/>
<path d="M870 468h25v25h-25z" fill="#6f92f3"/>
<path d="M894 468h25v25h-25z" fill="#7597f6"/>
<path d="M918 468h25v25h-25z" fill="#799cf8"/>
<path d="M942 468h25v25h-25z" fill="#7a9df8"/>
<path d="M966 468h25v25h-25z" fill="#7da0f9"/>
<path d="M990 468h25v25h-25z" fill="#80a3fa"/>
<path d="M1014 468h25v25h-25z" fill="#7da0f9"/>
<path d="M1038 468h25v25h-25z" fill="#7a9df8"/>
<path d="M1062 468h25v25h-25z" fill="#799cf8"/>
<path d="M1086 468h25v25h-25z" fill="#7699f6"/>
<path d="M1110 468h25v25h-25z" fill="#7295f4"/>
<path d="M1134 468h25v25h-25z" fill="#6a8bef"/>
<path d="M1158 468h25v25h-25z" fill="#6384eb"/>
<path d="M1182 468h25v25h-25z" fill="#5d7ce6"/>
<path d="M1206 468h25v25h-25z" fill="#5977e3"/>
<path d="M1230 468h25v25h-25z" fill="#5b7ae5"/>
<path d="M1254 468h25v25h-25z" fill="#6180e9"/>
<path d="M1278 468h25v25h-25z" fill="#6384eb"/>
<path d="M1302 468h25v25h-25z" fill="#6c8ff1"/>
<path d="M1326 468h25v25h-25z" fill="#bcd2f7"/>
<path d="M1350 468h25v25h-25z" fill="#c1d4f4"/>
<path d="M1374 468h25v25h-25z" fill="#c7d7f0"/>
<path d="M1398 468h25v25h-25z" fill="#ccd9ed"/>
<path d="M1422 468h25v25h-25z" fill="#cfdaea"/>
<path d="M1446 468h25v25h-25z" fill="#d5dbe5"/>
<path d="M1470 468h25v25h-25z" fill="#dbdcde"/>
<path d="M1494 468h25v25h-25z" fill="#e0dbd8"/>
<path d="M1518 468h25v25h-25z" fill="#e3d9d3"/>
<path d="M1542 468h25v25h-25z" fill="#e6d7cf"/>
<path d="M1566 468h25v25h-25z" fill="#ead5c9"/>
<path d="M1590 468h25v25h-25z" fill="#edd2c3"/>
<path d="M1614 468h25v25h-25z" fill="#f1cdba"/>
<path d="M1638 468h25v25h-25z" fill="#f3c7b1"/>
<path d="M1662 468h25v25h-25z" fill="#f5c0a7"/>
<path d="M1686 468h25v25h-25z" fill="#f7b89c"/>
<path d="M1710 468h25v25h-25z" fill="#f7b093"/>
<path d="M1734 468h25v25h-25z" fill="#f7a889"/>
<path d="M1758 468h25v25h-25z" fill="#f59f80"/>
<path d="M1782 468h25v25h-25z" fill="#f39577"/>
<path d="M1806 468h25v25h-25z" fill="#f39475"/>
<path d="M1830 468h25v25h-25z" fill="#f29274"/>
<path d="M1854 468h25v25h-25z" fill="#f18d6f"/>
<path d="M1878 468h25v25h-25z" fill="#ee8669"/>
<path d="M1902 468h25v25h-25z" fill="#e9785d"/>
<path d="M1926 468h25v25h-25z" fill="#e16751"/>
<path d="M1950 468h25v25h-25z" fill="#d85646"/>
<path d="M1974 468h25v25h-25z" fill="#cf453c"/>
<path d="M1998 468h25v25h-25z" fill="#c73635"/>
<path d="M2022 468h25v25h-25z" fill="#be242e"/>
<path d="M2046 468h25v25h-25z" fill="#b70d28"/>
<path d="M2070 468h145v25h-145z" fill="#b40426"/>
<path d="M462 492h121v25h-121z" fill="#6e90f2"/>
<path d="M582 492h25v25h-25z" fill="#6a8bef"/>
<path d="M606 492h25v25h-25z" fill="#6384eb"/>
<path d="M630 492h25v25h-25z" fill="#5875e1"/>
<path d="M654 492h25v25h-25z" fill="#516ddb"/>
<path d="M678 492h49v25h-49z" fill="#4c66d6"/>
<path d="M726 492h25v25h-25z" fill="#516ddb"/>
<path d="M750 492h25v25h-25z" fill="#5875e1"/>
<path d="M774 492h25v25h-25z" fill="#5d7ce6"/>
<path d="M798 492h25v25h-25z" fill="#6282ea"/>
<path d="M822 492h25v25h-25z" fill="#6687ed"/>
<path d="M846 492h25v25h-25z" fill="#6b8df0"/>
<path d="M870 492h25v25h-25z" fill="#7093f3"/>
<path d="M894 492h25v25h-25z" fill="#7597f6"/>
<path d="M918 492h25v25h-25z" fill="#779af7"/>
<path d="M942 492h25v25h-25z" fill="#7a9df8"/>
<path d="M966 492h25v25h-25z" fill="#7da0f9"/>
<path d="M990 492h25v25h-25z" fill="#80a3fa"/>
<path d="M1014 492h25v25h-25z" fill="#7da0f9"/>
<path d="M1038 492h25v25h-25z" fill="#7699f6"/>
<path d="M1062 492h25v25h-25z" fill="#7295f4"/>
<path d="M1086 492h25v25h-25z" fill="#6c8ff1"/>
<path d="M1110 492h25v25h-25z" fill="#688aef"/>
<path d="M1134 492h25v25h-25z" fill="#6384eb"/>
<path d="M1158 492h25v25h-25z" fill="#5f7fe8"/>
<path d="M1182 492h25v25h-25z" fill="#5b7ae5"/>
<path d="M1206 492h25v25h-25z" fill="#5977e3"/>
<path d="M1230 492h25v25h-25z" fill="#5b7ae5"/>
<path d="M1254 492h25v25h-25z" fill="#5e7de7"/>
<path d="M1278 492h25v25h-25z" fill="#5f7fe8"/>
<path d="M1302 492h25v25h-25z" fill="#6687ed"/>
<path d="M1326 492h25v25h-25z" fill="#b7cff9"/>
<path d="M1350 492h25v25h-25z" fill="#bbd1f8"/>
<path d="M1374 492h25v25h-25z" fill="#c1d4f4"/>
<path d="M1398 492h25v25h-25z" fill="#c4d5f3"/>
<path d="M1422 492h25v25h-25z" fill="#c9d7f0"/>
<path d="M1446 492h25v25h-25z" fill="#cfdaea"/>
<path d="M1470 492h25v25h-25z" fill="#d7dce3"/>
<path d="M1494 492h25v25h-25z" fill="#dcdddd"/>
<path d="M1518 492h25v25h-25z" fill="#e0dbd8"/>
<path d="M1542 492h25v25h-25z" fill="#e2dad5"/>
<path d="M1566 492h25v25h-25z" fill="#e6d7cf"/>
<path d="M1590 492h25v25h-25z" fill="#e9d5cb"/>
<path d="M1614 492h25v25h-25z" fill="#eed0c0"/>
<path d="M1638 492h25v25h-25z" fill="#f2cbb7"/>
<path d="M1662 492h25v25h-25z" fill="#f4c5ad"/>
<path d="M1686 492h25v25h-25z" fill="#f6bda2"/>
<path d="M1710 492h25v25h-25z" fill="#f7b599"/>
<path d="M1734 492h25v25h-25z" fill="#f7ac8e"/>
<path d="M1758 492h25v25h-25z" fill="#f6a385"/>
<path d="M1782 492h73v25h-73z" fill="#f49a7b"/>
<path d="M1854 492h25v25h-25z" fill="#f39475"/>
<path d="M1878 492h25v25h-25z" fill="#f18d6f"/>
<path d="M1902 492h25v25h-25z" fill="#ea7b60"/>
<path d="M1926 492h25v25h-25z" fill="#e36b54"/>
<path d="M1950 492h25v25h-25z" fill="#d95847"/>
<path d="M1974 492h25v25h-25z" fill="#d0473d"/>
<path d="M1998 492h25v25h-25z" fill="#c73635"/>
<path d="M2022 492h25v25h-25z" fill="#c0282f"/>
<path d="M2046 492h25v25h-25z" fill="#b8122a"/>
<path d="M2070 492h121v25h-121z" fill="#b40426"/>
<path d="M486 516h97v25h-97z" fill="#536edd"/>
<path d="M582 516h25v25h-25z" fill="#516ddb"/>
<path d="M606 516h25v25h-25z" fill="#4e68d8"/>
<path d="M630 516h25v25h-25z" fill="#4961d2"/>
<path d="M654 516h25v25h-25z" fill="#465ecf"/>
<path d="M678 516h25v25h-25z" fill="#455cce"/>
<path d="M702 516h25v25h-25z" fill="#465ecf"/>
<path d="M726 516h25v25h-25z" fill="#4b64d5"/>
<path d="M750 516h25v25h-25z" fill="#536edd"/>
<path d="M774 516h25v25h-25z" fill="#5a78e4"/>
<path d="M798 516h25v25h-25z" fill="#6282ea"/>
<path d="M822 516h25v25h-25z" fill="#6788ee"/>
<path d="M846 516h25v25h-25z" fill="#6c8ff1"/>
<path d="M870 516h25v25h-25z" fill="#7295f4"/>
<path d="M894 516h25v25h-25z" fill="#7699f6"/>
<path d="M918 516h25v25h-25z" fill="#799cf8"/>
<path d="M942 516h25v25h-25z" fill="#7a9df8"/>
<path d="M966 516h49v25h-49z" fill="#7da0f9"/>
<path d="M1014 516h25v25h-25z" fill="#7a9df8"/>
<path d="M1038 516h25v25h-25z" fill="#7597f6"/>
<path d="M1062 516h25v25h-25z" fill="#6f92f3"/>
<path d="M1086 516h25v25h-25z" fill="#6a8bef"/>
<path d="M1110 516h25v25h-25z" fill="#6485ec"/>
<path d="M1134 516h25v25h-25z" fill="#6180e9"/>
<path d="M1158 516h25v25h-25z" fill="#5d7ce6"/>
<path d="M1182 516h25v25h-25z" fill="#5a78e4"/>
<path d="M1206 516h25v25h-25z" fill="#5875e1"/>
<path d="M1230 516h25v25h-25z" fill="#5977e3"/>
<path d="M1254 516h49v25h-49z" fill="#5b7ae5"/>
<path d="M1302 516h25v25h-25z" fill="#6282ea"/>
<path d="M1326 516h25v25h-25z" fill="#b3cdfb"/>
<path d="M1350 516h25v25h-25z" fill="#b6cefa"/>
<path d="M1374 516h25v25h-25z" fill="#bbd1f8"/>
<path d="M1398 516h25v25h-25z" fill="#bed2f6"/>
<path d="M1422 516h25v25h-25z" fill="#c3d5f4"/>
<path d="M1446 516h25v25h-25z" fill="#cad8ef"/>
<path d="M1470 516h25v25h-25z" fill="#d3dbe7"/>
<path d="M1494 516h25v25h-25z" fill="#dadce0"/>
<path d="M1518 516h25v25h-25z" fill="#dedcdb"/>
<path d="M1542 516h25v25h-25z" fill="#e1dad6"/>
<path d="M1566 516h25v25h-25z" fill="#e3d9d3"/>
<path d="M1590 516h25v25h-25z" fill="#e6d7cf"/>
<path d="M1614 516h25v25h-25z" fill="#ebd3c6"/>
<path d="M1638 516h25v25h-25z" fill="#efcebd"/>
<path d="M1662 516h25v25h-25z" fill="#f3c8b2"/>
<path d="M1686 516h25v25h-25z" fill="#f5c0a7"/>
<path d="M1710 516h25v25h-25z" fill="#f7b89c"/>
<path d="M1734 516h25v25h-25z" fill="#f7af91"/>
<path d="M1758 516h25v25h-25z" fill="#f7a688"/>
<path d="M1782 516h73v25h-73z" fill="#f59f80"/>
<path d="M1854 516h25v25h-25z" fill="#f4987a"/>
<path d="M1878 516h25v25h-25z" fill="#f29072"/>
<path d="M1902 516h25v25h-25z" fill="#ec7f63"/>
<path d="M1926 516h25v25h-25z" fill="#e36c55"/>
<path d="M1950 516h25v25h-25z" fill="#da5a49"/>
<path d="M1974 516h25v25h-25z" fill="#d0473d"/>
<path d="M1998 516h25v25h-25z" fill="#c83836"/>
<path d="M2022 516h25v25h-25z" fill="#c0282f"/>
<path d="M2046 516h25v25h-25z" fill="#ba162b"/>
<path d="M2070 516h25v25h-25z" fill="#b50927"/>
<path d="M2094 516h97v25h-97z" fill="#b40426"/>
<path d="M486 540h97v25h-97z" fill="#3f53c6"/>
<path d="M582 540h25v25h-25z" fill="#3e51c5"/>
<path d="M606 540h25v25h-25z" fill="#3f53c6"/>
<path d="M630 540h25v25h-25z" fill="#3e51c5"/>
<path d="M654 540h49v25h-49z" fill="#3f53c6"/>
<path d="M702 540h25v25h-25z" fill="#4257c9"/>
<path d="M726 540h25v25h-25z" fill="#465ecf"/>
<path d="M750 540h25v25h-25z" fill="#506bda"/>
<path d="M774 540h25v25h-25z" fill="#5977e3"/>
<path d="M798 540h25v25h-25z" fill="#6282ea"/>
<path d="M822 540h25v25h-25z" fill="#688aef"/>
<path d="M846 540h25v25h-25z" fill="#6e90f2"/>
<path d="M870 540h25v25h-25z" fill="#7396f5"/>
<path d="M894 540h25v25h-25z" fill="#779af7"/>
<path d="M918 540h25v25h-25z" fill="#799cf8"/>
<path d="M942 540h73v25h-73z" fill="#7b9ff9"/>
<path d="M1014 540h25v25h-25z" fill="#779af7"/>
<path d="M1038 540h25v25h-25z" fill="#7295f4"/>
<path d="M1062 540h25v25h-25z" fill="#6c8ff1"/>
<path d="M1086 540h25v25h-25z" fill="#6788ee"/>
<path d="M1110 540h25v25h-25z" fill="#6282ea"/>
<path d="M1134 540h25v25h-25z" fill="#5f7fe8"/>
<path d="M1158 540h25v25h-25z" fill="#5b7ae5"/>
<path d="M1182 540h25v25h-25z" fill="#5977e3"/>
<path d="M1206 540h25v25h-25z" fill="#5673e0"/>
<path d="M1230 540h73v25h-73z" fill="#5875e1"/>
<path d="M1302 540h25v25h-25z" fill="#5e7de7"/>
<path d="M1326 540h25v25h-25z" fill="#afcafc"/>
<path d="M1350 540h25v25h-25z" fill="#b1cbfc"/>
<path d="M1374 540h25v25h-25z" fill="#b5cdfa"/>
<path d="M1398 540h25v25h-25z" fill="#b7cff9"/>
<path d="M1422 540h25v25h-25z" fill="#bcd2f7"/>
<path d="M1446 540h25v25h-25z" fill="#c4d5f3"/>
<path d="M1470 540h25v25h-25z" fill="#cdd9ec"/>
<path d="M1494 540h25v25h-25z" fill="#d7dce3"/>
<path d="M1518 540h25v25h-25z" fill="#dddcdc"/>
<path d="M1542 540h25v25h-25z" fill="#dfdbd9"/>
<path d="M1566 540h25v25h-25z" fill="#e1dad6"/>
<path d="M1590 540h25v25h-25z" fill="#e3d9d3"/>
<path d="M1614 540h25v25h-25z" fill="#e9d5cb"/>
<path d="M1638 540h25v25h-25z" fill="#edd1c2"/>
<path d="M1662 540h25v25h-25z" fill="#f2cab5"/>
<path d="M1686 540h25v25h-25z" fill="#f5c2aa"/>
<path d="M1710 540h25v25h-25z" fill="#f7b99e"/>
<path d="M1734 540h25v25h-25z" fill="#f7b093"/>
<path d="M1758 540h25v25h-25z" fill="#f7a98b"/>
<path d="M1782 540h25v25h-25z" fill="#f6a283"/>
<path d="M1806 540h49v25h-49z" fill="#f6a385"/>
<path d="M1854 540h25v25h-25z" fill="#f59c7d"/>
<path d="M1878 540h25v25h-25z" fill="#f39475"/>
<path d="M1902 540h25v25h-25z" fill="#ed8366"/>
<path d="M1926 540h25v25h-25z" fill="#e46e56"/>
<path d="M1950 540h25v25h-25z" fill="#da5a49"/>
<path d="M1974 540h25v25h-25z" fill="#d0473d"/>
<path d="M1998 540h25v25h-25z" fill="#c83836"/>
<path d="M2022 540h25v25h-25z" fill="#c12b30"/>
<path d="M2046 540h25v25h-25z" fill="#bb1b2c"/>
<path d="M2070 540h25v25h-25z" fill="#b70d28"/>
<path d="M2094 540h97v25h-97z" fill="#b50927"/>
<path d="M486 564h169v25h-169z" fill="#3e51c5"/>
<path d="M654 564h25v25h-25z" fill="#3f53c6"/>
<path d="M678 564h25v25h-25z" fill="#4055c8"/>
<path d="M702 564h25v25h-25z" fill="#4358cb"/>
<path d="M726 564h25v25h-25z" fill="#4961d2"/>
<path d="M750 564h25v25h-25z" fill="#536edd"/>
<path d="M774 564h25v25h-25z" fill="#5d7ce6"/>
<path d="M798 564h25v25h-25z" fill="#6687ed"/>
<path d="M822 564h25v25h-25z" fill="#6b8df0"/>
<path d="M846 564h25v25h-25z" fill="#7093f3"/>
<path d="M870 564h25v25h-25z" fill="#7597f6"/>
<path d="M894 564h25v25h-25z" fill="#799cf8"/>
<path d="M918 564h25v25h-25z" fill="#7a9df8"/>
<path d="M942 564h25v25h-25z" fill="#7b9ff9"/>
<path d="M966 564h25v25h-25z" fill="#7a9df8"/>
<path d="M990 564h25v25h-25z" fill="#799cf8"/>
<path d="M1014 564h25v25h-25z" fill="#7597f6"/>
<path d="M1038 564h25v25h-25z" fill="#6f92f3"/>
<path d="M1062 564h25v25h-25z" fill="#6b8df0"/>
<path d="M1086 564h25v25h-25z" fill="#6485ec"/>
<path d="M1110 564h25v25h-25z" fill="#6180e9"/>
<path d="M1134 564h25v25h-25z" fill="#5d7ce6"/>
<path d="M1158 564h25v25h-25z" fill="#5a78e4"/>
<path d="M1182 564h25v25h-25z" fill="#5875e1"/>
<path d="M1206 564h25v25h-25z" fill="#5572df"/>
<path d="M1230 564h25v25h-25z" fill="#5470de"/>
<path d="M1254 564h25v25h-25z" fill="#536edd"/>
<path d="M1278 564h25v25h-25z" fill="#516ddb"/>
<path d="M1302 564h25v25h-25z" fill="#5977e3"/>
<path d="M1326 564h25v25h-25z" fill="#adc9fd"/>
<path d="M1350 564h25v25h-25z" fill="#aec9fc"/>
<path d="M1374 564h25v25h-25z" fill="#afcafc"/>
<path d="M1398 564h25v25h-25z" fill="#b2ccfb"/>
<path d="M1422 564h25v25h-25z" fill="#b6cefa"/>
<path d="M1446 564h25v25h-25z" fill="#bcd2f7"/>
<path d="M1470 564h25v25h-25z" fill="#c9d7f0"/>
<path d="M1494 564h25v25h-25z" fill="#d6dce4"/>
<path d="M1518 564h25v25h-25z" fill="#dddcdc"/>
<path d="M1542 564h25v25h-25z" fill="#dedcdb"/>
<path d="M1566 564h25v25h-25z" fill="#dfdbd9"/>
<path d="M1590 564h25v25h-25z" fill="#e1dad6"/>
<path d="M1614 564h25v25h-25z" fill="#e7d7ce"/>
<path d="M1638 564h25v25h-25z" fill="#ecd3c5"/>
<path d="M1662 564h25v25h-25z" fill="#f1ccb8"/>
<path d="M1686 564h25v25h-25z" fill="#f5c4ac"/>
<path d="M1710 564h25v25h-25z" fill="#f7bca1"/>
<path d="M1734 564h25v25h-25z" fill="#f7b194"/>
<path d="M1758 564h25v25h-25z" fill="#f7aa8c"/>
<path d="M1782 564h25v25h-25z" fill="#f6a385"/>
<path d="M1806 564h49v25h-49z" fill="#f7a688"/>
<path d="M1854 564h25v25h-25z" fill="#f59f80"/>
<path d="M1878 564h25v25h-25z" fill="#f39577"/>
<path d="M1902 564h25v25h-25z" fill="#ed8366"/>
<path d="M1926 564h25v25h-25z" fill="#e46e56"/>
<path d="M1950 564h25v25h-25z" fill="#da5a49"/>
<path d="M1974 564h25v25h-25z" fill="#d0473d"/>
<path d="M1998 564h25v25h-25z" fill="#c83836"/>
<path d="M2022 564h25v25h-25z" fill="#c32e31"/>
<path d="M2046 564h25v25h-25z" fill="#c0282f"/>
<path d="M2070 564h25v25h-25z" fill="#bd1f2d"/>
<path d="M2094 564h73v25h-73z" fill="#bb1b2c"/>
<path d="M486 588h121v25h-121z" fill="#4358cb"/>
<path d="M606 588h25v25h-25z" fill="#4257c9"/>
<path d="M630 588h25v25h-25z" fill="#4055c8"/>
<path d="M654 588h25v25h-25z" fill="#4257c9"/>
<path d="M678 588h25v25h-25z" fill="#4358cb"/>
<path d="M702 588h25v25h-25z" fill="#465ecf"/>
<path d="M726 588h25v25h-25z" fill="#4c66d6"/>
<path d="M750 588h25v25h-25z" fill="#5673e0"/>
<path d="M774 588h25v25h-25z" fill="#6180e9"/>
<path d="M798 588h25v25h-25z" fill="#6a8bef"/>
<path d="M822 588h25v25h-25z" fill="#6e90f2"/>
<path d="M846 588h25v25h-25z" fill="#7396f5"/>
<path d="M870 588h25v25h-25z" fill="#779af7"/>
<path d="M894 588h49v25h-49z" fill="#7a9df8"/>
<path d="M942 588h25v25h-25z" fill="#7b9ff9"/>
<path d="M966 588h25v25h-25z" fill="#799cf8"/>
<path d="M990 588h25v25h-25z" fill="#7699f6"/>
<path d="M1014 588h25v25h-25z" fill="#7295f4"/>
<path d="M1038 588h25v25h-25z" fill="#6e90f2"/>
<path d="M1062 588h25v25h-25z" fill="#688aef"/>
<path d="M1086 588h25v25h-25z" fill="#6384eb"/>
<path d="M1110 588h25v25h-25z" fill="#5f7fe8"/>
<path d="M1134 588h25v25h-25z" fill="#5b7ae5"/>
<path d="M1158 588h25v25h-25z" fill="#5977e3"/>
<path d="M1182 588h25v25h-25z" fill="#5875e1"/>
<path d="M1206 588h25v25h-25z" fill="#5470de"/>
<path d="M1230 588h25v25h-25z" fill="#516ddb"/>
<path d="M1254 588h25v25h-25z" fill="#4f69d9"/>
<path d="M1278 588h25v25h-25z" fill="#4c66d6"/>
<path d="M1302 588h25v25h-25z" fill="#536edd"/>
<path d="M1326 588h25v25h-25z" fill="#a9c6fd"/>
<path d="M1350 588h49v25h-49z" fill="#aac7fd"/>
<path d="M1398 588h25v25h-25z" fill="#adc9fd"/>
<path d="M1422 588h25v25h-25z" fill="#b1cbfc"/>
<path d="M1446 588h25v25h-25z" fill="#b6cefa"/>
<path d="M1470 588h25v25h-25z" fill="#c3d5f4"/>
<path d="M1494 588h25v25h-25z" fill="#d4dbe6"/>
<path d="M1518 588h25v25h-25z" fill="#dcdddd"/>
<path d="M1542 588h49v25h-49z" fill="#dddcdc"/>
<path d="M1590 588h25v25h-25z" fill="#dfdbd9"/>
<path d="M1614 588h25v25h-25z" fill="#e5d8d1"/>
<path d="M1638 588h25v25h-25z" fill="#ead4c8"/>
<path d="M1662 588h25v25h-25z" fill="#f0cdbb"/>
<path d="M1686 588h25v25h-25z" fill="#f4c5ad"/>
<path d="M1710 588h25v25h-25z" fill="#f6bda2"/>
<path d="M1734 588h25v25h-25z" fill="#f7b497"/>
<path d="M1758 588h25v25h-25z" fill="#f7ac8e"/>
<path d="M1782 588h25v25h-25z" fill="#f6a586"/>
<path d="M1806 588h25v25h-25z" fill="#f7a889"/>
<path d="M1830 588h25v25h-25z" fill="#f7a98b"/>
<path d="M1854 588h25v25h-25z" fill="#f5a081"/>
<path d="M1878 588h25v25h-25z" fill="#f39778"/>
<path d="M1902 588h25v25h-25z" fill="#ee8468"/>
<path d="M1926 588h25v25h-25z" fill="#e46e56"/>
<path d="M1950 588h25v25h-25z" fill="#da5a49"/>
<path d="M1974 588h25v25h-25z" fill="#d0473d"/>
<path d="M1998 588h25v25h-25z" fill="#ca3b37"/>
<path d="M2022 588h25v25h-25z" fill="#c43032"/>
<path d="M2046 588h121v25h-121z" fill="#c32e31"/>
<path d="M486 612h145v25h-145z" fill="#4a63d3"/>
<path d="M630 612h73v25h-73z" fill="#465ecf"/>
<path d="M702 612h25v25h-25z" fill="#4a63d3"/>
<path d="M726 612h25v25h-25z" fill="#506bda"/>
<path d="M750 612h25v25h-25z" fill="#5875e1"/>
<path d="M774 612h25v25h-25z" fill="#6282ea"/>
<path d="M798 612h25v25h-25z" fill="#6b8df0"/>
<path d="M822 612h25v25h-25z" fill="#6f92f3"/>
<path d="M846 612h25v25h-25z" fill="#7597f6"/>
<path d="M870 612h25v25h-25z" fill="#779af7"/>
<path d="M894 612h73v25h-73z" fill="#7b9ff9"/>
<path d="M966 612h25v25h-25z" fill="#799cf8"/>
<path d="M990 612h25v25h-25z" fill="#7597f6"/>
<path d="M1014 612h25v25h-25z" fill="#7093f3"/>
<path d="M1038 612h25v25h-25z" fill="#6c8ff1"/>
<path d="M1062 612h25v25h-25z" fill="#6788ee"/>
<path d="M1086 612h25v25h-25z" fill="#6384eb"/>
<path d="M1110 612h25v25h-25z" fill="#5e7de7"/>
<path d="M1134 612h25v25h-25z" fill="#5a78e4"/>
<path d="M1158 612h25v25h-25z" fill="#5875e1"/>
<path d="M1182 612h25v25h-25z" fill="#5673e0"/>
<path d="M1206 612h25v25h-25z" fill="#5470de"/>
<path d="M1230 612h25v25h-25z" fill="#506bda"/>
<path d="M1254 612h25v25h-25z" fill="#4c66d6"/>
<path d="M1278 612h25v25h-25z" fill="#4a63d3"/>
<path d="M1302 612h25v25h-25z" fill="#506bda"/>
<path d="M1326 612h73v25h-73z" fill="#a7c5fe"/>
<path d="M1398 612h25v25h-25z" fill="#a9c6fd"/>
<path d="M1422 612h25v25h-25z" fill="#adc9fd"/>
<path d="M1446 612h25v25h-25z" fill="#b2ccfb"/>
<path d="M1470 612h25v25h-25z" fill="#bfd3f6"/>
<path d="M1494 612h25v25h-25z" fill="#cfdaea"/>
<path d="M1518 612h25v25h-25z" fill="#d9dce1"/>
<path d="M1542 612h25v25h-25z" fill="#dbdcde"/>
<path d="M1566 612h25v25h-25z" fill="#dcdddd"/>
<path d="M1590 612h25v25h-25z" fill="#dedcdb"/>
<path d="M1614 612h25v25h-25z" fill="#e3d9d3"/>
<path d="M1638 612h25v25h-25z" fill="#e9d5cb"/>
<path d="M1662 612h25v25h-25z" fill="#efcebd"/>
<path d="M1686 612h25v25h-25z" fill="#f3c7b1"/>
<path d="M1710 612h25v25h-25z" fill="#f6bfa6"/>
<path d="M1734 612h25v25h-25z" fill="#f7b79b"/>
<path d="M1758 612h25v25h-25z" fill="#f7af91"/>
<path d="M1782 612h25v25h-25z" fill="#f7a889"/>
<path d="M1806 612h49v25h-49z" fill="#f7aa8c"/>
<path d="M1854 612h25v25h-25z" fill="#f5a081"/>
<path d="M1878 612h25v25h-25z" fill="#f39778"/>
<path d="M1902 612h25v25h-25z" fill="#ed8366"/>
<path d="M1926 612h25v25h-25z" fill="#e36c55"/>
<path d="M1950 612h25v25h-25z" fill="#da5a49"/>
<path d="M1974 612h25v25h-25z" fill="#d0473d"/>
<path d="M1998 612h25v25h-25z" fill="#ca3b37"/>
<path d="M2022 612h49v25h-49z" fill="#c53334"/>
<path d="M2070 612h73v25h-73z" fill="#c73635"/>
<path d="M486 636h121v25h-121z" fill="#5470de"/>
<path d="M606 636h25v25h-25z" fill="#5572df"/>
<path d="M630 636h25v25h-25z" fill="#506bda"/>
<path d="M654 636h25v25h-25z" fill="#4c66d6"/>
<path d="M678 636h25v25h-25z" fill="#4b64d5"/>
<path d="M702 636h25v25h-25z" fill="#4e68d8"/>
<path d="M726 636h25v25h-25z" fill="#536edd"/>
<path d="M750 636h25v25h-25z" fill="#5977e3"/>
<path d="M774 636h25v25h-25z" fill="#6384eb"/>
<path d="M798 636h25v25h-25z" fill="#6b8df0"/>
<path d="M822 636h25v25h-25z" fill="#7093f3"/>
<path d="M846 636h25v25h-25z" fill="#7597f6"/>
<path d="M870 636h25v25h-25z" fill="#779af7"/>
<path d="M894 636h73v25h-73z" fill="#7b9ff9"/>
<path d="M966 636h25v25h-25z" fill="#799cf8"/>
<path d="M990 636h25v25h-25z" fill="#7597f6"/>
<path d="M1014 636h25v25h-25z" fill="#7093f3"/>
<path d="M1038 636h25v25h-25z" fill="#6c8ff1"/>
<path d="M1062 636h25v25h-25z" fill="#6788ee"/>
<path d="M1086 636h25v25h-25z" fill="#6282ea"/>
<path d="M1110 636h25v25h-25z" fill="#5e7de7"/>
<path d="M1134 636h25v25h-25z" fill="#5a78e4"/>
<path d="M1158 636h49v25h-49z" fill="#5673e0"/>
<path d="M1206 636h25v25h-25z" fill="#5470de"/>
<path d="M1230 636h25v25h-25z" fill="#506bda"/>
<path d="M1254 636h25v25h-25z" fill="#4c66d6"/>
<path d="M1278 636h25v25h-25z" fill="#4961d2"/>
<path d="M1302 636h25v25h-25z" fill="#506bda"/>
<path d="M1326 636h25v25h-25z" fill="#a5c3fe"/>
<path d="M1350 636h49v25h-49z" fill="#a3c2fe"/>
<path d="M1398 636h25v25h-25z" fill="#a7c5fe"/>
<path d="M1422 636h25v25h-25z" fill="#abc8fd"/>
<path d="M1446 636h25v25h-25z" fill="#afcafc"/>
<path d="M1470 636h25v25h-25z" fill="#bad0f8"/>
<path d="M1494 636h25v25h-25z" fill="#cad8ef"/>
<path d="M1518 636h25v25h-25z" fill="#d5dbe5"/>
<path d="M1542 636h25v25h-25z" fill="#d8dce2"/>
<path d="M1566 636h25v25h-25z" fill="#dbdcde"/>
<path d="M1590 636h25v25h-25z" fill="#dddcdc"/>
<path d="M1614 636h25v25h-25z" fill="#e2dad5"/>
<path d="M1638 636h25v25h-25z" fill="#e8d6cc"/>
<path d="M1662 636h25v25h-25z" fill="#eed0c0"/>
<path d="M1686 636h25v25h-25z" fill="#f2c9b4"/>
<path d="M1710 636h25v25h-25z" fill="#f5c2aa"/>
<path d="M1734 636h25v25h-25z" fill="#f7ba9f"/>
<path d="M1758 636h25v25h-25z" fill="#f7b396"/>
<path d="M1782 636h25v25h-25z" fill="#f7aa8c"/>
<path d="M1806 636h25v25h-25z" fill="#f7ac8e"/>
<path d="M1830 636h25v25h-25z" fill="#f7aa8c"/>
<path d="M1854 636h25v25h-25z" fill="#f5a081"/>
<path d="M1878 636h25v25h-25z" fill="#f39475"/>
<path d="M1902 636h25v25h-25z" fill="#ec7f63"/>
<path d="M1926 636h25v25h-25z" fill="#e26952"/>
<path d="M1950 636h25v25h-25z" fill="#d95847"/>
<path d="M1974 636h25v25h-25z" fill="#d0473d"/>
<path d="M1998 636h25v25h-25z" fill="#cb3e38"/>
<path d="M2022 636h49v25h-49z" fill="#c83836"/>
<path d="M2070 636h73v25h-73z" fill="#ca3b37"/>
<path d="M486 660h121v25h-121z" fill="#5e7de7"/>
<path d="M606 660h25v25h-25z" fill="#6180e9"/>
<path d="M630 660h25v25h-25z" fill="#5977e3"/>
<path d="M654 660h25v25h-25z" fill="#5470de"/>
<path d="M678 660h25v25h-25z" fill="#506bda"/>
<path d="M702 660h25v25h-25z" fill="#516ddb"/>
<path d="M726 660h25v25h-25z" fill="#5572df"/>
<path d="M750 660h25v25h-25z" fill="#5a78e4"/>
<path d="M774 660h25v25h-25z" fill="#6384eb"/>
<path d="M798 660h25v25h-25z" fill="#6b8df0"/>
<path d="M822 660h25v25h-25z" fill="#7093f3"/>
<path d="M846 660h25v25h-25z" fill="#7597f6"/>
<path d="M870 660h25v25h-25z" fill="#779af7"/>
<path d="M894 660h73v25h-73z" fill="#7b9ff9"/>
<path d="M966 660h25v25h-25z" fill="#799cf8"/>
<path d="M990 660h25v25h-25z" fill="#7597f6"/>
<path d="M1014 660h25v25h-25z" fill="#7093f3"/>
<path d="M1038 660h25v25h-25z" fill="#6c8ff1"/>
<path d="M1062 660h25v25h-25z" fill="#6788ee"/>
<path d="M1086 660h25v25h-25z" fill="#6282ea"/>
<path d="M1110 660h25v25h-25z" fill="#5e7de7"/>
<path d="M1134 660h25v25h-25z" fill="#5977e3"/>
<path d="M1158 660h49v25h-49z" fill="#5572df"/>
<path d="M1206 660h25v25h-25z" fill="#5470de"/>
<path d="M1230 660h25v25h-25z" fill="#506bda"/>
<path d="M1254 660h25v25h-25z" fill="#4c66d6"/>
<path d="M1278 660h25v25h-25z" fill="#4961d2"/>
<path d="M1302 660h25v25h-25z" fill="#506bda"/>
<path d="M1326 660h25v25h-25z" fill="#a2c1ff"/>
<path d="M1350 660h49v25h-49z" fill="#a1c0ff"/>
<path d="M1398 660h25v25h-25z" fill="#a5c3fe"/>
<path d="M1422 660h25v25h-25z" fill="#aac7fd"/>
<path d="M1446 660h25v25h-25z" fill="#adc9fd"/>
<path d="M1470 660h25v25h-25z" fill="#b6cefa"/>
<path d="M1494 660h25v25h-25z" fill="#c4d5f3"/>
<path d="M1518 660h25v25h-25z" fill="#cfdaea"/>
<path d="M1542 660h25v25h-25z" fill="#d6dce4"/>
<path d="M1566 660h25v25h-25z" fill="#dadce0"/>
<path d="M1590 660h25v25h-25z" fill="#dddcdc"/>
<path d="M1614 660h25v25h-25z" fill="#e1dad6"/>
<path d="M1638 660h25v25h-25z" fill="#e6d7cf"/>
<path d="M1662 660h25v25h-25z" fill="#edd2c3"/>
<path d="M1686 660h25v25h-25z" fill="#f2cbb7"/>
<path d="M1710 660h25v25h-25z" fill="#f4c5ad"/>
<path d="M1734 660h25v25h-25z" fill="#f6bea4"/>
<path d="M1758 660h25v25h-25z" fill="#f7b79b"/>
<path d="M1782 660h49v25h-49z" fill="#f7ad90"/>
<path d="M1830 660h25v25h-25z" fill="#f7aa8c"/>
<path d="M1854 660h25v25h-25z" fill="#f59f80"/>
<path d="M1878 660h25v25h-25z" fill="#f29274"/>
<path d="M1902 660h25v25h-25z" fill="#eb7d62"/>
<path d="M1926 660h25v25h-25z" fill="#e16751"/>
<path d="M1950 660h25v25h-25z" fill="#d85646"/>
<path d="M1974 660h25v25h-25z" fill="#cf453c"/>
<path d="M1998 660h25v25h-25z" fill="#cb3e38"/>
<path d="M2022 660h49v25h-49z" fill="#ca3b37"/>
<path d="M2070 660h49v25h-49z" fill="#cb3e38"/>
<path d="M486 684h121v25h-121z" fill="#688aef"/>
<path d="M606 684h25v25h-25z" fill="#6c8ff1"/>
<path d="M630 684h25v25h-25z" fill="#6384eb"/>
<path d="M654 684h25v25h-25z" fill="#5b7ae5"/>
<path d="M678 684h25v25h-25z" fill="#5673e0"/>
<path d="M702 684h25v25h-25z" fill="#5572df"/>
<path d="M726 684h25v25h-25z" fill="#5673e0"/>
<path d="M750 684h25v25h-25z" fill="#5b7ae5"/>
<path d="M774 684h25v25h-25z" fill="#6384eb"/>
<path d="M798 684h25v25h-25z" fill="#6b8df0"/>
<path d="M822 684h25v25h-25z" fill="#7093f3"/>
<path d="M846 684h25v25h-25z" fill="#7597f6"/>
<path d="M870 684h25v25h-25z" fill="#779af7"/>
<path d="M894 684h73v25h-73z" fill="#7b9ff9"/>
<path d="M966 684h25v25h-25z" fill="#799cf8"/>
<path d="M990 684h25v25h-25z" fill="#7597f6"/>
<path d="M1014 684h25v25h-25z" fill="#7093f3"/>
<path d="M1038 684h25v25h-25z" fill="#6c8ff1"/>
<path d="M1062 684h25v25h-25z" fill="#6788ee"/>
<path d="M1086 684h25v25h-25z" fill="#6282ea"/>
<path d="M1110 684h25v25h-25z" fill="#5e7de7"/>
<path d="M1134 684h25v25h-25z" fill="#5875e1"/>
<path d="M1158 684h25v25h-25z" fill="#5470de"/>
<path d="M1182 684h25v25h-25z" fill="#5572df"/>
<path d="M1206 684h25v25h-25z" fill="#5470de"/>
<path d="M1230 684h25v25h-25z" fill="#506bda"/>
<path d="M1254 684h25v25h-25z" fill="#4c66d6"/>
<path d="M1278 684h25v25h-25z" fill="#4961d2"/>
<path d="M1302 684h25v25h-25z" fill="#4f69d9"/>
<path d="M1326 684h25v25h-25z" fill="#a1c0ff"/>
<path d="M1350 684h49v25h-49z" fill="#9ebeff"/>
<path d="M1398 684h25v25h-25z" fill="#a3c2fe"/>
<path d="M1422 684h25v25h-25z" fill="#a9c6fd"/>
<path d="M1446 684h25v25h-25z" fill="#abc8fd"/>
<path d="M1470 684h25v25h-25z" fill="#b1cbfc"/>
<path d="M1494 684h25v25h-25z" fill="#bed2f6"/>
<path d="M1518 684h25v25h-25z" fill="#cad8ef"/>
<path d="M1542 684h25v25h-25z" fill="#d4dbe6"/>
<path d="M1566 684h25v25h-25z" fill="#d9dce1"/>
<path d="M1590 684h25v25h-25z" fill="#dddcdc"/>
<path d="M1614 684h25v25h-25z" fill="#e0dbd8"/>
<path d="M1638 684h25v25h-25z" fill="#e4d9d2"/>
<path d="M1662 684h25v25h-25z" fill="#ebd3c6"/>
<path d="M1686 684h25v25h-25z" fill="#f0cdbb"/>
<path d="M1710 684h25v25h-25z" fill="#f3c8b2"/>
<path d="M1734 684h25v25h-25z" fill="#f5c1a9"/>
<path d="M1758 684h25v25h-25z" fill="#f7ba9f"/>
<path d="M1782 684h25v25h-25z" fill="#f7b194"/>
<path d="M1806 684h25v25h-25z" fill="#f7af91"/>
<path d="M1830 684h25v25h-25z" fill="#f7a98b"/>
<path d="M1854 684h25v25h-25z" fill="#f59d7e"/>
<path d="M1878 684h25v25h-25z" fill="#f18f71"/>
<path d="M1902 684h25v25h-25z" fill="#e97a5f"/>
<path d="M1926 684h25v25h-25z" fill="#df634e"/>
<path d="M1950 684h25v25h-25z" fill="#d75445"/>
<path d="M1974 684h25v25h-25z" fill="#cf453c"/>
<path d="M1998 684h73v25h-73z" fill="#cc403a"/>
<path d="M2070 684h49v25h-49z" fill="#cd423b"/>
<path d="M486 708h73v25h-73z" fill="#7597f6"/>
<path d="M558 708h25v25h-25z" fill="#7396f5"/>
<path d="M582 708h25v25h-25z" fill="#7295f4"/>
<path d="M606 708h25v25h-25z" fill="#779af7"/>
<path d="M630 708h25v25h-25z" fill="#6b8df0"/>
<path d="M654 708h25v25h-25z" fill="#6282ea"/>
<path d="M678 708h25v25h-25z" fill="#5a78e4"/>
<path d="M702 708h49v25h-49z" fill="#5875e1"/>
<path d="M750 708h25v25h-25z" fill="#5d7ce6"/>
<path d="M774 708h25v25h-25z" fill="#6485ec"/>
<path d="M798 708h25v25h-25z" fill="#6b8df0"/>
<path d="M822 708h25v25h-25z" fill="#7093f3"/>
<path d="M846 708h25v25h-25z" fill="#7597f6"/>
<path d="M870 708h25v25h-25z" fill="#799cf8"/>
<path d="M894 708h73v25h-73z" fill="#7b9ff9"/>
<path d="M966 708h25v25h-25z" fill="#779af7"/>
<path d="M990 708h25v25h-25z" fill="#7597f6"/>
<path d="M1014 708h25v25h-25z" fill="#7093f3"/>
<path d="M1038 708h25v25h-25z" fill="#6b8df0"/>
<path d="M1062 708h25v25h-25z" fill="#6788ee"/>
<path d="M1086 708h25v25h-25z" fill="#6282ea"/>
<path d="M1110 708h25v25h-25z" fill="#5d7ce6"/>
<path d="M1134 708h25v25h-25z" fill="#5875e1"/>
<path d="M1158 708h25v25h-25z" fill="#5470de"/>
<path d="M1182 708h25v25h-25z" fill="#5572df"/>
<path d="M1206 708h25v25h-25z" fill="#5470de"/>
<path d="M1230 708h25v25h-25z" fill="#506bda"/>
<path d="M1254 708h25v25h-25z" fill="#4c66d6"/>
<path d="M1278 708h25v25h-25z" fill="#4961d2"/>
<path d="M1302 708h25v25h-25z" fill="#4f69d9"/>
<path d="M1326 708h25v25h-25z" fill="#9ebeff"/>
<path d="M1350 708h49v25h-49z" fill="#9bbcff"/>
<path d="M1398 708h25v25h-25z" fill="#a1c0ff"/>
<path d="M1422 708h25v25h-25z" fill="#a6c4fe"/>
<path d="M1446 708h25v25h-25z" fill="#a9c6fd"/>
<path d="M1470 708h25v25h-25z" fill="#adc9fd"/>
<path d="M1494 708h25v25h-25z" fill="#b7cff9"/>
<path d="M1518 708h25v25h-25z" fill="#c4d5f3"/>
<path d="M1542 708h25v25h-25z" fill="#cfdaea"/>
<path d="M1566 708h25v25h-25z" fill="#d6dce4"/>
<path d="M1590 708h25v25h-25z" fill="#dcdddd"/>
<path d="M1614 708h25v25h-25z" fill="#dfdbd9"/>
<path d="M1638 708h25v25h-25z" fill="#e2dad5"/>
<path d="M1662 708h25v25h-25z" fill="#ead5c9"/>
<path d="M1686 708h25v25h-25z" fill="#efcebd"/>
<path d="M1710 708h25v25h-25z" fill="#f2cab5"/>
<path d="M1734 708h25v25h-25z" fill="#f5c4ac"/>
<path d="M1758 708h25v25h-25z" fill="#f7bca1"/>
<path d="M1782 708h25v25h-25z" fill="#f7b396"/>
<path d="M1806 708h25v25h-25z" fill="#f7af91"/>
<path d="M1830 708h25v25h-25z" fill="#f7a98b"/>
<path d="M1854 708h25v25h-25z" fill="#f49a7b"/>
<path d="M1878 708h25v25h-25z" fill="#f08b6e"/>
<path d="M1902 708h25v25h-25z" fill="#e9785d"/>
<path d="M1926 708h25v25h-25z" fill="#de614d"/>
<path d="M1950 708h25v25h-25z" fill="#d75445"/>
<path d="M1974 708h25v25h-25z" fill="#d0473d"/>
<path d="M1998 708h25v25h-25z" fill="#cd423b"/>
<path d="M2022 708h49v25h-49z" fill="#cf453c"/>
<path d="M2070 708h25v25h-25z" fill="#d0473d"/>
<path d="M486 732h49v25h-49z" fill="#85a8fc"/>
<path d="M534 732h25v25h-25z" fill="#84a7fc"/>
<path d="M558 732h25v25h-25z" fill="#7a9df8"/>
<path d="M582 732h49v25h-49z" fill="#779af7"/>
<path d="M630 732h25v25h-25z" fill="#6c8ff1"/>
<path d="M654 732h25v25h-25z" fill="#6282ea"/>
<path d="M678 732h25v25h-25z" fill="#5a78e4"/>
<path d="M702 732h25v25h-25z" fill="#5470de"/>
<path d="M726 732h25v25h-25z" fill="#5673e0"/>
<path d="M750 732h25v25h-25z" fill="#5d7ce6"/>
<path d="M774 732h25v25h-25z" fill="#6485ec"/>
<path d="M798 732h25v25h-25z" fill="#6b8df0"/>
<path d="M822 732h25v25h-25z" fill="#7295f4"/>
<path d="M846 732h25v25h-25z" fill="#779af7"/>
<path d="M870 732h25v25h-25z" fill="#7a9df8"/>
<path d="M894 732h25v25h-25z" fill="#7ea1fa"/>
<path d="M918 732h25v25h-25z" fill="#7da0f9"/>
<path d="M942 732h25v25h-25z" fill="#7b9ff9"/>
<path d="M966 732h25v25h-25z" fill="#7699f6"/>
<path d="M990 732h25v25h-25z" fill="#7295f4"/>
<path d="M1014 732h25v25h-25z" fill="#6c8ff1"/>
<path d="M1038 732h25v25h-25z" fill="#6788ee"/>
<path d="M1062 732h25v25h-25z" fill="#6384eb"/>
<path d="M1086 732h25v25h-25z" fill="#5f7fe8"/>
<path d="M1110 732h25v25h-25z" fill="#5b7ae5"/>
<path d="M1134 732h25v25h-25z" fill="#5673e0"/>
<path d="M1158 732h25v25h-25z" fill="#536edd"/>
<path d="M1182 732h25v25h-25z" fill="#5572df"/>
<path d="M1206 732h25v25h-25z" fill="#5470de"/>
<path d="M1230 732h25v25h-25z" fill="#506bda"/>
<path d="M1254 732h25v25h-25z" fill="#4c66d6"/>
<path d="M1278 732h25v25h-25z" fill="#4961d2"/>
<path d="M1302 732h25v25h-25z" fill="#4f69d9"/>
<path d="M1326 732h25v25h-25z" fill="#9bbcff"/>
<path d="M1350 732h49v25h-49z" fill="#98b9ff"/>
<path d="M1398 732h25v25h-25z" fill="#9dbdff"/>
<path d="M1422 732h25v25h-25z" fill="#a2c1ff"/>
<path d="M1446 732h25v25h-25z" fill="#a6c4fe"/>
<path d="M1470 732h25v25h-25z" fill="#aac7fd"/>
<path d="M1494 732h25v25h-25z" fill="#b2ccfb"/>
<path d="M1518 732h25v25h-25z" fill="#bbd1f8"/>
<path d="M1542 732h25v25h-25z" fill="#c7d7f0"/>
<path d="M1566 732h25v25h-25z" fill="#cfdaea"/>
<path d="M1590 732h25v25h-25z" fill="#d7dce3"/>
<path d="M1614 732h25v25h-25z" fill="#dcdddd"/>
<path d="M1638 732h25v25h-25z" fill="#e0dbd8"/>
<path d="M1662 732h25v25h-25z" fill="#e8d6cc"/>
<path d="M1686 732h25v25h-25z" fill="#efcfbf"/>
<path d="M1710 732h25v25h-25z" fill="#f3c8b2"/>
<path d="M1734 732h25v25h-25z" fill="#f5c0a7"/>
<path d="M1758 732h25v25h-25z" fill="#f7ba9f"/>
<path d="M1782 732h25v25h-25z" fill="#f7b396"/>
<path d="M1806 732h25v25h-25z" fill="#f7ac8e"/>
<path d="M1830 732h25v25h-25z" fill="#f6a385"/>
<path d="M1854 732h25v25h-25z" fill="#f39577"/>
<path d="M1878 732h25v25h-25z" fill="#ee8669"/>
<path d="M1902 732h25v25h-25z" fill="#e7745b"/>
<path d="M1926 732h25v25h-25z" fill="#de614d"/>
<path d="M1950 732h25v25h-25z" fill="#d85646"/>
<path d="M1974 732h25v25h-25z" fill="#d55042"/>
<path d="M1998 732h73v25h-73z" fill="#d44e41"/>
<path d="M390 756h25v25h-25z" fill="#9fbfff"/>
<path d="M486 756h25v25h-25z" fill="#9dbdff"/>
<path d="M510 756h25v25h-25z" fill="#9bbcff"/>
<path d="M534 756h25v25h-25z" fill="#96b7ff"/>
<path d="M558 756h25v25h-25z" fill="#80a3fa"/>
<path d="M582 756h25v25h-25z" fill="#7a9df8"/>
<path d="M606 756h25v25h-25z" fill="#7597f6"/>
<path d="M630 756h25v25h-25z" fill="#6b8df0"/>
<path d="M654 756h25v25h-25z" fill="#6282ea"/>
<path d="M678 756h25v25h-25z" fill="#5875e1"/>
<path d="M702 756h25v25h-25z" fill="#506bda"/>
<path d="M726 756h25v25h-25z" fill="#536edd"/>
<path d="M750 756h25v25h-25z" fill="#5d7ce6"/>
<path d="M774 756h25v25h-25z" fill="#6485ec"/>
<path d="M798 756h25v25h-25z" fill="#6c8ff1"/>
<path d="M822 756h25v25h-25z" fill="#7396f5"/>
<path d="M846 756h25v25h-25z" fill="#7a9df8"/>
<path d="M870 756h25v25h-25z" fill="#7da0f9"/>
<path d="M894 756h25v25h-25z" fill="#81a4fb"/>
<path d="M918 756h25v25h-25z" fill="#7ea1fa"/>
<path d="M942 756h25v25h-25z" fill="#7b9ff9"/>
<path d="M966 756h25v25h-25z" fill="#7597f6"/>
<path d="M990 756h25v25h-25z" fill="#6e90f2"/>
<path d="M1014 756h25v25h-25z" fill="#688aef"/>
<path d="M1038 756h25v25h-25z" fill="#6485ec"/>
<path d="M1062 756h25v25h-25z" fill="#5f7fe8"/>
<path d="M1086 756h25v25h-25z" fill="#5d7ce6"/>
<path d="M1110 756h25v25h-25z" fill="#5977e3"/>
<path d="M1134 756h25v25h-25z" fill="#5572df"/>
<path d="M1158 756h25v25h-25z" fill="#536edd"/>
<path d="M1182 756h25v25h-25z" fill="#5572df"/>
<path d="M1206 756h25v25h-25z" fill="#5470de"/>
<path d="M1230 756h25v25h-25z" fill="#506bda"/>
<path d="M1254 756h25v25h-25z" fill="#4c66d6"/>
<path d="M1278 756h25v25h-25z" fill="#4961d2"/>
<path d="M1302 756h25v25h-25z" fill="#4f69d9"/>
<path d="M1326 756h25v25h-25z" fill="#98b9ff"/>
<path d="M1350 756h25v25h-25z" fill="#97b8ff"/>
<path d="M1374 756h25v25h-25z" fill="#96b7ff"/>
<path d="M1398 756h25v25h-25z" fill="#97b8ff"/>
<path d="M1422 756h25v25h-25z" fill="#9dbdff"/>
<path d="M1446 756h25v25h-25z" fill="#a2c1ff"/>
<path d="M1470 756h25v25h-25z" fill="#a7c5fe"/>
<path d="M1494 756h25v25h-25z" fill="#adc9fd"/>
<path d="M1518 756h25v25h-25z" fill="#b2ccfb"/>
<path d="M1542 756h25v25h-25z" fill="#bed2f6"/>
<path d="M1566 756h25v25h-25z" fill="#c7d7f0"/>
<path d="M1590 756h25v25h-25z" fill="#d1dae9"/>
<path d="M1614 756h25v25h-25z" fill="#d8dce2"/>
<path d="M1638 756h25v25h-25z" fill="#dddcdc"/>
<path d="M1662 756h25v25h-25z" fill="#e6d7cf"/>
<path d="M1686 756h25v25h-25z" fill="#efcfbf"/>
<path d="M1710 756h25v25h-25z" fill="#f4c5ad"/>
<path d="M1734 756h25v25h-25z" fill="#f7bca1"/>
<path d="M1758 756h25v25h-25z" fill="#f7b79b"/>
<path d="M1782 756h25v25h-25z" fill="#f7b093"/>
<path d="M1806 756h25v25h-25z" fill="#f7a889"/>
<path d="M1830 756h25v25h-25z" fill="#f59d7e"/>
<path d="M1854 756h25v25h-25z" fill="#f29072"/>
<path d="M1878 756h25v25h-25z" fill="#ec8165"/>
<path d="M1902 756h25v25h-25z" fill="#e67259"/>
<path d="M1926 756h25v25h-25z" fill="#df634e"/>
<path d="M1950 756h25v25h-25z" fill="#dc5d4a"/>
<path d="M1974 756h97v25h-97z" fill="#d95847"/>
<path d="M366 780h73v25h-73z" fill="#dbdcde"/>
<path d="M486 780h25v25h-25z" fill="#c9d7f0"/>
<path d="M510 780h25v25h-25z" fill="#bfd3f6"/>
<path d="M534 780h25v25h-25z" fill="#a7c5fe"/>
<path d="M558 780h25v25h-25z" fill="#82a6fb"/>
<path d="M582 780h25v25h-25z" fill="#7b9ff9"/>
<path d="M606 780h25v25h-25z" fill="#7396f5"/>
<path d="M630 780h25v25h-25z" fill="#6b8df0"/>
<path d="M654 780h25v25h-25z" fill="#6180e9"/>
<path d="M678 780h25v25h-25z" fill="#5673e0"/>
<path d="M702 780h25v25h-25z" fill="#4e68d8"/>
<path d="M726 780h25v25h-25z" fill="#516ddb"/>
<path d="M750 780h25v25h-25z" fill="#5d7ce6"/>
<path d="M774 780h25v25h-25z" fill="#6485ec"/>
<path d="M798 780h25v25h-25z" fill="#6c8ff1"/>
<path d="M822 780h25v25h-25z" fill="#7597f6"/>
<path d="M846 780h25v25h-25z" fill="#7b9ff9"/>
<path d="M870 780h25v25h-25z" fill="#7ea1fa"/>
<path d="M894 780h25v25h-25z" fill="#82a6fb"/>
<path d="M918 780h25v25h-25z" fill="#7ea1fa"/>
<path d="M942 780h25v25h-25z" fill="#7b9ff9"/>
<path d="M966 780h25v25h-25z" fill="#7597f6"/>
<path d="M990 780h25v25h-25z" fill="#6c8ff1"/>
<path d="M1014 780h25v25h-25z" fill="#6788ee"/>
<path d="M1038 780h25v25h-25z" fill="#6282ea"/>
<path d="M1062 780h25v25h-25z" fill="#5e7de7"/>
<path d="M1086 780h25v25h-25z" fill="#5b7ae5"/>
<path d="M1110 780h25v25h-25z" fill="#5875e1"/>
<path d="M1134 780h25v25h-25z" fill="#5572df"/>
<path d="M1158 780h25v25h-25z" fill="#536edd"/>
<path d="M1182 780h25v25h-25z" fill="#5572df"/>
<path d="M1206 780h25v25h-25z" fill="#5470de"/>
<path d="M1230 780h25v25h-25z" fill="#506bda"/>
<path d="M1254 780h25v25h-25z" fill="#4c66d6"/>
<path d="M1278 780h25v25h-25z" fill="#4961d2"/>
<path d="M1302 780h25v25h-25z" fill="#4f69d9"/>
<path d="M1326 780h49v25h-49z" fill="#96b7ff"/>
<path d="M1374 780h49v25h-49z" fill="#93b5fe"/>
<path d="M1422 780h25v25h-25z" fill="#9abbff"/>
<path d="M1446 780h25v25h-25z" fill="#a1c0ff"/>
<path d="M1470 780h25v25h-25z" fill="#a6c4fe"/>
<path d="M1494 780h25v25h-25z" fill="#a9c6fd"/>
<path d="M1518 780h25v25h-25z" fill="#abc8fd"/>
<path d="M1542 780h25v25h-25z" fill="#b6cefa"/>
<path d="M1566 780h25v25h-25z" fill="#c1d4f4"/>
<path d="M1590 780h25v25h-25z" fill="#ccd9ed"/>
<path d="M1614 780h25v25h-25z" fill="#d5dbe5"/>
<path d="M1638 780h25v25h-25z" fill="#dcdddd"/>
<path d="M1662 780h25v25h-25z" fill="#e5d8d1"/>
<path d="M1686 780h25v25h-25z" fill="#efcfbf"/>
<path d="M1710 780h25v25h-25z" fill="#f5c2aa"/>
<path d="M1734 780h25v25h-25z" fill="#f7b89c"/>
<path d="M1758 780h25v25h-25z" fill="#f7b599"/>
<path d="M1782 780h25v25h-25z" fill="#f7b093"/>
<path d="M1806 780h25v25h-25z" fill="#f6a586"/>
<path d="M1830 780h25v25h-25z" fill="#f4987a"/>
<path d="M1854 780h25v25h-25z" fill="#f18d6f"/>
<path d="M1878 780h25v25h-25z" fill="#ec7f63"/>
<path d="M1902 780h25v25h-25z" fill="#e67259"/>
<path d="M1926 780h25v25h-25z" fill="#e16751"/>
<path d="M1950 780h25v25h-25z" fill="#df634e"/>
<path d="M1974 780h73v25h-73z" fill="#de614d"/>
<path d="M342 804h97v25h-97z" fill="#f39577"/>
<path d="M438 804h25v25h-25z" fill="#f59f80"/>
<path d="M462 804h25v25h-25z" fill="#f7b599"/>
<path d="M486 804h25v25h-25z" fill="#f2c9b4"/>
<path d="M510 804h25v25h-25z" fill="#e4d9d2"/>
<path d="M534 804h25v25h-25z" fill="#b7cff9"/>
<path d="M558 804h25v25h-25z" fill="#82a6fb"/>
<path d="M582 804h25v25h-25z" fill="#7b9ff9"/>
<path d="M606 804h25v25h-25z" fill="#7396f5"/>
<path d="M630 804h25v25h-25z" fill="#6b8df0"/>
<path d="M654 804h25v25h-25z" fill="#6282ea"/>
<path d="M678 804h25v25h-25z" fill="#5673e0"/>
<path d="M702 804h25v25h-25z" fill="#4e68d8"/>
<path d="M726 804h25v25h-25z" fill="#516ddb"/>
<path d="M750 804h25v25h-25z" fill="#5d7ce6"/>
<path d="M774 804h25v25h-25z" fill="#6485ec"/>
<path d="M798 804h25v25h-25z" fill="#6c8ff1"/>
<path d="M822 804h25v25h-25z" fill="#7597f6"/>
<path d="M846 804h25v25h-25z" fill="#7b9ff9"/>
<path d="M870 804h25v25h-25z" fill="#7ea1fa"/>
<path d="M894 804h25v25h-25z" fill="#82a6fb"/>
<path d="M918 804h25v25h-25z" fill="#7ea1fa"/>
<path d="M942 804h25v25h-25z" fill="#7b9ff9"/>
<path d="M966 804h25v25h-25z" fill="#7597f6"/>
<path d="M990 804h25v25h-25z" fill="#6c8ff1"/>
<path d="M1014 804h25v25h-25z" fill="#6687ed"/>
<path d="M1038 804h25v25h-25z" fill="#6282ea"/>
<path d="M1062 804h25v25h-25z" fill="#5e7de7"/>
<path d="M1086 804h25v25h-25z" fill="#5b7ae5"/>
<path d="M1110 804h25v25h-25z" fill="#5875e1"/>
<path d="M1134 804h25v25h-25z" fill="#5572df"/>
<path d="M1158 804h25v25h-25z" fill="#536edd"/>
<path d="M1182 804h25v25h-25z" fill="#5572df"/>
<path d="M1206 804h25v25h-25z" fill="#5470de"/>
<path d="M1230 804h25v25h-25z" fill="#506bda"/>
<path d="M1254 804h25v25h-25z" fill="#4c66d6"/>
<path d="M1278 804h25v25h-25z" fill="#4961d2"/>
<path d="M1302 804h25v25h-25z" fill="#4f69d9"/>
<path d="M1326 804h25v25h-25z" fill="#94b6ff"/>
<path d="M1350 804h25v25h-25z" fill="#93b5fe"/>
<path d="M1374 804h25v25h-25z" fill="#92b4fe"/>
<path d="M1398 804h25v25h-25z" fill="#90b2fe"/>
<path d="M1422 804h25v25h-25z" fill="#98b9ff"/>
<path d="M1446 804h25v25h-25z" fill="#9fbfff"/>
<path d="M1470 804h25v25h-25z" fill="#a6c4fe"/>
<path d="M1494 804h25v25h-25z" fill="#a7c5fe"/>
<path d="M1518 804h25v25h-25z" fill="#a9c6fd"/>
<path d="M1542 804h25v25h-25z" fill="#b1cbfc"/>
<path d="M1566 804h25v25h-25z" fill="#bcd2f7"/>
<path d="M1590 804h25v25h-25z" fill="#c9d7f0"/>
<path d="M1614 804h25v25h-25z" fill="#d3dbe7"/>
<path d="M1638 804h25v25h-25z" fill="#dadce0"/>
<path d="M1662 804h25v25h-25z" fill="#e4d9d2"/>
<path d="M1686 804h25v25h-25z" fill="#efcfbf"/>
<path d="M1710 804h25v25h-25z" fill="#f5c1a9"/>
<path d="M1734 804h25v25h-25z" fill="#f7b599"/>
<path d="M1758 804h25v25h-25z" fill="#f7b497"/>
<path d="M1782 804h25v25h-25z" fill="#f7af91"/>
<path d="M1806 804h25v25h-25z" fill="#f6a283"/>
<path d="M1830 804h25v25h-25z" fill="#f39778"/>
<path d="M1854 804h25v25h-25z" fill="#f08b6e"/>
<path d="M1878 804h25v25h-25z" fill="#ec8165"/>
<path d="M1902 804h25v25h-25z" fill="#e8765c"/>
<path d="M1926 804h25v25h-25z" fill="#e36c55"/>
<path d="M1950 804h25v25h-25z" fill="#e36b54"/>
<path d="M1974 804h49v25h-49z" fill="#e26952"/>
<path d="M318 828h121v25h-121z" fill="#c32e31"/>
<path d="M438 828h25v25h-25z" fill="#d0473d"/>
<path d="M462 828h25v25h-25z" fill="#e7745b"/>
<path d="M486 828h25v25h-25z" fill="#f5a081"/>
<path d="M510 828h25v25h-25z" fill="#f3c7b1"/>
<path d="M534 828h25v25h-25z" fill="#bed2f6"/>
<path d="M558 828h25v25h-25z" fill="#82a6fb"/>
<path d="M582 828h25v25h-25z" fill="#7a9df8"/>
<path d="M606 828h25v25h-25z" fill="#7597f6"/>
<path d="M630 828h25v25h-25z" fill="#6e90f2"/>
<path d="M654 828h25v25h-25z" fill="#6384eb"/>
<path d="M678 828h25v25h-25z" fill="#5977e3"/>
<path d="M702 828h25v25h-25z" fill="#506bda"/>
<path d="M726 828h25v25h-25z" fill="#536edd"/>
<path d="M750 828h25v25h-25z" fill="#5d7ce6"/>
<path d="M774 828h25v25h-25z" fill="#6485ec"/>
<path d="M798 828h25v25h-25z" fill="#6c8ff1"/>
<path d="M822 828h25v25h-25z" fill="#7597f6"/>
<path d="M846 828h25v25h-25z" fill="#7b9ff9"/>
<path d="M870 828h25v25h-25z" fill="#7ea1fa"/>
<path d="M894 828h25v25h-25z" fill="#82a6fb"/>
<path d="M918 828h25v25h-25z" fill="#7ea1fa"/>
<path d="M942 828h25v25h-25z" fill="#7a9df8"/>
<path d="M966 828h25v25h-25z" fill="#7396f5"/>
<path d="M990 828h25v25h-25z" fill="#6b8df0"/>
<path d="M1014 828h25v25h-25z" fill="#6687ed"/>
<path d="M1038 828h25v25h-25z" fill="#6180e9"/>
<path d="M1062 828h25v25h-25z" fill="#5e7de7"/>
<path d="M1086 828h25v25h-25z" fill="#5a78e4"/>
<path d="M1110 828h25v25h-25z" fill="#5875e1"/>
<path d="M1134 828h25v25h-25z" fill="#5572df"/>
<path d="M1158 828h25v25h-25z" fill="#536edd"/>
<path d="M1182 828h25v25h-25z" fill="#5572df"/>
<path d="M1206 828h25v25h-25z" fill="#5470de"/>
<path d="M1230 828h25v25h-25z" fill="#506bda"/>
<path d="M1254 828h25v25h-25z" fill="#4c66d6"/>
<path d="M1278 828h25v25h-25z" fill="#4961d2"/>
<path d="M1302 828h25v25h-25z" fill="#4f69d9"/>
<path d="M1326 828h49v25h-49z" fill="#8fb1fe"/>
<path d="M1374 828h49v25h-49z" fill="#8db0fe"/>
<path d="M1422 828h25v25h-25z" fill="#96b7ff"/>
<path d="M1446 828h25v25h-25z" fill="#9fbfff"/>
<path d="M1470 828h25v25h-25z" fill="#a5c3fe"/>
<path d="M1494 828h25v25h-25z" fill="#a6c4fe"/>
<path d="M1518 828h25v25h-25z" fill="#a7c5fe"/>
<path d="M1542 828h25v25h-25z" fill="#aec9fc"/>
<path d="M1566 828h25v25h-25z" fill="#bbd1f8"/>
<path d="M1590 828h25v25h-25z" fill="#c7d7f0"/>
<path d="M1614 828h25v25h-25z" fill="#d2dbe8"/>
<path d="M1638 828h25v25h-25z" fill="#d9dce1"/>
<path d="M1662 828h25v25h-25z" fill="#e3d9d3"/>
<path d="M1686 828h25v25h-25z" fill="#eed0c0"/>
<path d="M1710 828h25v25h-25z" fill="#f5c2aa"/>
<path d="M1734 828h25v25h-25z" fill="#f7b79b"/>
<path d="M1758 828h25v25h-25z" fill="#f7b396"/>
<path d="M1782 828h25v25h-25z" fill="#f7ac8e"/>
<path d="M1806 828h25v25h-25z" fill="#f5a081"/>
<path d="M1830 828h25v25h-25z" fill="#f4987a"/>
<path d="M1854 828h25v25h-25z" fill="#f39577"/>
<path d="M1878 828h25v25h-25z" fill="#f18d6f"/>
<path d="M1902 828h25v25h-25z" fill="#ee8669"/>
<path d="M1926 828h25v25h-25z" fill="#ec7f63"/>
<path d="M1950 828h73v25h-73z" fill="#eb7d62"/>
<path d="M318 852h121v25h-121z" fill="#b40426"/>
<path d="M438 852h25v25h-25z" fill="#c83836"/>
<path d="M462 852h25v25h-25z" fill="#e36c55"/>
<path d="M486 852h25v25h-25z" fill="#f6a283"/>
<path d="M510 852h25v25h-25z" fill="#efcebd"/>
<path d="M534 852h25v25h-25z" fill="#b1cbfc"/>
<path d="M558 852h25v25h-25z" fill="#80a3fa"/>
<path d="M582 852h25v25h-25z" fill="#779af7"/>
<path d="M606 852h25v25h-25z" fill="#7699f6"/>
<path d="M630 852h25v25h-25z" fill="#7396f5"/>
<path d="M654 852h25v25h-25z" fill="#6a8bef"/>
<path d="M678 852h25v25h-25z" fill="#5e7de7"/>
<path d="M702 852h25v25h-25z" fill="#5572df"/>
<path d="M726 852h25v25h-25z" fill="#5673e0"/>
<path d="M750 852h25v25h-25z" fill="#5d7ce6"/>
<path d="M774 852h25v25h-25z" fill="#6485ec"/>
<path d="M798 852h25v25h-25z" fill="#6c8ff1"/>
<path d="M822 852h25v25h-25z" fill="#7597f6"/>
<path d="M846 852h25v25h-25z" fill="#7b9ff9"/>
<path d="M870 852h25v25h-25z" fill="#7ea1fa"/>
<path d="M894 852h25v25h-25z" fill="#82a6fb"/>
<path d="M918 852h25v25h-25z" fill="#7da0f9"/>
<path d="M942 852h25v25h-25z" fill="#799cf8"/>
<path d="M966 852h25v25h-25z" fill="#7295f4"/>
<path d="M990 852h25v25h-25z" fill="#6a8bef"/>
<path d="M1014 852h25v25h-25z" fill="#6485ec"/>
<path d="M1038 852h25v25h-25z" fill="#6180e9"/>
<path d="M1062 852h25v25h-25z" fill="#5d7ce6"/>
<path d="M1086 852h25v25h-25z" fill="#5977e3"/>
<path d="M1110 852h25v25h-25z" fill="#5673e0"/>
<path d="M1134 852h25v25h-25z" fill="#5470de"/>
<path d="M1158 852h25v25h-25z" fill="#536edd"/>
<path d="M1182 852h25v25h-25z" fill="#5572df"/>
<path d="M1206 852h25v25h-25z" fill="#5470de"/>
<path d="M1230 852h25v25h-25z" fill="#506bda"/>
<path d="M1254 852h25v25h-25z" fill="#4c66d6"/>
<path d="M1278 852h25v25h-25z" fill="#4961d2"/>
<path d="M1302 852h25v25h-25z" fill="#4e68d8"/>
<path d="M1326 852h25v25h-25z" fill="#85a8fc"/>
<path d="M1350 852h25v25h-25z" fill="#86a9fc"/>
<path d="M1374 852h25v25h-25z" fill="#89acfd"/>
<path d="M1398 852h25v25h-25z" fill="#8caffe"/>
<path d="M1422 852h25v25h-25z" fill="#96b7ff"/>
<path d="M1446 852h25v25h-25z" fill="#9ebeff"/>
<path d="M1470 852h25v25h-25z" fill="#a5c3fe"/>
<path d="M1494 852h25v25h-25z" fill="#a6c4fe"/>
<path d="M1518 852h25v25h-25z" fill="#aac7fd"/>
<path d="M1542 852h25v25h-25z" fill="#b2ccfb"/>
<path d="M1566 852h25v25h-25z" fill="#bcd2f7"/>
<path d="M1590 852h25v25h-25z" fill="#c7d7f0"/>
<path d="M1614 852h25v25h-25z" fill="#d1dae9"/>
<path d="M1638 852h25v25h-25z" fill="#d9dce1"/>
<path d="M1662 852h25v25h-25z" fill="#e1dad6"/>
<path d="M1686 852h25v25h-25z" fill="#ebd3c6"/>
<path d="M1710 852h25v25h-25z" fill="#f3c8b2"/>
<path d="M1734 852h25v25h-25z" fill="#f7bca1"/>
<path d="M1758 852h25v25h-25z" fill="#f7b396"/>
<path d="M1782 852h25v25h-25z" fill="#f7a889"/>
<path d="M1806 852h25v25h-25z" fill="#f59c7d"/>
<path d="M1830 852h25v25h-25z" fill="#f5a081"/>
<path d="M1854 852h49v25h-49z" fill="#f7ac8e"/>
<path d="M1902 852h25v25h-25z" fill="#f7a98b"/>
<path d="M1926 852h73v25h-73z" fill="#f6a586"/>
<path d="M318 876h97v25h-97z" fill="#b40426"/>
<path d="M414 876h25v25h-25z" fill="#b50927"/>
<path d="M438 876h25v25h-25z" fill="#d24b40"/>
<path d="M462 876h25v25h-25z" fill="#ed8366"/>
<path d="M486 876h25v25h-25z" fill="#f7b89c"/>
<path d="M510 876h25v25h-25z" fill="#dfdbd9"/>
<path d="M534 876h25v25h-25z" fill="#9bbcff"/>
<path d="M558 876h25v25h-25z" fill="#799cf8"/>
<path d="M582 876h25v25h-25z" fill="#7396f5"/>
<path d="M606 876h25v25h-25z" fill="#7699f6"/>
<path d="M630 876h25v25h-25z" fill="#7a9df8"/>
<path d="M654 876h25v25h-25z" fill="#7295f4"/>
<path d="M678 876h25v25h-25z" fill="#6687ed"/>
<path d="M702 876h25v25h-25z" fill="#5d7ce6"/>
<path d="M726 876h25v25h-25z" fill="#5a78e4"/>
<path d="M750 876h25v25h-25z" fill="#5d7ce6"/>
<path d="M774 876h25v25h-25z" fill="#6485ec"/>
<path d="M798 876h25v25h-25z" fill="#6c8ff1"/>
<path d="M822 876h25v25h-25z" fill="#7396f5"/>
<path d="M846 876h25v25h-25z" fill="#7b9ff9"/>
<path d="M870 876h25v25h-25z" fill="#7ea1fa"/>
<path d="M894 876h25v25h-25z" fill="#81a4fb"/>
<path d="M918 876h25v25h-25z" fill="#7b9ff9"/>
<path d="M942 876h25v25h-25z" fill="#7597f6"/>
<path d="M966 876h25v25h-25z" fill="#6f92f3"/>
<path d="M990 876h25v25h-25z" fill="#688aef"/>
<path d="M1014 876h25v25h-25z" fill="#6384eb"/>
<path d="M1038 876h25v25h-25z" fill="#5e7de7"/>
<path d="M1062 876h25v25h-25z" fill="#5b7ae5"/>
<path d="M1086 876h25v25h-25z" fill="#5875e1"/>
<path d="M1110 876h25v25h-25z" fill="#5572df"/>
<path d="M1134 876h25v25h-25z" fill="#5470de"/>
<path d="M1158 876h25v25h-25z" fill="#536edd"/>
<path d="M1182 876h25v25h-25z" fill="#5572df"/>
<path d="M1206 876h25v25h-25z" fill="#5470de"/>
<path d="M1230 876h25v25h-25z" fill="#506bda"/>
<path d="M1254 876h25v25h-25z" fill="#4c66d6"/>
<path d="M1278 876h25v25h-25z" fill="#4961d2"/>
<path d="M1302 876h25v25h-25z" fill="#4c66d6"/>
<path d="M1326 876h25v25h-25z" fill="#7a9df8"/>
<path d="M1350 876h25v25h-25z" fill="#7ea1fa"/>
<path d="M1374 876h25v25h-25z" fill="#85a8fc"/>
<path d="M1398 876h25v25h-25z" fill="#8caffe"/>
<path d="M1422 876h25v25h-25z" fill="#94b6ff"/>
<path d="M1446 876h25v25h-25z" fill="#9dbdff"/>
<path d="M1470 876h25v25h-25z" fill="#a3c2fe"/>
<path d="M1494 876h25v25h-25z" fill="#a7c5fe"/>
<path d="M1518 876h25v25h-25z" fill="#abc8fd"/>
<path d="M1542 876h25v25h-25z" fill="#b5cdfa"/>
<path d="M1566 876h25v25h-25z" fill="#bfd3f6"/>
<path d="M1590 876h25v25h-25z" fill="#c7d7f0"/>
<path d="M1614 876h25v25h-25z" fill="#d1dae9"/>
<path d="M1638 876h25v25h-25z" fill="#d8dce2"/>
<path d="M1662 876h25v25h-25z" fill="#e0dbd8"/>
<path d="M1686 876h25v25h-25z" fill="#e9d5cb"/>
<path d="M1710 876h25v25h-25z" fill="#f0cdbb"/>
<path d="M1734 876h25v25h-25z" fill="#f5c2aa"/>
<path d="M1758 876h25v25h-25z" fill="#f7b396"/>
<path d="M1782 876h25v25h-25z" fill="#f6a283"/>
<path d="M1806 876h25v25h-25z" fill="#f4987a"/>
<path d="M1830 876h25v25h-25z" fill="#f7aa8c"/>
<path d="M1854 876h25v25h-25z" fill="#f5c0a7"/>
<path d="M1878 876h49v25h-49z" fill="#f5c4ac"/>
<path d="M1926 876h49v25h-49z" fill="#f5c2aa"/>
<path d="M318 900h73v25h-73z" fill="#b40426"/>
<path d="M390 900h25v25h-25z" fill="#b8122a"/>
<path d="M414 900h25v25h-25z" fill="#c32e31"/>
<path d="M438 900h25v25h-25z" fill="#ea7b60"/>
<path d="M462 900h25v25h-25z" fill="#f5c4ac"/>
<path d="M486 900h25v25h-25z" fill="#d7dce3"/>
<path d="M510 900h25v25h-25z" fill="#b1cbfc"/>
<path d="M534 900h25v25h-25z" fill="#7a9df8"/>
<path d="M558 900h49v25h-49z" fill="#6a8bef"/>
<path d="M606 900h25v25h-25z" fill="#779af7"/>
<path d="M630 900h49v25h-49z" fill="#85a8fc"/>
<path d="M678 900h25v25h-25z" fill="#7597f6"/>
<path d="M702 900h25v25h-25z" fill="#6788ee"/>
<path d="M726 900h25v25h-25z" fill="#5f7fe8"/>
<path d="M750 900h25v25h-25z" fill="#5e7de7"/>
<path d="M774 900h25v25h-25z" fill="#6485ec"/>
<path d="M798 900h25v25h-25z" fill="#6b8df0"/>
<path d="M822 900h25v25h-25z" fill="#7396f5"/>
<path d="M846 900h25v25h-25z" fill="#799cf8"/>
<path d="M870 900h25v25h-25z" fill="#7da0f9"/>
<path d="M894 900h25v25h-25z" fill="#80a3fa"/>
<path d="M918 900h25v25h-25z" fill="#799cf8"/>
<path d="M942 900h25v25h-25z" fill="#7295f4"/>
<path d="M966 900h25v25h-25z" fill="#6b8df0"/>
<path d="M990 900h25v25h-25z" fill="#6687ed"/>
<path d="M1014 900h25v25h-25z" fill="#6180e9"/>
<path d="M1038 900h25v25h-25z" fill="#5d7ce6"/>
<path d="M1062 900h25v25h-25z" fill="#5977e3"/>
<path d="M1086 900h25v25h-25z" fill="#5673e0"/>
<path d="M1110 900h49v25h-49z" fill="#5470de"/>
<path d="M1158 900h25v25h-25z" fill="#536edd"/>
<path d="M1182 900h25v25h-25z" fill="#5572df"/>
<path d="M1206 900h25v25h-25z" fill="#5470de"/>
<path d="M1230 900h25v25h-25z" fill="#506bda"/>
<path d="M1254 900h25v25h-25z" fill="#4c66d6"/>
<path d="M1278 900h25v25h-25z" fill="#4961d2"/>
<path d="M1302 900h25v25h-25z" fill="#4c66d6"/>
<path d="M1326 900h25v25h-25z" fill="#7699f6"/>
<path d="M1350 900h25v25h-25z" fill="#7b9ff9"/>
<path d="M1374 900h25v25h-25z" fill="#82a6fb"/>
<path d="M1398 900h25v25h-25z" fill="#8badfd"/>
<path d="M1422 900h25v25h-25z" fill="#93b5fe"/>
<path d="M1446 900h25v25h-25z" fill="#9bbcff"/>
<path d="M1470 900h25v25h-25z" fill="#a2c1ff"/>
<path d="M1494 900h25v25h-25z" fill="#a6c4fe"/>
<path d="M1518 900h25v25h-25z" fill="#abc8fd"/>
<path d="M1542 900h25v25h-25z" fill="#b5cdfa"/>
<path d="M1566 900h25v25h-25z" fill="#bed2f6"/>
<path d="M1590 900h25v25h-25z" fill="#c6d6f1"/>
<path d="M1614 900h25v25h-25z" fill="#cfdaea"/>
<path d="M1638 900h25v25h-25z" fill="#d7dce3"/>
<path d="M1662 900h25v25h-25z" fill="#dedcdb"/>
<path d="M1686 900h25v25h-25z" fill="#e6d7cf"/>
<path d="M1710 900h25v25h-25z" fill="#eed0c0"/>
<path d="M1734 900h25v25h-25z" fill="#f4c5ad"/>
<path d="M1758 900h25v25h-25z" fill="#f7b497"/>
<path d="M1782 900h25v25h-25z" fill="#f5a081"/>
<path d="M1806 900h25v25h-25z" fill="#f49a7b"/>
<path d="M1830 900h25v25h-25z" fill="#f7b093"/>
<path d="M1854 900h25v25h-25z" fill="#f3c8b2"/>
<path d="M1878 900h97v25h-97z" fill="#f2cab5"/>
<path d="M318 924h73v25h-73z" fill="#b40426"/>
<path d="M390 924h25v25h-25z" fill="#c0282f"/>
<path d="M414 924h25v25h-25z" fill="#d44e41"/>
<path d="M438 924h25v25h-25z" fill="#f7ac8e"/>
<path d="M462 924h25v25h-25z" fill="#c5d6f2"/>
<path d="M486 924h25v25h-25z" fill="#92b4fe"/>
<path d="M510 924h25v25h-25z" fill="#7396f5"/>
<path d="M534 924h25v25h-25z" fill="#5875e1"/>
<path d="M558 924h25v25h-25z" fill="#5977e3"/>
<path d="M582 924h25v25h-25z" fill="#5f7fe8"/>
<path d="M606 924h25v25h-25z" fill="#7699f6"/>
<path d="M630 924h25v25h-25z" fill="#8fb1fe"/>
<path d="M654 924h25v25h-25z" fill="#98b9ff"/>
<path d="M678 924h25v25h-25z" fill="#85a8fc"/>
<path d="M702 924h25v25h-25z" fill="#7295f4"/>
<path d="M726 924h25v25h-25z" fill="#6687ed"/>
<path d="M750 924h25v25h-25z" fill="#6180e9"/>
<path d="M774 924h25v25h-25z" fill="#6687ed"/>
<path d="M798 924h25v25h-25z" fill="#6b8df0"/>
<path d="M822 924h25v25h-25z" fill="#7093f3"/>
<path d="M846 924h25v25h-25z" fill="#7699f6"/>
<path d="M870 924h25v25h-25z" fill="#799cf8"/>
<path d="M894 924h25v25h-25z" fill="#7da0f9"/>
<path d="M918 924h25v25h-25z" fill="#7597f6"/>
<path d="M942 924h25v25h-25z" fill="#6c8ff1"/>
<path d="M966 924h25v25h-25z" fill="#6788ee"/>
<path d="M990 924h25v25h-25z" fill="#6384eb"/>
<path d="M1014 924h25v25h-25z" fill="#5f7fe8"/>
<path d="M1038 924h25v25h-25z" fill="#5b7ae5"/>
<path d="M1062 924h25v25h-25z" fill="#5875e1"/>
<path d="M1086 924h25v25h-25z" fill="#5572df"/>
<path d="M1110 924h25v25h-25z" fill="#5470de"/>
<path d="M1134 924h49v25h-49z" fill="#536edd"/>
<path d="M1182 924h25v25h-25z" fill="#5572df"/>
<path d="M1206 924h25v25h-25z" fill="#5470de"/>
<path d="M1230 924h25v25h-25z" fill="#506bda"/>
<path d="M1254 924h25v25h-25z" fill="#4c66d6"/>
<path d="M1278 924h25v25h-25z" fill="#4961d2"/>
<path d="M1302 924h25v25h-25z" fill="#4c66d6"/>
<path d="M1326 924h25v25h-25z" fill="#7597f6"/>
<path d="M1350 924h25v25h-25z" fill="#7a9df8"/>
<path d="M1374 924h25v25h-25z" fill="#81a4fb"/>
<path d="M1398 924h25v25h-25z" fill="#89acfd"/>
<path d="M1422 924h25v25h-25z" fill="#92b4fe"/>
<path d="M1446 924h25v25h-25z" fill="#9abbff"/>
<path d="M1470 924h25v25h-25z" fill="#a1c0ff"/>
<path d="M1494 924h25v25h-25z" fill="#a3c2fe"/>
<path d="M1518 924h25v25h-25z" fill="#a9c6fd"/>
<path d="M1542 924h25v25h-25z" fill="#b2ccfb"/>
<path d="M1566 924h25v25h-25z" fill="#bbd1f8"/>
<path d="M1590 924h25v25h-25z" fill="#c5d6f2"/>
<path d="M1614 924h25v25h-25z" fill="#cedaeb"/>
<path d="M1638 924h25v25h-25z" fill="#d5dbe5"/>
<path d="M1662 924h25v25h-25z" fill="#dcdddd"/>
<path d="M1686 924h25v25h-25z" fill="#e4d9d2"/>
<path d="M1710 924h25v25h-25z" fill="#ecd3c5"/>
<path d="M1734 924h25v25h-25z" fill="#f3c7b1"/>
<path d="M1758 924h25v25h-25z" fill="#f7b497"/>
<path d="M1782 924h25v25h-25z" fill="#f6a283"/>
<path d="M1806 924h25v25h-25z" fill="#f59f80"/>
<path d="M1830 924h25v25h-25z" fill="#f7b599"/>
<path d="M1854 924h25v25h-25z" fill="#f2c9b4"/>
<path d="M1878 924h73v25h-73z" fill="#f2cab5"/>
<path d="M318 948h73v25h-73z" fill="#b40426"/>
<path d="M390 948h25v25h-25z" fill="#ca3b37"/>
<path d="M414 948h25v25h-25z" fill="#e8765c"/>
<path d="M438 948h25v25h-25z" fill="#eed0c0"/>
<path d="M462 948h25v25h-25z" fill="#93b5fe"/>
<path d="M486 948h25v25h-25z" fill="#6282ea"/>
<path d="M510 948h25v25h-25z" fill="#506bda"/>
<path d="M534 948h25v25h-25z" fill="#455cce"/>
<path d="M558 948h25v25h-25z" fill="#4e68d8"/>
<path d="M582 948h25v25h-25z" fill="#5875e1"/>
<path d="M606 948h25v25h-25z" fill="#7396f5"/>
<path d="M630 948h25v25h-25z" fill="#92b4fe"/>
<path d="M654 948h25v25h-25z" fill="#a2c1ff"/>
<path d="M678 948h25v25h-25z" fill="#90b2fe"/>
<path d="M702 948h25v25h-25z" fill="#7b9ff9"/>
<path d="M726 948h25v25h-25z" fill="#6c8ff1"/>
<path d="M750 948h25v25h-25z" fill="#6485ec"/>
<path d="M774 948h25v25h-25z" fill="#6788ee"/>
<path d="M798 948h25v25h-25z" fill="#6a8bef"/>
<path d="M822 948h25v25h-25z" fill="#6e90f2"/>
<path d="M846 948h25v25h-25z" fill="#7396f5"/>
<path d="M870 948h25v25h-25z" fill="#7699f6"/>
<path d="M894 948h25v25h-25z" fill="#779af7"/>
<path d="M918 948h25v25h-25z" fill="#7093f3"/>
<path d="M942 948h25v25h-25z" fill="#6a8bef"/>
<path d="M966 948h25v25h-25z" fill="#6485ec"/>
<path d="M990 948h25v25h-25z" fill="#6180e9"/>
<path d="M1014 948h25v25h-25z" fill="#5d7ce6"/>
<path d="M1038 948h25v25h-25z" fill="#5a78e4"/>
<path d="M1062 948h25v25h-25z" fill="#5875e1"/>
<path d="M1086 948h25v25h-25z" fill="#5572df"/>
<path d="M1110 948h49v25h-49z" fill="#536edd"/>
<path d="M1158 948h25v25h-25z" fill="#5470de"/>
<path d="M1182 948h25v25h-25z" fill="#5572df"/>
<path d="M1206 948h25v25h-25z" fill="#5470de"/>
<path d="M1230 948h25v25h-25z" fill="#506bda"/>
<path d="M1254 948h25v25h-25z" fill="#4c66d6"/>
<path d="M1278 948h25v25h-25z" fill="#4961d2"/>
<path d="M1302 948h25v25h-25z" fill="#4c66d6"/>
<path d="M1326 948h25v25h-25z" fill="#7597f6"/>
<path d="M1350 948h25v25h-25z" fill="#799cf8"/>
<path d="M1374 948h25v25h-25z" fill="#80a3fa"/>
<path d="M1398 948h25v25h-25z" fill="#88abfd"/>
<path d="M1422 948h25v25h-25z" fill="#90b2fe"/>
<path d="M1446 948h25v25h-25z" fill="#98b9ff"/>
<path d="M1470 948h25v25h-25z" fill="#9fbfff"/>
<path d="M1494 948h25v25h-25z" fill="#a2c1ff"/>
<path d="M1518 948h25v25h-25z" fill="#a7c5fe"/>
<path d="M1542 948h25v25h-25z" fill="#afcafc"/>
<path d="M1566 948h25v25h-25z" fill="#b9d0f9"/>
<path d="M1590 948h25v25h-25z" fill="#c3d5f4"/>
<path d="M1614 948h25v25h-25z" fill="#ccd9ed"/>
<path d="M1638 948h25v25h-25z" fill="#d3dbe7"/>
<path d="M1662 948h25v25h-25z" fill="#d9dce1"/>
<path d="M1686 948h25v25h-25z" fill="#e2dad5"/>
<path d="M1710 948h25v25h-25z" fill="#ead4c8"/>
<path d="M1734 948h25v25h-25z" fill="#f2c9b4"/>
<path d="M1758 948h25v25h-25z" fill="#f7b599"/>
<path d="M1782 948h25v25h-25z" fill="#f6a586"/>
<path d="M1806 948h25v25h-25z" fill="#f6a385"/>
<path d="M1830 948h25v25h-25z" fill="#f7b599"/>
<path d="M1854 948h73v25h-73z" fill="#f4c5ad"/>
<path d="M318 972h73v25h-73z" fill="#b70d28"/>
<path d="M390 972h25v25h-25z" fill="#d75445"/>
<path d="M414 972h25v25h-25z" fill="#f6a283"/>
<path d="M438 972h25v25h-25z" fill="#cedaeb"/>
<path d="M462 972h25v25h-25z" fill="#799cf8"/>
<path d="M486 972h25v25h-25z" fill="#516ddb"/>
<path d="M510 972h25v25h-25z" fill="#455cce"/>
<path d="M534 972h25v25h-25z" fill="#3e51c5"/>
<path d="M558 972h25v25h-25z" fill="#4961d2"/>
<path d="M582 972h25v25h-25z" fill="#5470de"/>
<path d="M606 972h25v25h-25z" fill="#6f92f3"/>
<path d="M630 972h25v25h-25z" fill="#8caffe"/>
<path d="M654 972h25v25h-25z" fill="#a1c0ff"/>
<path d="M678 972h25v25h-25z" fill="#94b6ff"/>
<path d="M702 972h25v25h-25z" fill="#82a6fb"/>
<path d="M726 972h25v25h-25z" fill="#7597f6"/>
<path d="M750 972h25v25h-25z" fill="#6b8df0"/>
<path d="M774 972h49v25h-49z" fill="#6788ee"/>
<path d="M822 972h25v25h-25z" fill="#6b8df0"/>
<path d="M846 972h25v25h-25z" fill="#6f92f3"/>
<path d="M870 972h25v25h-25z" fill="#7093f3"/>
<path d="M894 972h25v25h-25z" fill="#7295f4"/>
<path d="M918 972h25v25h-25z" fill="#6c8ff1"/>
<path d="M942 972h25v25h-25z" fill="#6687ed"/>
<path d="M966 972h25v25h-25z" fill="#6282ea"/>
<path d="M990 972h25v25h-25z" fill="#5e7de7"/>
<path d="M1014 972h25v25h-25z" fill="#5b7ae5"/>
<path d="M1038 972h25v25h-25z" fill="#5a78e4"/>
<path d="M1062 972h25v25h-25z" fill="#5875e1"/>
<path d="M1086 972h25v25h-25z" fill="#5572df"/>
<path d="M1110 972h25v25h-25z" fill="#536edd"/>
<path d="M1134 972h25v25h-25z" fill="#5470de"/>
<path d="M1158 972h49v25h-49z" fill="#5572df"/>
<path d="M1206 972h25v25h-25z" fill="#5470de"/>
<path d="M1230 972h25v25h-25z" fill="#506bda"/>
<path d="M1254 972h25v25h-25z" fill="#4c66d6"/>
<path d="M1278 972h25v25h-25z" fill="#4961d2"/>
<path d="M1302 972h25v25h-25z" fill="#4c66d6"/>
<path d="M1326 972h25v25h-25z" fill="#7597f6"/>
<path d="M1350 972h25v25h-25z" fill="#799cf8"/>
<path d="M1374 972h25v25h-25z" fill="#80a3fa"/>
<path d="M1398 972h25v25h-25z" fill="#88abfd"/>
<path d="M1422 972h25v25h-25z" fill="#90b2fe"/>
<path d="M1446 972h25v25h-25z" fill="#97b8ff"/>
<path d="M1470 972h25v25h-25z" fill="#9ebeff"/>
<path d="M1494 972h25v25h-25z" fill="#a2c1ff"/>
<path d="M1518 972h25v25h-25z" fill="#a6c4fe"/>
<path d="M1542 972h25v25h-25z" fill="#afcafc"/>
<path d="M1566 972h25v25h-25z" fill="#b7cff9"/>
<path d="M1590 972h25v25h-25z" fill="#c1d4f4"/>
<path d="M1614 972h25v25h-25z" fill="#cad8ef"/>
<path d="M1638 972h25v25h-25z" fill="#d1dae9"/>
<path d="M1662 972h25v25h-25z" fill="#d7dce3"/>
<path d="M1686 972h25v25h-25z" fill="#dfdbd9"/>
<path d="M1710 972h25v25h-25z" fill="#e8d6cc"/>
<path d="M1734 972h25v25h-25z" fill="#f2cbb7"/>
<path d="M1758 972h25v25h-25z" fill="#f7b79b"/>
<path d="M1782 972h25v25h-25z" fill="#f7aa8c"/>
<path d="M1806 972h25v25h-25z" fill="#f7a98b"/>
<path d="M1830 972h25v25h-25z" fill="#f7b194"/>
<path d="M1854 972h49v25h-49z" fill="#f7ba9f"/>
<path d="M342 996h49v25h-49z" fill="#dc5d4a"/>
<path d="M390 996h25v25h-25z" fill="#f29072"/>
<path d="M414 996h25v25h-25z" fill="#efcebd"/>
<path d="M438 996h25v25h-25z" fill="#a3c2fe"/>
<path d="M462 996h25v25h-25z" fill="#6384eb"/>
<path d="M486 996h25v25h-25z" fill="#485fd1"/>
<path d="M510 996h25v25h-25z" fill="#4257c9"/>
<path d="M534 996h25v25h-25z" fill="#3c4ec2"/>
<path d="M558 996h25v25h-25z" fill="#465ecf"/>
<path d="M582 996h25v25h-25z" fill="#516ddb"/>
<path d="M606 996h25v25h-25z" fill="#6a8bef"/>
<path d="M630 996h25v25h-25z" fill="#85a8fc"/>
<path d="M654 996h25v25h-25z" fill="#9ebeff"/>
<path d="M678 996h25v25h-25z" fill="#98b9ff"/>
<path d="M702 996h25v25h-25z" fill="#89acfd"/>
<path d="M726 996h25v25h-25z" fill="#7da0f9"/>
<path d="M750 996h25v25h-25z" fill="#7295f4"/>
<path d="M774 996h25v25h-25z" fill="#688aef"/>
<path d="M798 996h25v25h-25z" fill="#6485ec"/>
<path d="M822 996h25v25h-25z" fill="#688aef"/>
<path d="M846 996h73v25h-73z" fill="#6c8ff1"/>
<path d="M918 996h25v25h-25z" fill="#688aef"/>
<path d="M942 996h25v25h-25z" fill="#6384eb"/>
<path d="M966 996h25v25h-25z" fill="#6180e9"/>
<path d="M990 996h25v25h-25z" fill="#5d7ce6"/>
<path d="M1014 996h25v25h-25z" fill="#5b7ae5"/>
<path d="M1038 996h25v25h-25z" fill="#5a78e4"/>
<path d="M1062 996h25v25h-25z" fill="#5875e1"/>
<path d="M1086 996h25v25h-25z" fill="#5673e0"/>
<path d="M1110 996h73v25h-73z" fill="#5470de"/>
<path d="M1182 996h25v25h-25z" fill="#5572df"/>
<path d="M1206 996h25v25h-25z" fill="#5470de"/>
<path d="M1230 996h25v25h-25z" fill="#516ddb"/>
<path d="M1254 996h25v25h-25z" fill="#4c66d6"/>
<path d="M1278 996h25v25h-25z" fill="#4a63d3"/>
<path d="M1302 996h25v25h-25z" fill="#4c66d6"/>
<path d="M1326 996h25v25h-25z" fill="#779af7"/>
<path d="M1350 996h25v25h-25z" fill="#7b9ff9"/>
<path d="M1374 996h25v25h-25z" fill="#84a7fc"/>
<path d="M1398 996h25v25h-25z" fill="#8badfd"/>
<path d="M1422 996h25v25h-25z" fill="#92b4fe"/>
<path d="M1446 996h25v25h-25z" fill="#97b8ff"/>
<path d="M1470 996h25v25h-25z" fill="#9dbdff"/>
<path d="M1494 996h25v25h-25z" fill="#a1c0ff"/>
<path d="M1518 996h25v25h-25z" fill="#a6c4fe"/>
<path d="M1542 996h25v25h-25z" fill="#aec9fc"/>
<path d="M1566 996h25v25h-25z" fill="#b6cefa"/>
<path d="M1590 996h25v25h-25z" fill="#bfd3f6"/>
<path d="M1614 996h25v25h-25z" fill="#c7d7f0"/>
<path d="M1638 996h25v25h-25z" fill="#cedaeb"/>
<path d="M1662 996h25v25h-25z" fill="#d5dbe5"/>
<path d="M1686 996h25v25h-25z" fill="#dddcdc"/>
<path d="M1710 996h25v25h-25z" fill="#e5d8d1"/>
<path d="M1734 996h25v25h-25z" fill="#f0cdbb"/>
<path d="M1758 996h25v25h-25z" fill="#f7ba9f"/>
<path d="M1782 996h25v25h-25z" fill="#f7b194"/>
<path d="M1806 996h25v25h-25z" fill="#f7af91"/>
<path d="M1830 996h25v25h-25z" fill="#f7b194"/>
<path d="M1854 996h25v25h-25z" fill="#f7b396"/>
<path d="M366 1020h25v25h-25z" fill="#e3d9d3"/>
<path d="M390 1020h25v25h-25z" fill="#d2dbe8"/>
<path d="M414 1020h25v25h-25z" fill="#adc9fd"/>
<path d="M438 1020h25v25h-25z" fill="#7597f6"/>
<path d="M462 1020h25v25h-25z" fill="#536edd"/>
<path d="M486 1020h25v25h-25z" fill="#445acc"/>
<path d="M510 1020h25v25h-25z" fill="#3f53c6"/>
<path d="M534 1020h25v25h-25z" fill="#3b4cc0"/>
<path d="M558 1020h25v25h-25z" fill="#445acc"/>
<path d="M582 1020h25v25h-25z" fill="#4e68d8"/>
<path d="M606 1020h25v25h-25z" fill="#6485ec"/>
<path d="M630 1020h25v25h-25z" fill="#7ea1fa"/>
<path d="M654 1020h25v25h-25z" fill="#9abbff"/>
<path d="M678 1020h25v25h-25z" fill="#9bbcff"/>
<path d="M702 1020h25v25h-25z" fill="#93b5fe"/>
<path d="M726 1020h25v25h-25z" fill="#88abfd"/>
<path d="M750 1020h25v25h-25z" fill="#799cf8"/>
<path d="M774 1020h25v25h-25z" fill="#6b8df0"/>
<path d="M798 1020h25v25h-25z" fill="#6384eb"/>
<path d="M822 1020h25v25h-25z" fill="#6788ee"/>
<path d="M846 1020h25v25h-25z" fill="#6b8df0"/>
<path d="M870 1020h25v25h-25z" fill="#688aef"/>
<path d="M894 1020h25v25h-25z" fill="#6788ee"/>
<path d="M918 1020h25v25h-25z" fill="#6485ec"/>
<path d="M942 1020h25v25h-25z" fill="#6282ea"/>
<path d="M966 1020h25v25h-25z" fill="#5f7fe8"/>
<path d="M990 1020h25v25h-25z" fill="#5b7ae5"/>
<path d="M1014 1020h97v25h-97z" fill="#5a78e4"/>
<path d="M1110 1020h25v25h-25z" fill="#5673e0"/>
<path d="M1134 1020h25v25h-25z" fill="#5470de"/>
<path d="M1158 1020h25v25h-25z" fill="#516ddb"/>
<path d="M1182 1020h25v25h-25z" fill="#5470de"/>
<path d="M1206 1020h25v25h-25z" fill="#5572df"/>
<path d="M1230 1020h25v25h-25z" fill="#5470de"/>
<path d="M1254 1020h25v25h-25z" fill="#4f69d9"/>
<path d="M1278 1020h25v25h-25z" fill="#4a63d3"/>
<path d="M1302 1020h25v25h-25z" fill="#4e68d8"/>
<path d="M1326 1020h25v25h-25z" fill="#80a3fa"/>
<path d="M1350 1020h25v25h-25z" fill="#85a8fc"/>
<path d="M1374 1020h25v25h-25z" fill="#8db0fe"/>
<path d="M1398 1020h25v25h-25z" fill="#93b5fe"/>
<path d="M1422 1020h25v25h-25z" fill="#97b8ff"/>
<path d="M1446 1020h25v25h-25z" fill="#98b9ff"/>
<path d="M1470 1020h25v25h-25z" fill="#9bbcff"/>
<path d="M1494 1020h25v25h-25z" fill="#a1c0ff"/>
<path d="M1518 1020h25v25h-25z" fill="#a6c4fe"/>
<path d="M1542 1020h25v25h-25z" fill="#aec9fc"/>
<path d="M1566 1020h25v25h-25z" fill="#b5cdfa"/>
<path d="M1590 1020h25v25h-25z" fill="#bed2f6"/>
<path d="M1614 1020h25v25h-25z" fill="#c6d6f1"/>
<path d="M1638 1020h25v25h-25z" fill="#cdd9ec"/>
<path d="M1662 1020h25v25h-25z" fill="#d3dbe7"/>
<path d="M1686 1020h25v25h-25z" fill="#dadce0"/>
<path d="M1710 1020h25v25h-25z" fill="#e2dad5"/>
<path d="M1734 1020h25v25h-25z" fill="#efcfbf"/>
<path d="M1758 1020h25v25h-25z" fill="#f6bfa6"/>
<path d="M1782 1020h25v25h-25z" fill="#f7ba9f"/>
<path d="M1806 1020h73v25h-73z" fill="#f7b99e"/>
<path d="M390 1044h25v25h-25z" fill="#688aef"/>
<path d="M414 1044h25v25h-25z" fill="#5e7de7"/>
<path d="M438 1044h25v25h-25z" fill="#4f69d9"/>
<path d="M462 1044h25v25h-25z" fill="#455cce"/>
<path d="M486 1044h25v25h-25z" fill="#4257c9"/>
<path d="M510 1044h25v25h-25z" fill="#3f53c6"/>
<path d="M534 1044h25v25h-25z" fill="#3b4cc0"/>
<path d="M558 1044h25v25h-25z" fill="#4358cb"/>
<path d="M582 1044h25v25h-25z" fill="#4a63d3"/>
<path d="M606 1044h25v25h-25z" fill="#5f7fe8"/>
<path d="M630 1044h25v25h-25z" fill="#779af7"/>
<path d="M654 1044h25v25h-25z" fill="#96b7ff"/>
<path d="M678 1044h25v25h-25z" fill="#9dbdff"/>
<path d="M702 1044h25v25h-25z" fill="#9bbcff"/>
<path d="M726 1044h25v25h-25z" fill="#93b5fe"/>
<path d="M750 1044h25v25h-25z" fill="#82a6fb"/>
<path d="M774 1044h25v25h-25z" fill="#6e90f2"/>
<path d="M798 1044h25v25h-25z" fill="#6282ea"/>
<path d="M822 1044h25v25h-25z" fill="#6788ee"/>
<path d="M846 1044h25v25h-25z" fill="#6a8bef"/>
<path d="M870 1044h25v25h-25z" fill="#6687ed"/>
<path d="M894 1044h25v25h-25z" fill="#6282ea"/>
<path d="M918 1044h49v25h-49z" fill="#6180e9"/>
<path d="M966 1044h25v25h-25z" fill="#5e7de7"/>
<path d="M990 1044h25v25h-25z" fill="#5a78e4"/>
<path d="M1014 1044h25v25h-25z" fill="#5977e3"/>
<path d="M1038 1044h25v25h-25z" fill="#5a78e4"/>
<path d="M1062 1044h25v25h-25z" fill="#5d7ce6"/>
<path d="M1086 1044h25v25h-25z" fill="#5e7de7"/>
<path d="M1110 1044h25v25h-25z" fill="#5977e3"/>
<path d="M1134 1044h25v25h-25z" fill="#536edd"/>
<path d="M1158 1044h25v25h-25z" fill="#4e68d8"/>
<path d="M1182 1044h25v25h-25z" fill="#516ddb"/>
<path d="M1206 1044h25v25h-25z" fill="#5572df"/>
<path d="M1230 1044h25v25h-25z" fill="#5673e0"/>
<path d="M1254 1044h25v25h-25z" fill="#506bda"/>
<path d="M1278 1044h25v25h-25z" fill="#4b64d5"/>
<path d="M1302 1044h25v25h-25z" fill="#4f69d9"/>
<path d="M1326 1044h25v25h-25z" fill="#89acfd"/>
<path d="M1350 1044h25v25h-25z" fill="#8fb1fe"/>
<path d="M1374 1044h25v25h-25z" fill="#97b8ff"/>
<path d="M1398 1044h25v25h-25z" fill="#9bbcff"/>
<path d="M1422 1044h25v25h-25z" fill="#9dbdff"/>
<path d="M1446 1044h49v25h-49z" fill="#9abbff"/>
<path d="M1494 1044h25v25h-25z" fill="#a1c0ff"/>
<path d="M1518 1044h25v25h-25z" fill="#a6c4fe"/>
<path d="M1542 1044h25v25h-25z" fill="#adc9fd"/>
<path d="M1566 1044h25v25h-25z" fill="#b3cdfb"/>
<path d="M1590 1044h25v25h-25z" fill="#bcd2f7"/>
<path d="M1614 1044h25v25h-25z" fill="#c5d6f2"/>
<path d="M1638 1044h25v25h-25z" fill="#cbd8ee"/>
<path d="M1662 1044h25v25h-25z" fill="#d1dae9"/>
<path d="M1686 1044h25v25h-25z" fill="#d8dce2"/>
<path d="M1710 1044h25v25h-25z" fill="#dfdbd9"/>
<path d="M1734 1044h25v25h-25z" fill="#edd2c3"/>
<path d="M1758 1044h25v25h-25z" fill="#f4c5ad"/>
<path d="M1782 1044h49v25h-49z" fill="#f5c4ac"/>
<path d="M1830 1044h25v25h-25z" fill="#f5c2aa"/>
<path d="M414 1068h25v25h-25z" fill="#4358cb"/>
<path d="M438 1068h25v25h-25z" fill="#4257c9"/>
<path d="M462 1068h49v25h-49z" fill="#4055c8"/>
<path d="M510 1068h25v25h-25z" fill="#3f53c6"/>
<path d="M534 1068h25v25h-25z" fill="#3c4ec2"/>
<path d="M558 1068h25v25h-25z" fill="#4257c9"/>
<path d="M582 1068h25v25h-25z" fill="#485fd1"/>
<path d="M606 1068h25v25h-25z" fill="#5a78e4"/>
<path d="M630 1068h25v25h-25z" fill="#7093f3"/>
<path d="M654 1068h25v25h-25z" fill="#8fb1fe"/>
<path d="M678 1068h25v25h-25z" fill="#9dbdff"/>
<path d="M702 1068h25v25h-25z" fill="#a2c1ff"/>
<path d="M726 1068h25v25h-25z" fill="#9ebeff"/>
<path d="M750 1068h25v25h-25z" fill="#8db0fe"/>
<path d="M774 1068h25v25h-25z" fill="#7699f6"/>
<path d="M798 1068h25v25h-25z" fill="#6687ed"/>
<path d="M822 1068h25v25h-25z" fill="#6a8bef"/>
<path d="M846 1068h25v25h-25z" fill="#6c8ff1"/>
<path d="M870 1068h25v25h-25z" fill="#6788ee"/>
<path d="M894 1068h25v25h-25z" fill="#6282ea"/>
<path d="M918 1068h25v25h-25z" fill="#6180e9"/>
<path d="M942 1068h25v25h-25z" fill="#5f7fe8"/>
<path d="M966 1068h25v25h-25z" fill="#5d7ce6"/>
<path d="M990 1068h25v25h-25z" fill="#5a78e4"/>
<path d="M1014 1068h25v25h-25z" fill="#5977e3"/>
<path d="M1038 1068h25v25h-25z" fill="#5a78e4"/>
<path d="M1062 1068h25v25h-25z" fill="#5d7ce6"/>
<path d="M1086 1068h25v25h-25z" fill="#5f7fe8"/>
<path d="M1110 1068h25v25h-25z" fill="#5977e3"/>
<path d="M1134 1068h25v25h-25z" fill="#536edd"/>
<path d="M1158 1068h25v25h-25z" fill="#4c66d6"/>
<path d="M1182 1068h25v25h-25z" fill="#506bda"/>
<path d="M1206 1068h25v25h-25z" fill="#5572df"/>
<path d="M1230 1068h25v25h-25z" fill="#5875e1"/>
<path d="M1254 1068h25v25h-25z" fill="#516ddb"/>
<path d="M1278 1068h25v25h-25z" fill="#4b64d5"/>
<path d="M1302 1068h25v25h-25z" fill="#4f69d9"/>
<path d="M1326 1068h25v25h-25z" fill="#8caffe"/>
<path d="M1350 1068h25v25h-25z" fill="#93b5fe"/>
<path d="M1374 1068h25v25h-25z" fill="#9bbcff"/>
<path d="M1398 1068h25v25h-25z" fill="#9fbfff"/>
<path d="M1422 1068h25v25h-25z" fill="#a1c0ff"/>
<path d="M1446 1068h25v25h-25z" fill="#9dbdff"/>
<path d="M1470 1068h25v25h-25z" fill="#9bbcff"/>
<path d="M1494 1068h25v25h-25z" fill="#a1c0ff"/>
<path d="M1518 1068h25v25h-25z" fill="#a7c5fe"/>
<path d="M1542 1068h25v25h-25z" fill="#aec9fc"/>
<path d="M1566 1068h25v25h-25z" fill="#b3cdfb"/>
<path d="M1590 1068h25v25h-25z" fill="#bcd2f7"/>
<path d="M1614 1068h25v25h-25z" fill="#c4d5f3"/>
<path d="M1638 1068h25v25h-25z" fill="#cad8ef"/>
<path d="M1662 1068h25v25h-25z" fill="#cedaeb"/>
<path d="M1686 1068h25v25h-25z" fill="#d5dbe5"/>
<path d="M1710 1068h25v25h-25z" fill="#dbdcde"/>
<path d="M1734 1068h25v25h-25z" fill="#e8d6cc"/>
<path d="M1758 1068h49v25h-49z" fill="#f0cdbb"/>
<path d="M1806 1068h25v25h-25z" fill="#f1cdba"/>
<path d="M438 1092h73v25h-73z" fill="#4055c8"/>
<path d="M510 1092h25v25h-25z" fill="#3f53c6"/>
<path d="M534 1092h25v25h-25z" fill="#3d50c3"/>
<path d="M558 1092h25v25h-25z" fill="#4055c8"/>
<path d="M582 1092h25v25h-25z" fill="#455cce"/>
<path d="M606 1092h25v25h-25z" fill="#5673e0"/>
<path d="M630 1092h25v25h-25z" fill="#6a8bef"/>
<path d="M654 1092h25v25h-25z" fill="#88abfd"/>
<path d="M678 1092h25v25h-25z" fill="#9abbff"/>
<path d="M702 1092h25v25h-25z" fill="#a6c4fe"/>
<path d="M726 1092h25v25h-25z" fill="#a9c6fd"/>
<path d="M750 1092h25v25h-25z" fill="#9bbcff"/>
<path d="M774 1092h25v25h-25z" fill="#80a3fa"/>
<path d="M798 1092h25v25h-25z" fill="#6b8df0"/>
<path d="M822 1092h25v25h-25z" fill="#6e90f2"/>
<path d="M846 1092h25v25h-25z" fill="#7295f4"/>
<path d="M870 1092h25v25h-25z" fill="#6a8bef"/>
<path d="M894 1092h25v25h-25z" fill="#6384eb"/>
<path d="M918 1092h25v25h-25z" fill="#6180e9"/>
<path d="M942 1092h25v25h-25z" fill="#5e7de7"/>
<path d="M966 1092h25v25h-25z" fill="#5b7ae5"/>
<path d="M990 1092h49v25h-49z" fill="#5a78e4"/>
<path d="M1038 1092h25v25h-25z" fill="#5b7ae5"/>
<path d="M1062 1092h25v25h-25z" fill="#5e7de7"/>
<path d="M1086 1092h25v25h-25z" fill="#6180e9"/>
<path d="M1110 1092h25v25h-25z" fill="#5a78e4"/>
<path d="M1134 1092h25v25h-25z" fill="#536edd"/>
<path d="M1158 1092h25v25h-25z" fill="#4b64d5"/>
<path d="M1182 1092h25v25h-25z" fill="#506bda"/>
<path d="M1206 1092h25v25h-25z" fill="#5572df"/>
<path d="M1230 1092h25v25h-25z" fill="#5875e1"/>
<path d="M1254 1092h25v25h-25z" fill="#516ddb"/>
<path d="M1278 1092h25v25h-25z" fill="#4a63d3"/>
<path d="M1302 1092h25v25h-25z" fill="#4e68d8"/>
<path d="M1326 1092h25v25h-25z" fill="#8caffe"/>
<path d="M1350 1092h25v25h-25z" fill="#93b5fe"/>
<path d="M1374 1092h25v25h-25z" fill="#9dbdff"/>
<path d="M1398 1092h25v25h-25z" fill="#a2c1ff"/>
<path d="M1422 1092h25v25h-25z" fill="#a5c3fe"/>
<path d="M1446 1092h25v25h-25z" fill="#a1c0ff"/>
<path d="M1470 1092h25v25h-25z" fill="#9dbdff"/>
<path d="M1494 1092h25v25h-25z" fill="#a1c0ff"/>
<path d="M1518 1092h25v25h-25z" fill="#a7c5fe"/>
<path d="M1542 1092h25v25h-25z" fill="#aec9fc"/>
<path d="M1566 1092h25v25h-25z" fill="#b5cdfa"/>
<path d="M1590 1092h25v25h-25z" fill="#bcd2f7"/>
<path d="M1614 1092h25v25h-25z" fill="#c4d5f3"/>
<path d="M1638 1092h25v25h-25z" fill="#c9d7f0"/>
<path d="M1662 1092h25v25h-25z" fill="#cdd9ec"/>
<path d="M1686 1092h25v25h-25z" fill="#d2dbe8"/>
<path d="M1710 1092h25v25h-25z" fill="#d6dce4"/>
<path d="M1734 1092h25v25h-25z" fill="#e0dbd8"/>
<path d="M1758 1092h25v25h-25z" fill="#e8d6cc"/>
<path d="M1782 1092h25v25h-25z" fill="#e9d5cb"/>
<path d="M462 1116h49v25h-49z" fill="#4055c8"/>
<path d="M510 1116h25v25h-25z" fill="#3f53c6"/>
<path d="M534 1116h25v25h-25z" fill="#3e51c5"/>
<path d="M558 1116h25v25h-25z" fill="#4055c8"/>
<path d="M582 1116h25v25h-25z" fill="#445acc"/>
<path d="M606 1116h25v25h-25z" fill="#536edd"/>
<path d="M630 1116h25v25h-25z" fill="#6384eb"/>
<path d="M654 1116h25v25h-25z" fill="#80a3fa"/>
<path d="M678 1116h25v25h-25z" fill="#97b8ff"/>
<path d="M702 1116h25v25h-25z" fill="#aac7fd"/>
<path d="M726 1116h25v25h-25z" fill="#b3cdfb"/>
<path d="M750 1116h25v25h-25z" fill="#a9c6fd"/>
<path d="M774 1116h25v25h-25z" fill="#89acfd"/>
<path d="M798 1116h25v25h-25z" fill="#7093f3"/>
<path d="M822 1116h25v25h-25z" fill="#7396f5"/>
<path d="M846 1116h25v25h-25z" fill="#7699f6"/>
<path d="M870 1116h25v25h-25z" fill="#6e90f2"/>
<path d="M894 1116h25v25h-25z" fill="#6687ed"/>
<path d="M918 1116h25v25h-25z" fill="#6180e9"/>
<path d="M942 1116h25v25h-25z" fill="#5d7ce6"/>
<path d="M966 1116h25v25h-25z" fill="#5a78e4"/>
<path d="M990 1116h25v25h-25z" fill="#5977e3"/>
<path d="M1014 1116h25v25h-25z" fill="#5a78e4"/>
<path d="M1038 1116h25v25h-25z" fill="#5d7ce6"/>
<path d="M1062 1116h25v25h-25z" fill="#5f7fe8"/>
<path d="M1086 1116h25v25h-25z" fill="#6282ea"/>
<path d="M1110 1116h25v25h-25z" fill="#5a78e4"/>
<path d="M1134 1116h25v25h-25z" fill="#536edd"/>
<path d="M1158 1116h25v25h-25z" fill="#4b64d5"/>
<path d="M1182 1116h25v25h-25z" fill="#4f69d9"/>
<path d="M1206 1116h25v25h-25z" fill="#5572df"/>
<path d="M1230 1116h25v25h-25z" fill="#5875e1"/>
<path d="M1254 1116h25v25h-25z" fill="#506bda"/>
<path d="M1278 1116h25v25h-25z" fill="#4a63d3"/>
<path d="M1302 1116h25v25h-25z" fill="#4e68d8"/>
<path d="M1326 1116h25v25h-25z" fill="#8caffe"/>
<path d="M1350 1116h25v25h-25z" fill="#94b6ff"/>
<path d="M1374 1116h25v25h-25z" fill="#9ebeff"/>
<path d="M1398 1116h25v25h-25z" fill="#a5c3fe"/>
<path d="M1422 1116h25v25h-25z" fill="#a7c5fe"/>
<path d="M1446 1116h25v25h-25z" fill="#a3c2fe"/>
<path d="M1470 1116h25v25h-25z" fill="#9fbfff"/>
<path d="M1494 1116h25v25h-25z" fill="#a1c0ff"/>
<path d="M1518 1116h25v25h-25z" fill="#a9c6fd"/>
<path d="M1542 1116h25v25h-25z" fill="#afcafc"/>
<path d="M1566 1116h25v25h-25z" fill="#b6cefa"/>
<path d="M1590 1116h25v25h-25z" fill="#bcd2f7"/>
<path d="M1614 1116h25v25h-25z" fill="#c3d5f4"/>
<path d="M1638 1116h25v25h-25z" fill="#c7d7f0"/>
<path d="M1662 1116h25v25h-25z" fill="#cbd8ee"/>
<path d="M1686 1116h25v25h-25z" fill="#cdd9ec"/>
<path d="M1710 1116h25v25h-25z" fill="#d2dbe8"/>
<path d="M1734 1116h25v25h-25z" fill="#d8dce2"/>
<path d="M1758 1116h25v25h-25z" fill="#dedcdb"/>
<path d="M486 1140h25v25h-25z" fill="#4055c8"/>
<path d="M510 1140h49v25h-49z" fill="#3f53c6"/>
<path d="M558 1140h25v25h-25z" fill="#4055c8"/>
<path d="M582 1140h25v25h-25z" fill="#4257c9"/>
<path d="M606 1140h25v25h-25z" fill="#4f69d9"/>
<path d="M630 1140h25v25h-25z" fill="#5d7ce6"/>
<path d="M654 1140h25v25h-25z" fill="#799cf8"/>
<path d="M678 1140h25v25h-25z" fill="#94b6ff"/>
<path d="M702 1140h25v25h-25z" fill="#aec9fc"/>
<path d="M726 1140h25v25h-25z" fill="#bfd3f6"/>
<path d="M750 1140h25v25h-25z" fill="#b6cefa"/>
<path d="M774 1140h25v25h-25z" fill="#93b5fe"/>
<path d="M798 1140h25v25h-25z" fill="#7699f6"/>
<path d="M822 1140h25v25h-25z" fill="#779af7"/>
<path d="M846 1140h25v25h-25z" fill="#7b9ff9"/>
<path d="M870 1140h25v25h-25z" fill="#7295f4"/>
<path d="M894 1140h25v25h-25z" fill="#6788ee"/>
<path d="M918 1140h25v25h-25z" fill="#6282ea"/>
<path d="M942 1140h25v25h-25z" fill="#5b7ae5"/>
<path d="M966 1140h25v25h-25z" fill="#5a78e4"/>
<path d="M990 1140h25v25h-25z" fill="#5977e3"/>
<path d="M1014 1140h25v25h-25z" fill="#5a78e4"/>
<path d="M1038 1140h25v25h-25z" fill="#5d7ce6"/>
<path d="M1062 1140h25v25h-25z" fill="#5f7fe8"/>
<path d="M1086 1140h25v25h-25z" fill="#6282ea"/>
<path d="M1110 1140h25v25h-25z" fill="#5a78e4"/>
<path d="M1134 1140h25v25h-25z" fill="#536edd"/>
<path d="M1158 1140h25v25h-25z" fill="#4a63d3"/>
<path d="M1182 1140h25v25h-25z" fill="#4f69d9"/>
<path d="M1206 1140h25v25h-25z" fill="#5470de"/>
<path d="M1230 1140h25v25h-25z" fill="#5875e1"/>
<path d="M1254 1140h25v25h-25z" fill="#506bda"/>
<path d="M1278 1140h25v25h-25z" fill="#4961d2"/>
<path d="M1302 1140h25v25h-25z" fill="#4c66d6"/>
<path d="M1326 1140h25v25h-25z" fill="#8caffe"/>
<path d="M1350 1140h25v25h-25z" fill="#94b6ff"/>
<path d="M1374 1140h25v25h-25z" fill="#9fbfff"/>
<path d="M1398 1140h25v25h-25z" fill="#a6c4fe"/>
<path d="M1422 1140h25v25h-25z" fill="#abc8fd"/>
<path d="M1446 1140h25v25h-25z" fill="#a7c5fe"/>
<path d="M1470 1140h25v25h-25z" fill="#a1c0ff"/>
<path d="M1494 1140h25v25h-25z" fill="#a2c1ff"/>
<path d="M1518 1140h25v25h-25z" fill="#a9c6fd"/>
<path d="M1542 1140h25v25h-25z" fill="#b1cbfc"/>
<path d="M1566 1140h25v25h-25z" fill="#b7cff9"/>
<path d="M1590 1140h25v25h-25z" fill="#bcd2f7"/>
<path d="M1614 1140h25v25h-25z" fill="#c3d5f4"/>
<path d="M1638 1140h25v25h-25z" fill="#c6d6f1"/>
<path d="M1662 1140h25v25h-25z" fill="#c9d7f0"/>
<path d="M1686 1140h25v25h-25z" fill="#cad8ef"/>
<path d="M1710 1140h25v25h-25z" fill="#ccd9ed"/>
<path d="M1734 1140h25v25h-25z" fill="#cfdaea"/>
<path d="M1758 1140h25v25h-25z" fill="#d3dbe7"/>
<path d="M486 1164h121v25h-121z" fill="#4055c8"/>
<path d="M606 1164h25v25h-25z" fill="#4a63d3"/>
<path d="M630 1164h25v25h-25z" fill="#5673e0"/>
<path d="M654 1164h25v25h-25z" fill="#7295f4"/>
<path d="M678 1164h25v25h-25z" fill="#92b4fe"/>
<path d="M702 1164h25v25h-25z" fill="#b2ccfb"/>
<path d="M726 1164h25v25h-25z" fill="#c6d6f1"/>
<path d="M750 1164h25v25h-25z" fill="#bfd3f6"/>
<path d="M774 1164h25v25h-25z" fill="#9abbff"/>
<path d="M798 1164h25v25h-25z" fill="#7a9df8"/>
<path d="M822 1164h25v25h-25z" fill="#7da0f9"/>
<path d="M846 1164h25v25h-25z" fill="#81a4fb"/>
<path d="M870 1164h25v25h-25z" fill="#7699f6"/>
<path d="M894 1164h25v25h-25z" fill="#6a8bef"/>
<path d="M918 1164h25v25h-25z" fill="#6282ea"/>
<path d="M942 1164h25v25h-25z" fill="#5a78e4"/>
<path d="M966 1164h49v25h-49z" fill="#5977e3"/>
<path d="M1014 1164h25v25h-25z" fill="#5b7ae5"/>
<path d="M1038 1164h25v25h-25z" fill="#5e7de7"/>
<path d="M1062 1164h25v25h-25z" fill="#6180e9"/>
<path d="M1086 1164h25v25h-25z" fill="#6384eb"/>
<path d="M1110 1164h25v25h-25z" fill="#5a78e4"/>
<path d="M1134 1164h25v25h-25z" fill="#516ddb"/>
<path d="M1158 1164h25v25h-25z" fill="#4a63d3"/>
<path d="M1182 1164h25v25h-25z" fill="#4f69d9"/>
<path d="M1206 1164h25v25h-25z" fill="#5470de"/>
<path d="M1230 1164h25v25h-25z" fill="#5875e1"/>
<path d="M1254 1164h25v25h-25z" fill="#506bda"/>
<path d="M1278 1164h25v25h-25z" fill="#4961d2"/>
<path d="M1302 1164h25v25h-25z" fill="#4c66d6"/>
<path d="M1326 1164h25v25h-25z" fill="#8caffe"/>
<path d="M1350 1164h25v25h-25z" fill="#94b6ff"/>
<path d="M1374 1164h25v25h-25z" fill="#a1c0ff"/>
<path d="M1398 1164h25v25h-25z" fill="#a9c6fd"/>
<path d="M1422 1164h25v25h-25z" fill="#aec9fc"/>
<path d="M1446 1164h25v25h-25z" fill="#a9c6fd"/>
<path d="M1470 1164h49v25h-49z" fill="#a2c1ff"/>
<path d="M1518 1164h25v25h-25z" fill="#aac7fd"/>
<path d="M1542 1164h25v25h-25z" fill="#b2ccfb"/>
<path d="M1566 1164h25v25h-25z" fill="#b7cff9"/>
<path d="M1590 1164h25v25h-25z" fill="#bcd2f7"/>
<path d="M1614 1164h25v25h-25z" fill="#c1d4f4"/>
<path d="M1638 1164h25v25h-25z" fill="#c5d6f2"/>
<path d="M1662 1164h49v25h-49z" fill="#c6d6f1"/>
<path d="M1710 1164h49v25h-49z" fill="#c7d7f0"/>
<path d="M510 1188h97v25h-97z" fill="#4257c9"/>
<path d="M606 1188h25v25h-25z" fill="#485fd1"/>
<path d="M630 1188h25v25h-25z" fill="#5470de"/>
<path d="M654 1188h25v25h-25z" fill="#6e90f2"/>
<path d="M678 1188h25v25h-25z" fill="#8fb1fe"/>
<path d="M702 1188h25v25h-25z" fill="#b5cdfa"/>
<path d="M726 1188h25v25h-25z" fill="#c9d7f0"/>
<path d="M750 1188h25v25h-25z" fill="#bcd2f7"/>
<path d="M774 1188h25v25h-25z" fill="#97b8ff"/>
<path d="M798 1188h25v25h-25z" fill="#7a9df8"/>
<path d="M822 1188h25v25h-25z" fill="#81a4fb"/>
<path d="M846 1188h25v25h-25z" fill="#89acfd"/>
<path d="M870 1188h25v25h-25z" fill="#7a9df8"/>
<path d="M894 1188h25v25h-25z" fill="#6a8bef"/>
<path d="M918 1188h25v25h-25z" fill="#6282ea"/>
<path d="M942 1188h25v25h-25z" fill="#5a78e4"/>
<path d="M966 1188h49v25h-49z" fill="#5977e3"/>
<path d="M1014 1188h25v25h-25z" fill="#5b7ae5"/>
<path d="M1038 1188h25v25h-25z" fill="#5f7fe8"/>
<path d="M1062 1188h25v25h-25z" fill="#6180e9"/>
<path d="M1086 1188h25v25h-25z" fill="#6384eb"/>
<path d="M1110 1188h25v25h-25z" fill="#5a78e4"/>
<path d="M1134 1188h25v25h-25z" fill="#516ddb"/>
<path d="M1158 1188h25v25h-25z" fill="#4a63d3"/>
<path d="M1182 1188h25v25h-25z" fill="#4f69d9"/>
<path d="M1206 1188h25v25h-25z" fill="#5470de"/>
<path d="M1230 1188h25v25h-25z" fill="#5875e1"/>
<path d="M1254 1188h25v25h-25z" fill="#506bda"/>
<path d="M1278 1188h25v25h-25z" fill="#4961d2"/>
<path d="M1302 1188h25v25h-25z" fill="#4b64d5"/>
<path d="M1326 1188h25v25h-25z" fill="#8caffe"/>
<path d="M1350 1188h25v25h-25z" fill="#96b7ff"/>
<path d="M1374 1188h25v25h-25z" fill="#a2c1ff"/>
<path d="M1398 1188h25v25h-25z" fill="#abc8fd"/>
<path d="M1422 1188h25v25h-25z" fill="#b1cbfc"/>
<path d="M1446 1188h25v25h-25z" fill="#aac7fd"/>
<path d="M1470 1188h25v25h-25z" fill="#a5c3fe"/>
<path d="M1494 1188h25v25h-25z" fill="#a6c4fe"/>
<path d="M1518 1188h25v25h-25z" fill="#adc9fd"/>
<path d="M1542 1188h25v25h-25z" fill="#b3cdfb"/>
<path d="M1566 1188h25v25h-25z" fill="#b9d0f9"/>
<path d="M1590 1188h25v25h-25z" fill="#bbd1f8"/>
<path d="M1614 1188h25v25h-25z" fill="#bfd3f6"/>
<path d="M1638 1188h25v25h-25z" fill="#c0d4f5"/>
<path d="M1662 1188h73v25h-73z" fill="#c1d4f4"/>
<path d="M510 1212h97v25h-97z" fill="#4358cb"/>
<path d="M606 1212h25v25h-25z" fill="#445acc"/>
<path d="M630 1212h25v25h-25z" fill="#506bda"/>
<path d="M654 1212h25v25h-25z" fill="#6b8df0"/>
<path d="M678 1212h25v25h-25z" fill="#8caffe"/>
<path d="M702 1212h25v25h-25z" fill="#b7cff9"/>
<path d="M726 1212h25v25h-25z" fill="#c9d7f0"/>
<path d="M750 1212h25v25h-25z" fill="#b6cefa"/>
<path d="M774 1212h25v25h-25z" fill="#90b2fe"/>
<path d="M798 1212h25v25h-25z" fill="#799cf8"/>
<path d="M822 1212h25v25h-25z" fill="#85a8fc"/>
<path d="M846 1212h25v25h-25z" fill="#90b2fe"/>
<path d="M870 1212h25v25h-25z" fill="#7ea1fa"/>
<path d="M894 1212h25v25h-25z" fill="#6a8bef"/>
<path d="M918 1212h25v25h-25z" fill="#6282ea"/>
<path d="M942 1212h25v25h-25z" fill="#5a78e4"/>
<path d="M966 1212h49v25h-49z" fill="#5977e3"/>
<path d="M1014 1212h25v25h-25z" fill="#5d7ce6"/>
<path d="M1038 1212h25v25h-25z" fill="#5f7fe8"/>
<path d="M1062 1212h25v25h-25z" fill="#6282ea"/>
<path d="M1086 1212h25v25h-25z" fill="#6384eb"/>
<path d="M1110 1212h25v25h-25z" fill="#5a78e4"/>
<path d="M1134 1212h25v25h-25z" fill="#516ddb"/>
<path d="M1158 1212h25v25h-25z" fill="#4961d2"/>
<path d="M1182 1212h25v25h-25z" fill="#4f69d9"/>
<path d="M1206 1212h25v25h-25z" fill="#5470de"/>
<path d="M1230 1212h25v25h-25z" fill="#5875e1"/>
<path d="M1254 1212h25v25h-25z" fill="#506bda"/>
<path d="M1278 1212h25v25h-25z" fill="#4961d2"/>
<path d="M1302 1212h25v25h-25z" fill="#4b64d5"/>
<path d="M1326 1212h25v25h-25z" fill="#8caffe"/>
<path d="M1350 1212h25v25h-25z" fill="#96b7ff"/>
<path d="M1374 1212h25v25h-25z" fill="#a3c2fe"/>
<path d="M1398 1212h25v25h-25z" fill="#aec9fc"/>
<path d="M1422 1212h25v25h-25z" fill="#b2ccfb"/>
<path d="M1446 1212h25v25h-25z" fill="#abc8fd"/>
<path d="M1470 1212h25v25h-25z" fill="#a6c4fe"/>
<path d="M1494 1212h25v25h-25z" fill="#aac7fd"/>
<path d="M1518 1212h25v25h-25z" fill="#afcafc"/>
<path d="M1542 1212h25v25h-25z" fill="#b3cdfb"/>
<path d="M1566 1212h25v25h-25z" fill="#b9d0f9"/>
<path d="M1590 1212h25v25h-25z" fill="#bad0f8"/>
<path d="M1614 1212h49v25h-49z" fill="#bbd1f8"/>
<path d="M1662 1212h49v25h-49z" fill="#bcd2f7"/>
<path d="M510 1236h121v25h-121z" fill="#4358cb"/>
<path d="M630 1236h25v25h-25z" fill="#4e68d8"/>
<path d="M654 1236h25v25h-25z" fill="#6788ee"/>
<path d="M678 1236h25v25h-25z" fill="#88abfd"/>
<path d="M702 1236h25v25h-25z" fill="#b3cdfb"/>
<path d="M726 1236h25v25h-25z" fill="#c1d4f4"/>
<path d="M750 1236h25v25h-25z" fill="#abc8fd"/>
<path d="M774 1236h25v25h-25z" fill="#89acfd"/>
<path d="M798 1236h25v25h-25z" fill="#7699f6"/>
<path d="M822 1236h25v25h-25z" fill="#86a9fc"/>
<path d="M846 1236h25v25h-25z" fill="#94b6ff"/>
<path d="M870 1236h25v25h-25z" fill="#84a7fc"/>
<path d="M894 1236h25v25h-25z" fill="#6a8bef"/>
<path d="M918 1236h25v25h-25z" fill="#6282ea"/>
<path d="M942 1236h25v25h-25z" fill="#5a78e4"/>
<path d="M966 1236h49v25h-49z" fill="#5977e3"/>
<path d="M1014 1236h25v25h-25z" fill="#5d7ce6"/>
<path d="M1038 1236h25v25h-25z" fill="#6180e9"/>
<path d="M1062 1236h25v25h-25z" fill="#6384eb"/>
<path d="M1086 1236h25v25h-25z" fill="#6485ec"/>
<path d="M1110 1236h25v25h-25z" fill="#5b7ae5"/>
<path d="M1134 1236h25v25h-25z" fill="#516ddb"/>
<path d="M1158 1236h25v25h-25z" fill="#4961d2"/>
<path d="M1182 1236h25v25h-25z" fill="#4e68d8"/>
<path d="M1206 1236h25v25h-25z" fill="#5470de"/>
<path d="M1230 1236h25v25h-25z" fill="#5875e1"/>
<path d="M1254 1236h25v25h-25z" fill="#506bda"/>
<path d="M1278 1236h25v25h-25z" fill="#485fd1"/>
<path d="M1302 1236h25v25h-25z" fill="#4b64d5"/>
<path d="M1326 1236h25v25h-25z" fill="#8caffe"/>
<path d="M1350 1236h25v25h-25z" fill="#96b7ff"/>
<path d="M1374 1236h25v25h-25z" fill="#a3c2fe"/>
<path d="M1398 1236h25v25h-25z" fill="#b2ccfb"/>
<path d="M1422 1236h25v25h-25z" fill="#b6cefa"/>
<path d="M1446 1236h25v25h-25z" fill="#afcafc"/>
<path d="M1470 1236h25v25h-25z" fill="#abc8fd"/>
<path d="M1494 1236h25v25h-25z" fill="#adc9fd"/>
<path d="M1518 1236h25v25h-25z" fill="#afcafc"/>
<path d="M1542 1236h25v25h-25z" fill="#b3cdfb"/>
<path d="M1566 1236h97v25h-97z" fill="#b6cefa"/>
<path d="M510 1260h121v25h-121z" fill="#4358cb"/>
<path d="M630 1260h25v25h-25z" fill="#4a63d3"/>
<path d="M654 1260h25v25h-25z" fill="#6384eb"/>
<path d="M678 1260h25v25h-25z" fill="#84a7fc"/>
<path d="M702 1260h25v25h-25z" fill="#abc8fd"/>
<path d="M726 1260h25v25h-25z" fill="#b5cdfa"/>
<path d="M750 1260h25v25h-25z" fill="#9dbdff"/>
<path d="M774 1260h25v25h-25z" fill="#80a3fa"/>
<path d="M798 1260h25v25h-25z" fill="#7295f4"/>
<path d="M822 1260h25v25h-25z" fill="#85a8fc"/>
<path d="M846 1260h25v25h-25z" fill="#94b6ff"/>
<path d="M870 1260h25v25h-25z" fill="#86a9fc"/>
<path d="M894 1260h25v25h-25z" fill="#6a8bef"/>
<path d="M918 1260h25v25h-25z" fill="#6282ea"/>
<path d="M942 1260h25v25h-25z" fill="#5a78e4"/>
<path d="M966 1260h49v25h-49z" fill="#5977e3"/>
<path d="M1014 1260h25v25h-25z" fill="#5d7ce6"/>
<path d="M1038 1260h25v25h-25z" fill="#6180e9"/>
<path d="M1062 1260h25v25h-25z" fill="#6485ec"/>
<path d="M1086 1260h25v25h-25z" fill="#6788ee"/>
<path d="M1110 1260h25v25h-25z" fill="#5d7ce6"/>
<path d="M1134 1260h25v25h-25z" fill="#516ddb"/>
<path d="M1158 1260h25v25h-25z" fill="#485fd1"/>
<path d="M1182 1260h25v25h-25z" fill="#4e68d8"/>
<path d="M1206 1260h25v25h-25z" fill="#5470de"/>
<path d="M1230 1260h25v25h-25z" fill="#5875e1"/>
<path d="M1254 1260h25v25h-25z" fill="#4f69d9"/>
<path d="M1278 1260h25v25h-25z" fill="#465ecf"/>
<path d="M1302 1260h25v25h-25z" fill="#4a63d3"/>
<path d="M1326 1260h25v25h-25z" fill="#8caffe"/>
<path d="M1350 1260h25v25h-25z" fill="#94b6ff"/>
<path d="M1374 1260h25v25h-25z" fill="#a2c1ff"/>
<path d="M1398 1260h25v25h-25z" fill="#b3cdfb"/>
<path d="M1422 1260h25v25h-25z" fill="#bad0f8"/>
<path d="M1446 1260h25v25h-25z" fill="#b3cdfb"/>
<path d="M1470 1260h25v25h-25z" fill="#b1cbfc"/>
<path d="M1494 1260h49v25h-49z" fill="#afcafc"/>
<path d="M1542 1260h25v25h-25z" fill="#b1cbfc"/>
<path d="M1566 1260h25v25h-25z" fill="#b2ccfb"/>
<path d="M1590 1260h49v25h-49z" fill="#b1cbfc"/>
<path d="M510 1284h121v25h-121z" fill="#4358cb"/>
<path d="M630 1284h25v25h-25z" fill="#485fd1"/>
<path d="M654 1284h25v25h-25z" fill="#5e7de7"/>
<path d="M678 1284h25v25h-25z" fill="#7da0f9"/>
<path d="M702 1284h25v25h-25z" fill="#a2c1ff"/>
<path d="M726 1284h25v25h-25z" fill="#a6c4fe"/>
<path d="M750 1284h25v25h-25z" fill="#8fb1fe"/>
<path d="M774 1284h25v25h-25z" fill="#779af7"/>
<path d="M798 1284h25v25h-25z" fill="#6c8ff1"/>
<path d="M822 1284h25v25h-25z" fill="#81a4fb"/>
<path d="M846 1284h25v25h-25z" fill="#90b2fe"/>
<path d="M870 1284h25v25h-25z" fill="#85a8fc"/>
<path d="M894 1284h25v25h-25z" fill="#688aef"/>
<path d="M918 1284h25v25h-25z" fill="#6180e9"/>
<path d="M942 1284h25v25h-25z" fill="#5a78e4"/>
<path d="M966 1284h25v25h-25z" fill="#5977e3"/>
<path d="M990 1284h25v25h-25z" fill="#5a78e4"/>
<path d="M1014 1284h25v25h-25z" fill="#5b7ae5"/>
<path d="M1038 1284h25v25h-25z" fill="#6180e9"/>
<path d="M1062 1284h25v25h-25z" fill="#6485ec"/>
<path d="M1086 1284h25v25h-25z" fill="#688aef"/>
<path d="M1110 1284h25v25h-25z" fill="#5e7de7"/>
<path d="M1134 1284h25v25h-25z" fill="#516ddb"/>
<path d="M1158 1284h25v25h-25z" fill="#465ecf"/>
<path d="M1182 1284h25v25h-25z" fill="#4c66d6"/>
<path d="M1206 1284h25v25h-25z" fill="#536edd"/>
<path d="M1230 1284h25v25h-25z" fill="#5673e0"/>
<path d="M1254 1284h25v25h-25z" fill="#4e68d8"/>
<path d="M1278 1284h25v25h-25z" fill="#455cce"/>
<path d="M1302 1284h25v25h-25z" fill="#4961d2"/>
<path d="M1326 1284h25v25h-25z" fill="#88abfd"/>
<path d="M1350 1284h25v25h-25z" fill="#92b4fe"/>
<path d="M1374 1284h25v25h-25z" fill="#a1c0ff"/>
<path d="M1398 1284h25v25h-25z" fill="#b2ccfb"/>
<path d="M1422 1284h25v25h-25z" fill="#b9d0f9"/>
<path d="M1446 1284h25v25h-25z" fill="#b3cdfb"/>
<path d="M1470 1284h25v25h-25z" fill="#b1cbfc"/>
<path d="M1494 1284h25v25h-25z" fill="#aec9fc"/>
<path d="M1518 1284h73v25h-73z" fill="#adc9fd"/>
<path d="M1590 1284h25v25h-25z" fill="#abc8fd"/>
<path d="M510 1308h121v25h-121z" fill="#4257c9"/>
<path d="M630 1308h25v25h-25z" fill="#455cce"/>
<path d="M654 1308h25v25h-25z" fill="#5a78e4"/>
<path d="M678 1308h25v25h-25z" fill="#7396f5"/>
<path d="M702 1308h25v25h-25z" fill="#94b6ff"/>
<path d="M726 1308h25v25h-25z" fill="#96b7ff"/>
<path d="M750 1308h25v25h-25z" fill="#80a3fa"/>
<path d="M774 1308h25v25h-25z" fill="#6c8ff1"/>
<path d="M798 1308h25v25h-25z" fill="#6687ed"/>
<path d="M822 1308h25v25h-25z" fill="#779af7"/>
<path d="M846 1308h25v25h-25z" fill="#86a9fc"/>
<path d="M870 1308h25v25h-25z" fill="#7da0f9"/>
<path d="M894 1308h25v25h-25z" fill="#6485ec"/>
<path d="M918 1308h25v25h-25z" fill="#5f7fe8"/>
<path d="M942 1308h73v25h-73z" fill="#5a78e4"/>
<path d="M1014 1308h25v25h-25z" fill="#5b7ae5"/>
<path d="M1038 1308h25v25h-25z" fill="#5e7de7"/>
<path d="M1062 1308h25v25h-25z" fill="#6384eb"/>
<path d="M1086 1308h25v25h-25z" fill="#688aef"/>
<path d="M1110 1308h25v25h-25z" fill="#5d7ce6"/>
<path d="M1134 1308h25v25h-25z" fill="#516ddb"/>
<path d="M1158 1308h25v25h-25z" fill="#465ecf"/>
<path d="M1182 1308h25v25h-25z" fill="#4b64d5"/>
<path d="M1206 1308h25v25h-25z" fill="#506bda"/>
<path d="M1230 1308h25v25h-25z" fill="#5470de"/>
<path d="M1254 1308h25v25h-25z" fill="#4c66d6"/>
<path d="M1278 1308h25v25h-25z" fill="#455cce"/>
<path d="M1302 1308h25v25h-25z" fill="#485fd1"/>
<path d="M1326 1308h25v25h-25z" fill="#7ea1fa"/>
<path d="M1350 1308h25v25h-25z" fill="#8db0fe"/>
<path d="M1374 1308h25v25h-25z" fill="#9dbdff"/>
<path d="M1398 1308h25v25h-25z" fill="#aac7fd"/>
<path d="M1422 1308h25v25h-25z" fill="#b1cbfc"/>
<path d="M1446 1308h25v25h-25z" fill="#adc9fd"/>
<path d="M1470 1308h25v25h-25z" fill="#aac7fd"/>
<path d="M1494 1308h25v25h-25z" fill="#a9c6fd"/>
<path d="M1518 1308h73v25h-73z" fill="#a6c4fe"/>
<path d="M510 1332h121v25h-121z" fill="#4257c9"/>
<path d="M630 1332h25v25h-25z" fill="#445acc"/>
<path d="M654 1332h25v25h-25z" fill="#5572df"/>
<path d="M678 1332h25v25h-25z" fill="#6a8bef"/>
<path d="M702 1332h49v25h-49z" fill="#85a8fc"/>
<path d="M750 1332h25v25h-25z" fill="#7295f4"/>
<path d="M774 1332h25v25h-25z" fill="#6384eb"/>
<path d="M798 1332h25v25h-25z" fill="#5e7de7"/>
<path d="M822 1332h25v25h-25z" fill="#6e90f2"/>
<path d="M846 1332h25v25h-25z" fill="#7a9df8"/>
<path d="M870 1332h25v25h-25z" fill="#7396f5"/>
<path d="M894 1332h25v25h-25z" fill="#6282ea"/>
<path d="M918 1332h25v25h-25z" fill="#5e7de7"/>
<path d="M942 1332h49v25h-49z" fill="#5a78e4"/>
<path d="M990 1332h25v25h-25z" fill="#5b7ae5"/>
<path d="M1014 1332h49v25h-49z" fill="#5a78e4"/>
<path d="M1062 1332h25v25h-25z" fill="#6180e9"/>
<path d="M1086 1332h25v25h-25z" fill="#6788ee"/>
<path d="M1110 1332h25v25h-25z" fill="#5d7ce6"/>
<path d="M1134 1332h25v25h-25z" fill="#516ddb"/>
<path d="M1158 1332h25v25h-25z" fill="#465ecf"/>
<path d="M1182 1332h25v25h-25z" fill="#4a63d3"/>
<path d="M1206 1332h25v25h-25z" fill="#4f69d9"/>
<path d="M1230 1332h25v25h-25z" fill="#516ddb"/>
<path d="M1254 1332h25v25h-25z" fill="#4b64d5"/>
<path d="M1278 1332h25v25h-25z" fill="#455cce"/>
<path d="M1302 1332h25v25h-25z" fill="#485fd1"/>
<path d="M1326 1332h25v25h-25z" fill="#7295f4"/>
<path d="M1350 1332h25v25h-25z" fill="#86a9fc"/>
<path d="M1374 1332h25v25h-25z" fill="#97b8ff"/>
<path d="M1398 1332h25v25h-25z" fill="#a2c1ff"/>
<path d="M1422 1332h25v25h-25z" fill="#a6c4fe"/>
<path d="M1446 1332h25v25h-25z" fill="#a3c2fe"/>
<path d="M1470 1332h25v25h-25z" fill="#a2c1ff"/>
<path d="M1494 1332h25v25h-25z" fill="#a1c0ff"/>
<path d="M1518 1332h49v25h-49z" fill="#9fbfff"/>
<path d="M510 1356h121v25h-121z" fill="#4055c8"/>
<path d="M630 1356h25v25h-25z" fill="#4358cb"/>
<path d="M654 1356h25v25h-25z" fill="#506bda"/>
<path d="M678 1356h25v25h-25z" fill="#6180e9"/>
<path d="M702 1356h25v25h-25z" fill="#7699f6"/>
<path d="M726 1356h25v25h-25z" fill="#7597f6"/>
<path d="M750 1356h25v25h-25z" fill="#6384eb"/>
<path d="M774 1356h25v25h-25z" fill="#5977e3"/>
<path d="M798 1356h25v25h-25z" fill="#5673e0"/>
<path d="M822 1356h25v25h-25z" fill="#6485ec"/>
<path d="M846 1356h25v25h-25z" fill="#6f92f3"/>
<path d="M870 1356h25v25h-25z" fill="#6a8bef"/>
<path d="M894 1356h25v25h-25z" fill="#5e7de7"/>
<path d="M918 1356h25v25h-25z" fill="#5b7ae5"/>
<path d="M942 1356h25v25h-25z" fill="#5977e3"/>
<path d="M966 1356h25v25h-25z" fill="#5b7ae5"/>
<path d="M990 1356h25v25h-25z" fill="#5d7ce6"/>
<path d="M1014 1356h25v25h-25z" fill="#5977e3"/>
<path d="M1038 1356h25v25h-25z" fill="#5875e1"/>
<path d="M1062 1356h25v25h-25z" fill="#5f7fe8"/>
<path d="M1086 1356h25v25h-25z" fill="#6788ee"/>
<path d="M1110 1356h25v25h-25z" fill="#5d7ce6"/>
<path d="M1134 1356h25v25h-25z" fill="#516ddb"/>
<path d="M1158 1356h25v25h-25z" fill="#465ecf"/>
<path d="M1182 1356h25v25h-25z" fill="#4a63d3"/>
<path d="M1206 1356h25v25h-25z" fill="#4c66d6"/>
<path d="M1230 1356h25v25h-25z" fill="#4f69d9"/>
<path d="M1254 1356h25v25h-25z" fill="#4a63d3"/>
<path d="M1278 1356h25v25h-25z" fill="#455cce"/>
<path d="M1302 1356h25v25h-25z" fill="#465ecf"/>
<path d="M1326 1356h25v25h-25z" fill="#6788ee"/>
<path d="M1350 1356h25v25h-25z" fill="#81a4fb"/>
<path d="M1374 1356h25v25h-25z" fill="#93b5fe"/>
<path d="M1398 1356h25v25h-25z" fill="#9abbff"/>
<path d="M1422 1356h25v25h-25z" fill="#9dbdff"/>
<path d="M1446 1356h25v25h-25z" fill="#9bbcff"/>
<path d="M1470 1356h49v25h-49z" fill="#9abbff"/>
<path d="M510 1380h97v25h-97z" fill="#4055c8"/>
<path d="M606 1380h49v25h-49z" fill="#4257c9"/>
<path d="M654 1380h25v25h-25z" fill="#4b64d5"/>
<path d="M678 1380h25v25h-25z" fill="#5977e3"/>
<path d="M702 1380h25v25h-25z" fill="#6a8bef"/>
<path d="M726 1380h25v25h-25z" fill="#6687ed"/>
<path d="M750 1380h25v25h-25z" fill="#5875e1"/>
<path d="M774 1380h49v25h-49z" fill="#506bda"/>
<path d="M822 1380h25v25h-25z" fill="#5b7ae5"/>
<path d="M846 1380h25v25h-25z" fill="#6485ec"/>
<path d="M870 1380h25v25h-25z" fill="#6180e9"/>
<path d="M894 1380h49v25h-49z" fill="#5a78e4"/>
<path d="M942 1380h25v25h-25z" fill="#5977e3"/>
<path d="M966 1380h25v25h-25z" fill="#5b7ae5"/>
<path d="M990 1380h25v25h-25z" fill="#5e7de7"/>
<path d="M1014 1380h25v25h-25z" fill="#5673e0"/>
<path d="M1038 1380h25v25h-25z" fill="#5572df"/>
<path d="M1062 1380h25v25h-25z" fill="#5d7ce6"/>
<path d="M1086 1380h25v25h-25z" fill="#6687ed"/>
<path d="M1110 1380h25v25h-25z" fill="#5b7ae5"/>
<path d="M1134 1380h25v25h-25z" fill="#516ddb"/>
<path d="M1158 1380h25v25h-25z" fill="#465ecf"/>
<path d="M1182 1380h25v25h-25z" fill="#4961d2"/>
<path d="M1206 1380h25v25h-25z" fill="#4b64d5"/>
<path d="M1230 1380h25v25h-25z" fill="#4c66d6"/>
<path d="M1254 1380h25v25h-25z" fill="#4961d2"/>
<path d="M1278 1380h49v25h-49z" fill="#455cce"/>
<path d="M1326 1380h25v25h-25z" fill="#5e7de7"/>
<path d="M1350 1380h25v25h-25z" fill="#7b9ff9"/>
<path d="M1374 1380h25v25h-25z" fill="#8db0fe"/>
<path d="M1398 1380h25v25h-25z" fill="#90b2fe"/>
<path d="M1422 1380h73v25h-73z" fill="#92b4fe"/>
<path d="M510 1404h97v25h-97z" fill="#445acc"/>
<path d="M606 1404h49v25h-49z" fill="#465ecf"/>
<path d="M654 1404h25v25h-25z" fill="#4b64d5"/>
<path d="M678 1404h25v25h-25z" fill="#5673e0"/>
<path d="M702 1404h25v25h-25z" fill="#6384eb"/>
<path d="M726 1404h25v25h-25z" fill="#5f7fe8"/>
<path d="M750 1404h25v25h-25z" fill="#516ddb"/>
<path d="M774 1404h25v25h-25z" fill="#4b64d5"/>
<path d="M798 1404h25v25h-25z" fill="#4c66d6"/>
<path d="M822 1404h25v25h-25z" fill="#5673e0"/>
<path d="M846 1404h25v25h-25z" fill="#5f7fe8"/>
<path d="M870 1404h25v25h-25z" fill="#5b7ae5"/>
<path d="M894 1404h73v25h-73z" fill="#5673e0"/>
<path d="M966 1404h25v25h-25z" fill="#5977e3"/>
<path d="M990 1404h25v25h-25z" fill="#5a78e4"/>
<path d="M1014 1404h25v25h-25z" fill="#5470de"/>
<path d="M1038 1404h25v25h-25z" fill="#516ddb"/>
<path d="M1062 1404h25v25h-25z" fill="#5a78e4"/>
<path d="M1086 1404h25v25h-25z" fill="#6384eb"/>
<path d="M1110 1404h25v25h-25z" fill="#5a78e4"/>
<path d="M1134 1404h25v25h-25z" fill="#516ddb"/>
<path d="M1158 1404h25v25h-25z" fill="#4961d2"/>
<path d="M1182 1404h25v25h-25z" fill="#4a63d3"/>
<path d="M1206 1404h25v25h-25z" fill="#4b64d5"/>
<path d="M1230 1404h25v25h-25z" fill="#4c66d6"/>
<path d="M1254 1404h25v25h-25z" fill="#4a63d3"/>
<path d="M1278 1404h49v25h-49z" fill="#465ecf"/>
<path d="M1326 1404h25v25h-25z" fill="#5977e3"/>
<path d="M1350 1404h25v25h-25z" fill="#7597f6"/>
<path d="M1374 1404h49v25h-49z" fill="#85a8fc"/>
<path d="M1422 1404h49v25h-49z" fill="#86a9fc"/>
<path d="M510 1428h97v25h-97z" fill="#4a63d3"/>
<path d="M606 1428h25v25h-25z" fill="#506bda"/>
<path d="M630 1428h49v25h-49z" fill="#4e68d8"/>
<path d="M678 1428h25v25h-25z" fill="#5673e0"/>
<path d="M702 1428h25v25h-25z" fill="#6384eb"/>
<path d="M726 1428h25v25h-25z" fill="#5f7fe8"/>
<path d="M750 1428h25v25h-25z" fill="#506bda"/>
<path d="M774 1428h25v25h-25z" fill="#4961d2"/>
<path d="M798 1428h25v25h-25z" fill="#4a63d3"/>
<path d="M822 1428h25v25h-25z" fill="#5470de"/>
<path d="M846 1428h25v25h-25z" fill="#5d7ce6"/>
<path d="M870 1428h25v25h-25z" fill="#5875e1"/>
<path d="M894 1428h97v25h-97z" fill="#5470de"/>
<path d="M990 1428h25v25h-25z" fill="#5572df"/>
<path d="M1014 1428h25v25h-25z" fill="#506bda"/>
<path d="M1038 1428h25v25h-25z" fill="#4f69d9"/>
<path d="M1062 1428h25v25h-25z" fill="#5673e0"/>
<path d="M1086 1428h25v25h-25z" fill="#5e7de7"/>
<path d="M1110 1428h25v25h-25z" fill="#5977e3"/>
<path d="M1134 1428h25v25h-25z" fill="#516ddb"/>
<path d="M1158 1428h25v25h-25z" fill="#4a63d3"/>
<path d="M1182 1428h25v25h-25z" fill="#4b64d5"/>
<path d="M1206 1428h49v25h-49z" fill="#4e68d8"/>
<path d="M1254 1428h25v25h-25z" fill="#4b64d5"/>
<path d="M1278 1428h25v25h-25z" fill="#4961d2"/>
<path d="M1302 1428h25v25h-25z" fill="#4a63d3"/>
<path d="M1326 1428h25v25h-25z" fill="#5875e1"/>
<path d="M1350 1428h25v25h-25z" fill="#6c8ff1"/>
<path d="M1374 1428h25v25h-25z" fill="#799cf8"/>
<path d="M510 1452h97v25h-97z" fill="#516ddb"/>
<path d="M606 1452h25v25h-25z" fill="#5a78e4"/>
<path d="M630 1452h25v25h-25z" fill="#5875e1"/>
<path d="M654 1452h25v25h-25z" fill="#516ddb"/>
<path d="M678 1452h25v25h-25z" fill="#5875e1"/>
<path d="M702 1452h25v25h-25z" fill="#6485ec"/>
<path d="M726 1452h25v25h-25z" fill="#5f7fe8"/>
<path d="M750 1452h25v25h-25z" fill="#506bda"/>
<path d="M774 1452h25v25h-25z" fill="#485fd1"/>
<path d="M798 1452h25v25h-25z" fill="#4961d2"/>
<path d="M822 1452h25v25h-25z" fill="#536edd"/>
<path d="M846 1452h25v25h-25z" fill="#5b7ae5"/>
<path d="M870 1452h25v25h-25z" fill="#5572df"/>
<path d="M894 1452h121v25h-121z" fill="#506bda"/>
<path d="M1014 1452h49v25h-49z" fill="#4c66d6"/>
<path d="M1062 1452h25v25h-25z" fill="#536edd"/>
<path d="M1086 1452h25v25h-25z" fill="#5a78e4"/>
<path d="M1110 1452h25v25h-25z" fill="#5673e0"/>
<path d="M1134 1452h25v25h-25z" fill="#516ddb"/>
<path d="M1158 1452h49v25h-49z" fill="#4e68d8"/>
<path d="M1206 1452h25v25h-25z" fill="#4f69d9"/>
<path d="M1230 1452h25v25h-25z" fill="#506bda"/>
<path d="M1254 1452h25v25h-25z" fill="#4e68d8"/>
<path d="M1278 1452h49v25h-49z" fill="#4c66d6"/>
<path d="M1326 1452h25v25h-25z" fill="#5673e0"/>
<path d="M1350 1452h25v25h-25z" fill="#6485ec"/>
<path d="M510 1476h97v25h-97z" fill="#5875e1"/>
<path d="M606 1476h25v25h-25z" fill="#6485ec"/>
<path d="M630 1476h25v25h-25z" fill="#6180e9"/>
<path d="M654 1476h25v25h-25z" fill="#5572df"/>
<path d="M678 1476h25v25h-25z" fill="#5977e3"/>
<path d="M702 1476h25v25h-25z" fill="#6485ec"/>
<path d="M726 1476h25v25h-25z" fill="#6180e9"/>
<path d="M750 1476h25v25h-25z" fill="#506bda"/>
<path d="M774 1476h25v25h-25z" fill="#455cce"/>
<path d="M798 1476h25v25h-25z" fill="#485fd1"/>
<path d="M822 1476h25v25h-25z" fill="#516ddb"/>
<path d="M846 1476h25v25h-25z" fill="#5977e3"/>
<path d="M870 1476h25v25h-25z" fill="#536edd"/>
<path d="M894 1476h73v25h-73z" fill="#4c66d6"/>
<path d="M966 1476h25v25h-25z" fill="#4b64d5"/>
<path d="M990 1476h25v25h-25z" fill="#4a63d3"/>
<path d="M1014 1476h25v25h-25z" fill="#4961d2"/>
<path d="M1038 1476h25v25h-25z" fill="#4a63d3"/>
<path d="M1062 1476h25v25h-25z" fill="#4f69d9"/>
<path d="M1086 1476h49v25h-49z" fill="#5572df"/>
<path d="M1134 1476h25v25h-25z" fill="#536edd"/>
<path d="M1158 1476h49v25h-49z" fill="#506bda"/>
<path d="M1206 1476h49v25h-49z" fill="#516ddb"/>
<path d="M1254 1476h73v25h-73z" fill="#506bda"/>
<path d="M1326 1476h25v25h-25z" fill="#5572df"/>
<path d="M510 1500h73v25h-73z" fill="#5d7ce6"/>
<path d="M582 1500h25v25h-25z" fill="#5e7de7"/>
<path d="M606 1500h25v25h-25z" fill="#6e90f2"/>
<path d="M630 1500h25v25h-25z" fill="#688aef"/>
<path d="M654 1500h25v25h-25z" fill="#5875e1"/>
<path d="M678 1500h25v25h-25z" fill="#5a78e4"/>
<path d="M702 1500h25v25h-25z" fill="#6687ed"/>
<path d="M726 1500h25v25h-25z" fill="#6282ea"/>
<path d="M750 1500h25v25h-25z" fill="#506bda"/>
<path d="M774 1500h25v25h-25z" fill="#445acc"/>
<path d="M798 1500h25v25h-25z" fill="#465ecf"/>
<path d="M822 1500h25v25h-25z" fill="#506bda"/>
<path d="M846 1500h25v25h-25z" fill="#5977e3"/>
<path d="M870 1500h25v25h-25z" fill="#516ddb"/>
<path d="M894 1500h73v25h-73z" fill="#4b64d5"/>
<path d="M966 1500h25v25h-25z" fill="#4961d2"/>
<path d="M990 1500h49v25h-49z" fill="#465ecf"/>
<path d="M1038 1500h25v25h-25z" fill="#4961d2"/>
<path d="M1062 1500h25v25h-25z" fill="#4c66d6"/>
<path d="M1086 1500h25v25h-25z" fill="#516ddb"/>
<path d="M1110 1500h25v25h-25z" fill="#5470de"/>
<path d="M1134 1500h193v25h-193z" fill="#536edd"/>
<path d="M510 1524h73v25h-73z" fill="#5b7ae5"/>
<path d="M582 1524h25v25h-25z" fill="#6180e9"/>
<path d="M606 1524h25v25h-25z" fill="#7295f4"/>
<path d="M630 1524h25v25h-25z" fill="#6a8bef"/>
<path d="M654 1524h25v25h-25z" fill="#5673e0"/>
<path d="M678 1524h25v25h-25z" fill="#5b7ae5"/>
<path d="M702 1524h25v25h-25z" fill="#688aef"/>
<path d="M726 1524h25v25h-25z" fill="#6788ee"/>
<path d="M750 1524h25v25h-25z" fill="#5572df"/>
<path d="M774 1524h25v25h-25z" fill="#455cce"/>
<path d="M798 1524h25v25h-25z" fill="#465ecf"/>
<path d="M822 1524h25v25h-25z" fill="#506bda"/>
<path d="M846 1524h25v25h-25z" fill="#5977e3"/>
<path d="M870 1524h25v25h-25z" fill="#5470de"/>
<path d="M894 1524h73v25h-73z" fill="#4e68d8"/>
<path d="M966 1524h25v25h-25z" fill="#4b64d5"/>
<path d="M990 1524h25v25h-25z" fill="#4961d2"/>
<path d="M1014 1524h25v25h-25z" fill="#4a63d3"/>
<path d="M1038 1524h25v25h-25z" fill="#4c66d6"/>
<path d="M1062 1524h25v25h-25z" fill="#4f69d9"/>
<path d="M1086 1524h25v25h-25z" fill="#536edd"/>
<path d="M1110 1524h193v25h-193z" fill="#5572df"/>
<path d="M510 1548h73v25h-73z" fill="#5673e0"/>
<path d="M582 1548h25v25h-25z" fill="#6384eb"/>
<path d="M606 1548h25v25h-25z" fill="#7597f6"/>
<path d="M630 1548h25v25h-25z" fill="#688aef"/>
<path d="M654 1548h25v25h-25z" fill="#5572df"/>
<path d="M678 1548h25v25h-25z" fill="#5d7ce6"/>
<path d="M702 1548h49v25h-49z" fill="#6c8ff1"/>
<path d="M750 1548h25v25h-25z" fill="#5a78e4"/>
<path d="M774 1548h25v25h-25z" fill="#4961d2"/>
<path d="M798 1548h25v25h-25z" fill="#455cce"/>
<path d="M822 1548h25v25h-25z" fill="#4f69d9"/>
<path d="M846 1548h25v25h-25z" fill="#5b7ae5"/>
<path d="M870 1548h25v25h-25z" fill="#5673e0"/>
<path d="M894 1548h73v25h-73z" fill="#516ddb"/>
<path d="M966 1548h25v25h-25z" fill="#506bda"/>
<path d="M990 1548h49v25h-49z" fill="#4f69d9"/>
<path d="M1038 1548h25v25h-25z" fill="#516ddb"/>
<path d="M1062 1548h25v25h-25z" fill="#536edd"/>
<path d="M1086 1548h25v25h-25z" fill="#5572df"/>
<path d="M1110 1548h145v25h-145z" fill="#5875e1"/>
<path d="M486 1572h73v25h-73z" fill="#516ddb"/>
<path d="M558 1572h25v25h-25z" fill="#536edd"/>
<path d="M582 1572h25v25h-25z" fill="#6485ec"/>
<path d="M606 1572h25v25h-25z" fill="#7699f6"/>
<path d="M630 1572h25v25h-25z" fill="#6788ee"/>
<path d="M654 1572h25v25h-25z" fill="#536edd"/>
<path d="M678 1572h25v25h-25z" fill="#5d7ce6"/>
<path d="M702 1572h25v25h-25z" fill="#7093f3"/>
<path d="M726 1572h25v25h-25z" fill="#7396f5"/>
<path d="M750 1572h25v25h-25z" fill="#6180e9"/>
<path d="M774 1572h25v25h-25z" fill="#4b64d5"/>
<path d="M798 1572h25v25h-25z" fill="#455cce"/>
<path d="M822 1572h25v25h-25z" fill="#4f69d9"/>
<path d="M846 1572h25v25h-25z" fill="#5d7ce6"/>
<path d="M870 1572h25v25h-25z" fill="#5977e3"/>
<path d="M894 1572h73v25h-73z" fill="#5673e0"/>
<path d="M966 1572h25v25h-25z" fill="#5572df"/>
<path d="M990 1572h25v25h-25z" fill="#5470de"/>
<path d="M1014 1572h49v25h-49z" fill="#5572df"/>
<path d="M1062 1572h25v25h-25z" fill="#5875e1"/>
<path d="M1086 1572h25v25h-25z" fill="#5977e3"/>
<path d="M1110 1572h97v25h-97z" fill="#5a78e4"/>
<path d="M486 1596h97v25h-97z" fill="#4e68d8"/>
<path d="M582 1596h25v25h-25z" fill="#6687ed"/>
<path d="M606 1596h25v25h-25z" fill="#779af7"/>
<path d="M630 1596h25v25h-25z" fill="#6687ed"/>
<path d="M654 1596h25v25h-25z" fill="#516ddb"/>
<path d="M678 1596h25v25h-25z" fill="#5d7ce6"/>
<path d="M702 1596h25v25h-25z" fill="#7597f6"/>
<path d="M726 1596h25v25h-25z" fill="#799cf8"/>
<path d="M750 1596h25v25h-25z" fill="#6788ee"/>
<path d="M774 1596h25v25h-25z" fill="#4f69d9"/>
<path d="M798 1596h25v25h-25z" fill="#465ecf"/>
<path d="M822 1596h25v25h-25z" fill="#4f69d9"/>
<path d="M846 1596h25v25h-25z" fill="#5f7fe8"/>
<path d="M870 1596h25v25h-25z" fill="#5d7ce6"/>
<path d="M894 1596h97v25h-97z" fill="#5b7ae5"/>
<path d="M990 1596h49v25h-49z" fill="#5a78e4"/>
<path d="M1038 1596h49v25h-49z" fill="#5b7ae5"/>
<path d="M1086 1596h73v25h-73z" fill="#5d7ce6"/>
<path d="M486 1620h97v25h-97z" fill="#4961d2"/>
<path d="M582 1620h25v25h-25z" fill="#6485ec"/>
<path d="M606 1620h25v25h-25z" fill="#7699f6"/>
<path d="M630 1620h25v25h-25z" fill="#6485ec"/>
<path d="M654 1620h25v25h-25z" fill="#4f69d9"/>
<path d="M678 1620h25v25h-25z" fill="#5d7ce6"/>
<path d="M702 1620h25v25h-25z" fill="#779af7"/>
<path d="M726 1620h25v25h-25z" fill="#80a3fa"/>
<path d="M750 1620h25v25h-25z" fill="#7093f3"/>
<path d="M774 1620h25v25h-25z" fill="#5977e3"/>
<path d="M798 1620h25v25h-25z" fill="#4f69d9"/>
<path d="M822 1620h25v25h-25z" fill="#5673e0"/>
<path d="M846 1620h73v25h-73z" fill="#6687ed"/>
<path d="M918 1620h145v25h-145z" fill="#6485ec"/>
<path d="M486 1644h97v25h-97z" fill="#455cce"/>
<path d="M582 1644h25v25h-25z" fill="#5d7ce6"/>
<path d="M606 1644h25v25h-25z" fill="#6f92f3"/>
<path d="M630 1644h25v25h-25z" fill="#6180e9"/>
<path d="M654 1644h25v25h-25z" fill="#4f69d9"/>
<path d="M678 1644h25v25h-25z" fill="#5977e3"/>
<path d="M702 1644h25v25h-25z" fill="#779af7"/>
<path d="M726 1644h25v25h-25z" fill="#88abfd"/>
<path d="M750 1644h25v25h-25z" fill="#81a4fb"/>
<path d="M774 1644h25v25h-25z" fill="#7295f4"/>
<path d="M798 1644h25v25h-25z" fill="#6b8df0"/>
<path d="M822 1644h25v25h-25z" fill="#7093f3"/>
<path d="M846 1644h25v25h-25z" fill="#7a9df8"/>
<path d="M870 1644h145v25h-145z" fill="#799cf8"/>
<path d="M1014 1644h25v25h-25z" fill="#779af7"/>
<path d="M486 1668h97v25h-97z" fill="#4257c9"/>
<path d="M582 1668h25v25h-25z" fill="#5572df"/>
<path d="M606 1668h25v25h-25z" fill="#688aef"/>
<path d="M630 1668h25v25h-25z" fill="#5e7de7"/>
<path d="M654 1668h25v25h-25z" fill="#4e68d8"/>
<path d="M678 1668h25v25h-25z" fill="#5572df"/>
<path d="M702 1668h25v25h-25z" fill="#7699f6"/>
<path d="M726 1668h25v25h-25z" fill="#8fb1fe"/>
<path d="M750 1668h25v25h-25z" fill="#90b2fe"/>
<path d="M774 1668h25v25h-25z" fill="#8caffe"/>
<path d="M798 1668h49v25h-49z" fill="#8badfd"/>
<path d="M846 1668h73v25h-73z" fill="#8db0fe"/>
<path d="M918 1668h97v25h-97z" fill="#8caffe"/>
<path d="M486 1692h97v25h-97z" fill="#4055c8"/>
<path d="M582 1692h25v25h-25z" fill="#516ddb"/>
<path d="M606 1692h25v25h-25z" fill="#6788ee"/>
<path d="M630 1692h25v25h-25z" fill="#5d7ce6"/>
<path d="M654 1692h25v25h-25z" fill="#4e68d8"/>
<path d="M678 1692h25v25h-25z" fill="#5470de"/>
<path d="M702 1692h25v25h-25z" fill="#7699f6"/>
<path d="M726 1692h25v25h-25z" fill="#92b4fe"/>
<path d="M750 1692h25v25h-25z" fill="#97b8ff"/>
<path d="M774 1692h49v25h-49z" fill="#96b7ff"/>
<path d="M822 1692h73v25h-73z" fill="#94b6ff"/>
<path d="M510 1716h73v25h-73z" fill="#4055c8"/>
<path d="M582 1716h25v25h-25z" fill="#516ddb"/>
<path d="M606 1716h25v25h-25z" fill="#6687ed"/>
<path d="M630 1716h25v25h-25z" fill="#5d7ce6"/>
<path d="M654 1716h25v25h-25z" fill="#4e68d8"/>
<path d="M678 1716h25v25h-25z" fill="#5470de"/>
<path d="M702 1716h25v25h-25z" fill="#7699f6"/>
<path d="M726 1716h25v25h-25z" fill="#92b4fe"/>
<path d="M750 1716h25v25h-25z" fill="#97b8ff"/>
<path d="M822 1716h25v25h-25z" fill="#96b7ff"/>
</g></g>
<g fill="none" stroke="#000" stroke-opacity="0.75" stroke-width="4.6" stroke-linejoin="round"><path d="M1279.4 77.3C1270.2 80.6 1260.8 83.5 1251.8 86.9C1242.7 90.2 1234.5 93.8 1225.0 97.5C1215.5 101.2 1204.2 108.6 1195.0 109.0C1185.8 109.4 1178.3 104.0 1170.0 100.0C1161.7 96.0 1153.3 88.5 1145.0 85.0C1136.7 81.5 1130.8 80.2 1120.0 79.0C1109.2 77.8 1091.7 77.3 1080.0 77.5C1068.3 77.7 1059.2 77.9 1050.0 80.0C1040.8 82.1 1033.3 84.6 1025.0 90.0C1016.7 95.4 1008.3 105.4 1000.0 112.5C991.7 119.6 983.3 126.7 975.0 132.5C966.7 138.3 960.0 143.8 950.0 147.5C940.0 151.2 927.5 153.1 915.0 155.0C902.5 156.9 887.5 157.3 875.0 159.0C862.5 160.7 850.8 161.1 840.0 165.0C829.2 168.9 820.0 175.0 810.0 182.5C800.0 190.0 789.2 200.4 780.0 210.0C770.8 219.6 761.7 230.8 755.0 240.0C748.3 249.2 743.8 255.8 740.0 265.0C736.2 274.2 733.3 285.0 732.5 295.0C731.7 305.0 732.9 315.8 735.0 325.0C737.1 334.2 741.2 341.7 745.0 350.0C748.8 358.3 754.2 366.7 757.5 375.0C760.8 383.3 763.8 391.7 765.0 400.0C766.2 408.3 766.2 416.7 765.0 425.0C763.8 433.3 760.8 440.8 757.5 450.0C754.2 459.2 750.4 470.8 745.0 480.0C739.6 489.2 730.8 497.5 725.0 505.0C719.2 512.5 713.5 517.5 710.0 525.0C706.5 532.5 705.2 537.5 704.0 550.0C702.8 562.5 702.5 583.3 702.5 600.0C702.5 616.7 704.0 633.3 704.0 650.0C704.0 666.7 703.6 685.8 702.5 700.0C701.4 714.2 699.6 723.3 697.5 735.0C695.4 746.7 692.0 758.6 690.0 770.0C688.0 781.4 686.6 792.0 685.3 803.1C684.1 814.3 683.1 825.9 682.6 836.9C682.2 847.9 682.2 858.9 682.5 869.1C682.8 879.3 683.7 888.8 684.5 898.1C685.3 907.4 685.3 915.5 687.5 925.0C689.7 934.5 692.9 946.2 697.5 955.0C702.1 963.8 707.9 971.2 715.0 977.5C722.1 983.8 732.8 986.9 740.0 992.5C747.2 998.1 752.4 1004.1 758.1 1011.2C763.8 1018.3 769.4 1026.4 774.3 1035.4C779.2 1044.3 783.6 1054.9 787.5 1065.1C791.4 1075.2 794.6 1086.0 797.7 1096.2C800.8 1106.5 803.9 1116.6 806.0 1126.7C808.1 1136.7 809.3 1146.7 810.0 1156.7C810.7 1166.7 810.6 1176.7 810.0 1186.7C809.4 1196.7 807.7 1206.7 806.7 1216.7C805.7 1226.7 804.3 1236.7 804.0 1246.7C803.7 1256.7 804.1 1266.7 805.0 1276.7C805.9 1286.7 807.9 1296.7 809.3 1306.7C810.7 1316.7 812.1 1326.7 813.3 1336.7C814.6 1346.7 815.6 1356.7 816.7 1366.7C817.8 1376.7 818.8 1386.7 820.0 1396.7C821.2 1406.7 822.3 1417.2 824.0 1426.7C825.7 1436.1 827.3 1445.0 830.0 1453.3C832.7 1461.7 836.1 1469.4 840.0 1476.7C843.9 1483.9 848.6 1491.7 853.3 1496.7C858.1 1501.7 863.3 1505.4 868.3 1506.7C873.3 1507.9 878.6 1506.2 883.3 1504.0C888.1 1501.8 892.2 1497.6 896.7 1493.3C901.1 1489.1 905.6 1482.2 910.0 1478.3C914.4 1474.4 918.9 1471.4 923.3 1470.0C927.8 1468.6 931.7 1468.9 936.7 1470.0C941.7 1471.1 947.8 1474.7 953.3 1476.7C958.9 1478.6 964.4 1481.0 970.0 1481.7C975.6 1482.3 980.6 1482.1 986.7 1480.7C992.8 1479.3 999.4 1476.5 1006.7 1473.3C1013.9 1470.2 1022.2 1465.8 1030.0 1461.7C1037.8 1457.5 1045.6 1452.4 1053.3 1448.3C1061.1 1444.3 1068.9 1439.9 1076.7 1437.3C1084.4 1434.7 1092.2 1433.4 1100.0 1432.7C1107.8 1431.9 1115.6 1433.1 1123.3 1432.7C1131.1 1432.2 1138.9 1431.8 1146.7 1430.0C1154.4 1428.2 1162.2 1425.0 1170.0 1421.7C1177.8 1418.3 1185.6 1413.9 1193.3 1410.0C1201.1 1406.1 1208.9 1402.3 1216.7 1398.3C1224.4 1394.3 1232.2 1389.9 1240.0 1386.0C1247.8 1382.1 1255.6 1378.5 1263.3 1375.0C1271.1 1371.5 1279.4 1368.6 1286.7 1365.0C1293.9 1361.4 1300.0 1358.1 1306.7 1353.3C1313.3 1348.6 1320.0 1343.1 1326.7 1336.7C1333.3 1330.3 1340.0 1321.9 1346.7 1315.0C1353.3 1308.1 1360.0 1300.8 1366.7 1295.0C1373.3 1289.2 1379.5 1283.9 1386.7 1280.0C1393.8 1276.1 1402.2 1274.1 1409.7 1271.6C1417.2 1269.1 1424.5 1267.2 1431.7 1265.0C1438.8 1262.8 1445.6 1261.3 1452.6 1258.5C1459.5 1255.8 1466.3 1252.6 1473.3 1248.6C1480.2 1244.7 1486.8 1240.9 1494.4 1234.8C1501.9 1228.7 1510.5 1219.6 1518.6 1212.0C1526.7 1204.4 1534.8 1196.8 1542.9 1189.2C1551.0 1181.6 1559.1 1173.8 1567.2 1166.5C1575.3 1159.1 1583.4 1151.5 1591.5 1145.2C1599.6 1138.9 1607.7 1133.6 1615.8 1128.5C1623.9 1123.4 1632.0 1120.4 1640.1 1114.8C1648.2 1109.3 1656.3 1102.9 1664.4 1095.1C1672.5 1087.2 1681.1 1076.9 1688.7 1067.8C1696.3 1058.6 1702.9 1050.0 1710.0 1040.4C1717.0 1030.8 1724.1 1020.2 1731.2 1010.1C1738.3 999.9 1745.4 989.8 1752.5 979.7C1759.6 969.6 1766.6 959.3 1773.7 949.3C1780.8 939.3 1787.9 928.9 1795.0 919.6C1802.1 910.2 1807.7 902.4 1816.2 893.1C1824.8 883.9 1835.4 875.3 1846.1 864.1C1856.7 852.8 1868.7 839.9 1880.2 825.6C1891.7 811.4 1904.6 793.8 1915.2 778.4C1925.8 763.0 1935.3 747.1 1943.8 733.3C1952.2 719.5 1958.8 708.0 1965.8 695.7C1972.7 683.4 1979.1 671.7 1985.7 659.7C1992.4 647.7 1999.4 635.7 2005.7 623.7C2012.1 611.7 2018.4 599.7 2023.7 587.7C2029.1 575.7 2033.7 563.7 2037.7 551.8C2041.7 539.8 2045.0 527.8 2047.7 515.8C2050.4 503.8 2052.4 491.8 2053.7 479.8C2055.0 467.8 2055.7 455.1 2055.7 443.8C2055.7 432.5 2055.0 421.8 2053.7 411.8C2052.4 401.8 2051.0 392.2 2047.7 383.8C2044.4 375.5 2039.4 368.5 2033.7 361.8C2028.1 355.2 2021.7 349.9 2013.7 343.9C2005.7 337.9 1994.4 331.9 1985.7 325.9C1977.1 319.9 1969.7 313.9 1961.8 307.9C1953.8 301.9 1946.4 294.9 1937.8 289.9C1929.1 284.9 1919.8 280.8 1909.8 277.9C1899.8 275.0 1888.5 273.7 1877.8 272.7C1867.1 271.7 1855.1 273.0 1845.8 271.9C1836.5 270.8 1828.5 269.9 1821.8 265.9C1815.2 261.9 1810.8 255.6 1805.8 247.9C1800.8 240.2 1796.5 229.9 1791.8 219.9C1787.2 209.9 1782.8 198.6 1777.8 187.9C1772.8 177.3 1767.8 165.3 1761.8 155.9C1755.9 146.6 1749.2 138.0 1741.9 132.0C1734.5 126.0 1727.2 122.3 1717.9 120.0C1708.5 117.6 1696.5 118.6 1685.9 118.0C1675.2 117.3 1664.6 117.6 1653.9 116.0C1643.2 114.3 1632.6 112.0 1621.9 108.0C1611.3 104.0 1600.6 97.6 1589.9 92.0C1579.3 86.3 1569.2 78.7 1557.9 74.0C1546.6 69.3 1534.7 66.7 1522.2 63.8C1509.6 60.9 1495.6 58.6 1482.4 56.5C1469.1 54.3 1454.8 52.8 1442.7 50.9C1430.6 49.0 1419.7 47.0 1409.7 45.0C1399.8 43.0 1391.6 39.4 1383.0 39.0C1374.4 38.6 1366.4 39.8 1358.0 42.5C1349.6 45.2 1341.4 51.3 1332.8 55.5C1324.3 59.6 1315.7 63.7 1306.8 67.3C1297.8 71.0 1288.5 74.1 1279.4 77.3Z"/>
<path d="M1278.8 140.8C1269.5 142.9 1259.7 144.7 1249.9 147.0C1240.1 149.4 1230.0 152.7 1220.0 155.0C1210.0 157.3 1201.7 160.6 1190.0 161.0C1178.3 161.4 1163.3 159.8 1150.0 157.5C1136.7 155.2 1122.5 150.4 1110.0 147.5C1097.5 144.6 1085.0 141.7 1075.0 140.0C1065.0 138.3 1058.3 136.7 1050.0 137.5C1041.7 138.3 1033.3 141.2 1025.0 145.0C1016.7 148.8 1009.2 153.8 1000.0 160.0C990.8 166.2 980.0 175.4 970.0 182.5C960.0 189.6 950.0 196.7 940.0 202.5C930.0 208.3 920.0 212.5 910.0 217.5C900.0 222.5 888.3 226.2 880.0 232.5C871.7 238.8 864.8 246.2 860.0 255.0C855.2 263.8 852.7 274.2 851.0 285.0C849.3 295.8 849.8 307.5 850.0 320.0C850.2 332.5 853.3 347.5 852.5 360.0C851.7 372.5 849.6 383.3 845.0 395.0C840.4 406.7 831.7 418.3 825.0 430.0C818.3 441.7 810.8 452.5 805.0 465.0C799.2 477.5 793.8 491.7 790.0 505.0C786.2 518.3 784.3 531.7 782.5 545.0C780.7 558.3 779.2 571.7 779.0 585.0C778.8 598.3 779.6 611.7 781.0 625.0C782.4 638.3 785.6 650.8 787.5 665.0C789.4 679.2 791.2 695.8 792.5 710.0C793.8 724.2 793.3 736.7 795.0 750.0C796.7 763.3 800.0 776.8 802.4 790.0C804.8 803.2 807.2 816.7 809.2 829.4C811.2 842.1 813.0 854.6 814.4 866.2C815.8 877.9 816.8 888.8 817.4 899.4C818.1 910.0 818.1 919.9 818.4 929.8C818.6 939.7 818.4 949.3 818.8 959.0C819.2 968.6 819.8 978.1 820.8 987.7C821.9 997.3 822.9 1006.8 825.0 1016.7C827.1 1026.5 830.0 1036.7 833.3 1046.7C836.7 1056.7 840.8 1066.7 845.0 1076.7C849.2 1086.7 853.6 1096.7 858.3 1106.7C863.1 1116.7 868.1 1127.2 873.3 1136.7C878.6 1146.1 884.2 1155.6 890.0 1163.3C895.8 1171.1 902.8 1177.2 908.3 1183.3C913.9 1189.4 919.2 1193.9 923.3 1200.0C927.5 1206.1 930.6 1212.8 933.3 1220.0C936.1 1227.2 938.1 1235.0 940.0 1243.3C941.9 1251.7 943.3 1261.1 945.0 1270.0C946.7 1278.9 948.1 1287.8 950.0 1296.7C951.9 1305.6 954.2 1314.4 956.7 1323.3C959.2 1332.2 961.9 1342.2 965.0 1350.0C968.1 1357.8 971.1 1364.2 975.0 1370.0C978.9 1375.8 983.6 1381.2 988.3 1385.0C993.1 1388.8 998.1 1391.6 1003.3 1392.7C1008.6 1393.8 1013.9 1392.9 1020.0 1391.7C1026.1 1390.4 1032.8 1387.2 1040.0 1385.0C1047.2 1382.8 1055.6 1380.0 1063.3 1378.3C1071.1 1376.7 1078.9 1375.6 1086.7 1375.0C1094.4 1374.4 1102.2 1375.4 1110.0 1375.0C1117.8 1374.6 1125.6 1374.3 1133.3 1372.7C1141.1 1371.0 1148.9 1367.9 1156.7 1365.0C1164.4 1362.1 1172.2 1358.3 1180.0 1355.0C1187.8 1351.7 1195.6 1348.3 1203.3 1345.0C1211.1 1341.7 1218.9 1338.3 1226.7 1335.0C1234.4 1331.7 1242.8 1327.8 1250.0 1325.0C1257.2 1322.2 1262.8 1320.6 1270.0 1318.3C1277.2 1316.1 1286.1 1314.7 1293.3 1311.7C1300.6 1308.6 1307.2 1304.7 1313.3 1300.0C1319.4 1295.3 1324.4 1289.4 1330.0 1283.3C1335.6 1277.2 1340.6 1269.4 1346.7 1263.3C1352.8 1257.2 1360.0 1251.1 1366.7 1246.7C1373.3 1242.2 1379.5 1239.2 1386.7 1236.7C1393.8 1234.1 1402.2 1233.1 1409.7 1231.5C1417.2 1229.9 1424.5 1228.6 1431.5 1226.8C1438.5 1225.0 1445.0 1223.5 1451.6 1220.7C1458.2 1217.9 1464.6 1214.4 1471.2 1210.2C1477.8 1205.9 1483.9 1201.6 1491.3 1195.3C1498.7 1189.0 1507.5 1180.1 1515.6 1172.5C1523.7 1164.9 1531.8 1157.1 1539.9 1149.7C1548.0 1142.4 1556.1 1135.3 1564.2 1128.5C1572.3 1121.7 1580.4 1115.3 1588.5 1108.8C1596.6 1102.2 1604.7 1095.1 1612.8 1089.0C1620.9 1082.9 1629.0 1078.4 1637.1 1072.3C1645.2 1066.2 1653.3 1060.4 1661.4 1052.6C1669.5 1044.7 1678.1 1034.8 1685.7 1025.2C1693.3 1015.7 1700.3 1004.8 1706.9 995.5C1713.5 986.1 1719.1 977.9 1725.1 969.1C1731.2 960.3 1736.8 951.8 1743.4 942.6C1749.9 933.5 1757.0 924.2 1764.6 914.4C1772.2 904.6 1780.7 893.3 1788.9 884.0C1797.2 874.8 1805.4 868.7 1814.1 858.8C1822.9 848.8 1831.8 837.2 1841.3 824.3C1850.7 811.4 1860.7 795.5 1870.6 781.5C1880.5 767.4 1890.7 753.0 1900.6 740.0C1910.4 727.1 1921.6 715.1 1929.8 703.7C1938.0 692.3 1943.4 682.4 1949.8 671.7C1956.1 661.0 1962.1 650.4 1967.7 639.7C1973.4 629.1 1979.1 618.4 1983.7 607.7C1988.4 597.1 1992.4 586.4 1995.7 575.7C1999.1 565.1 2001.7 554.4 2003.7 543.8C2005.7 533.1 2007.4 522.4 2007.7 511.8C2008.1 501.1 2007.1 489.1 2005.7 479.8C2004.4 470.5 2003.1 463.1 1999.7 455.8C1996.4 448.5 1991.4 442.1 1985.7 435.8C1980.1 429.5 1973.7 423.8 1965.8 417.8C1957.8 411.8 1946.4 405.8 1937.8 399.8C1929.1 393.8 1921.1 386.5 1913.8 381.8C1906.4 377.2 1900.4 373.5 1893.8 371.8C1887.1 370.2 1881.1 370.5 1873.8 371.8C1866.5 373.2 1857.8 377.3 1849.8 379.8C1841.8 382.4 1833.8 385.7 1825.8 387.0C1817.8 388.4 1809.8 389.7 1801.8 387.8C1793.8 386.0 1785.2 381.2 1777.8 375.8C1770.5 370.5 1763.8 363.8 1757.9 355.8C1751.9 347.9 1745.9 337.9 1741.9 327.9C1737.9 317.9 1735.9 306.5 1733.9 295.9C1731.9 285.2 1731.9 274.6 1729.9 263.9C1727.9 253.2 1725.9 241.2 1721.9 231.9C1717.9 222.6 1712.5 214.9 1705.9 207.9C1699.2 200.9 1690.5 194.6 1681.9 189.9C1673.2 185.3 1663.9 182.6 1653.9 179.9C1643.9 177.3 1632.6 176.3 1621.9 173.9C1611.3 171.6 1599.9 169.9 1589.9 165.9C1579.9 161.9 1571.3 155.6 1561.9 149.9C1552.6 144.3 1543.3 135.7 1534.0 132.0C1524.6 128.2 1516.1 128.6 1505.8 127.2C1495.6 125.8 1483.9 124.8 1472.3 123.3C1460.7 121.9 1447.5 120.3 1436.2 118.4C1425.0 116.5 1414.3 114.1 1404.6 112.0C1394.9 109.9 1386.6 105.9 1378.0 106.0C1369.4 106.1 1361.1 109.3 1353.0 112.5C1344.9 115.7 1337.3 121.5 1329.4 125.2C1321.4 128.8 1313.6 131.9 1305.2 134.5C1296.8 137.1 1288.0 138.7 1278.8 140.8Z"/>
<path d="M1273.4 179.5C1262.3 181.7 1250.2 184.2 1238.0 187.2C1225.8 190.2 1211.3 195.4 1200.0 197.5C1188.7 199.6 1181.7 200.8 1170.0 200.0C1158.3 199.2 1143.3 195.4 1130.0 192.5C1116.7 189.6 1103.3 185.0 1090.0 182.5C1076.7 180.0 1060.8 177.5 1050.0 177.5C1039.2 177.5 1033.3 179.2 1025.0 182.5C1016.7 185.8 1008.3 191.2 1000.0 197.5C991.7 203.8 983.3 211.2 975.0 220.0C966.7 228.8 957.5 240.0 950.0 250.0C942.5 260.0 934.8 270.0 930.0 280.0C925.2 290.0 922.3 299.2 921.5 310.0C920.7 320.8 922.8 334.2 925.0 345.0C927.2 355.8 932.5 365.0 935.0 375.0C937.5 385.0 940.4 395.8 940.0 405.0C939.6 414.2 936.7 423.8 932.5 430.0C928.3 436.2 922.9 439.6 915.0 442.5C907.1 445.4 894.2 444.6 885.0 447.5C875.8 450.4 867.5 453.8 860.0 460.0C852.5 466.2 845.4 475.0 840.0 485.0C834.6 495.0 830.2 508.3 827.5 520.0C824.8 531.7 824.0 542.5 824.0 555.0C824.0 567.5 825.2 581.7 827.5 595.0C829.8 608.3 833.3 621.7 837.5 635.0C841.7 648.3 847.9 661.7 852.5 675.0C857.1 688.3 862.1 701.7 865.0 715.0C867.9 728.3 869.6 741.6 870.0 755.0C870.4 768.4 868.5 781.8 867.4 795.3C866.3 808.9 864.8 822.7 863.3 836.2C861.7 849.8 859.7 863.8 858.2 876.6C856.7 889.3 855.1 902.0 854.2 912.8C853.4 923.7 853.1 933.0 853.2 941.7C853.3 950.3 854.0 957.0 854.9 964.7C855.9 972.4 857.2 979.6 858.6 987.7C860.0 995.8 860.9 1004.6 863.3 1013.3C865.8 1022.0 869.4 1032.2 873.3 1040.0C877.2 1047.8 881.7 1053.9 886.7 1060.0C891.7 1066.1 897.2 1071.7 903.3 1076.7C909.4 1081.7 916.7 1086.4 923.3 1090.0C930.0 1093.6 936.7 1095.6 943.3 1098.3C950.0 1101.1 957.2 1103.1 963.3 1106.7C969.4 1110.3 975.0 1114.4 980.0 1120.0C985.0 1125.6 989.4 1132.8 993.3 1140.0C997.2 1147.2 1000.3 1155.0 1003.3 1163.3C1006.4 1171.7 1009.3 1181.1 1011.7 1190.0C1014.0 1198.9 1015.4 1207.8 1017.3 1216.7C1019.3 1225.6 1021.2 1235.0 1023.3 1243.3C1025.4 1251.7 1027.2 1259.4 1030.0 1266.7C1032.8 1273.9 1036.1 1281.1 1040.0 1286.7C1043.9 1292.2 1048.3 1296.4 1053.3 1300.0C1058.3 1303.6 1063.9 1306.4 1070.0 1308.3C1076.1 1310.3 1082.8 1311.9 1090.0 1311.7C1097.2 1311.4 1105.0 1309.7 1113.3 1306.7C1121.7 1303.6 1131.7 1297.8 1140.0 1293.3C1148.3 1288.9 1155.0 1282.9 1163.3 1280.0C1171.7 1277.1 1181.7 1277.4 1190.0 1276.0C1198.3 1274.6 1206.1 1273.7 1213.3 1271.7C1220.6 1269.7 1227.2 1266.1 1233.3 1264.0C1239.4 1261.9 1244.4 1259.7 1250.0 1259.3C1255.6 1258.9 1261.1 1260.2 1266.7 1261.7C1272.2 1263.2 1277.8 1266.9 1283.3 1268.3C1288.9 1269.7 1294.4 1271.1 1300.0 1270.0C1305.6 1268.9 1311.1 1265.8 1316.7 1261.7C1322.2 1257.5 1327.2 1250.8 1333.3 1245.0C1339.4 1239.2 1346.1 1232.1 1353.3 1226.7C1360.6 1221.3 1368.7 1216.1 1376.7 1212.7C1384.6 1209.2 1393.0 1208.1 1401.2 1206.1C1409.4 1204.1 1417.9 1202.5 1425.9 1200.5C1433.9 1198.5 1441.8 1196.9 1449.3 1194.2C1456.8 1191.6 1463.8 1188.4 1470.8 1184.5C1477.8 1180.6 1483.8 1176.8 1491.3 1171.0C1498.8 1165.2 1507.5 1156.8 1515.6 1149.7C1523.7 1142.7 1531.8 1135.3 1539.9 1128.5C1548.0 1121.7 1556.1 1115.3 1564.2 1108.8C1572.3 1102.2 1580.4 1095.3 1588.5 1089.0C1596.6 1082.7 1604.7 1076.9 1612.8 1070.8C1620.9 1064.7 1629.5 1058.6 1637.1 1052.6C1644.7 1046.5 1651.3 1041.7 1658.3 1034.4C1665.4 1027.0 1672.5 1017.8 1679.6 1008.5C1686.7 999.3 1694.3 988.4 1700.9 979.1C1707.4 969.7 1713.0 961.3 1719.1 952.4C1725.1 943.5 1731.2 934.5 1737.3 925.6C1743.4 916.8 1749.4 907.7 1755.5 899.2C1761.6 890.8 1767.7 882.5 1773.7 874.9C1779.8 867.3 1784.8 862.2 1792.0 853.5C1799.2 844.7 1807.4 834.3 1816.8 822.5C1826.3 810.6 1837.9 795.6 1848.6 782.4C1859.2 769.1 1870.5 755.2 1880.7 742.8C1890.9 730.3 1901.6 718.9 1909.8 707.7C1918.0 696.5 1923.4 686.4 1929.8 675.7C1936.1 665.0 1942.4 654.4 1947.8 643.7C1953.1 633.0 1957.8 622.4 1961.8 611.7C1965.8 601.1 1969.4 590.4 1971.7 579.7C1974.1 569.1 1975.4 557.8 1975.7 547.8C1976.1 537.8 1975.7 528.4 1973.7 519.8C1971.7 511.1 1968.4 503.1 1963.8 495.8C1959.1 488.5 1952.8 482.1 1945.8 475.8C1938.8 469.5 1929.8 463.5 1921.8 457.8C1913.8 452.1 1905.1 445.8 1897.8 441.8C1890.5 437.8 1885.1 435.5 1877.8 433.8C1870.5 432.1 1862.5 432.1 1853.8 431.8C1845.1 431.5 1835.1 432.8 1825.8 431.8C1816.5 430.8 1806.5 428.8 1797.8 425.8C1789.2 422.8 1781.8 418.8 1773.8 413.8C1765.8 408.8 1757.2 402.8 1749.9 395.8C1742.5 388.8 1736.2 380.5 1729.9 371.8C1723.5 363.2 1716.9 353.8 1711.9 343.9C1706.9 333.9 1703.5 322.5 1699.9 311.9C1696.2 301.2 1693.5 289.9 1689.9 279.9C1686.2 269.9 1683.2 259.6 1677.9 251.9C1672.6 244.2 1665.9 238.6 1657.9 233.9C1649.9 229.2 1639.9 226.6 1629.9 223.9C1619.9 221.2 1608.6 220.2 1597.9 217.9C1587.3 215.6 1575.9 213.9 1565.9 209.9C1555.9 205.9 1547.7 198.4 1538.0 193.9C1528.2 189.4 1518.3 186.2 1507.7 182.9C1497.0 179.6 1485.4 176.8 1474.1 174.3C1462.8 171.7 1450.5 169.7 1439.7 167.7C1428.9 165.8 1418.7 164.1 1409.2 162.7C1399.8 161.2 1391.5 159.0 1383.0 159.0C1374.5 159.0 1366.4 160.8 1358.0 162.5C1349.6 164.2 1341.4 167.0 1332.5 168.9C1323.6 170.9 1314.7 172.4 1304.9 174.2C1295.0 176.0 1284.6 177.4 1273.4 179.5Z"/>
<path d="M1273.4 213.2C1262.3 215.1 1250.2 217.3 1238.0 220.1C1225.8 222.9 1213.0 227.5 1200.0 230.0C1187.0 232.5 1173.3 235.2 1160.0 235.0C1146.7 234.8 1133.3 231.7 1120.0 229.0C1106.7 226.3 1091.7 221.3 1080.0 219.0C1068.3 216.7 1059.2 214.8 1050.0 215.0C1040.8 215.2 1033.3 216.2 1025.0 220.0C1016.7 223.8 1007.1 230.0 1000.0 237.5C992.9 245.0 987.1 255.4 982.5 265.0C977.9 274.6 974.3 285.0 972.5 295.0C970.7 305.0 970.2 314.2 971.5 325.0C972.8 335.8 977.6 348.3 980.0 360.0C982.4 371.7 985.2 383.3 986.0 395.0C986.8 406.7 987.2 418.3 985.0 430.0C982.8 441.7 977.5 453.3 972.5 465.0C967.5 476.7 962.1 490.0 955.0 500.0C947.9 510.0 939.2 517.5 930.0 525.0C920.8 532.5 907.1 537.5 900.0 545.0C892.9 552.5 889.8 560.0 887.5 570.0C885.2 580.0 885.6 592.5 886.0 605.0C886.4 617.5 888.5 631.7 890.0 645.0C891.5 658.3 893.3 671.7 895.0 685.0C896.7 698.3 898.2 711.7 900.0 725.0C901.8 738.3 904.7 751.7 906.0 765.0C907.3 778.3 907.7 791.7 907.9 804.7C908.2 817.7 908.1 830.6 907.4 842.8C906.8 855.0 905.5 866.8 904.2 877.8C903.0 888.9 901.3 899.3 900.2 909.1C899.2 918.8 898.0 927.9 897.8 936.5C897.6 945.0 897.8 952.8 898.9 960.3C900.0 967.8 902.0 974.8 904.4 981.7C906.8 988.6 909.1 996.5 913.3 1001.7C917.6 1006.8 923.9 1009.6 930.0 1012.7C936.1 1015.7 943.9 1017.4 950.0 1020.0C956.1 1022.6 961.4 1024.4 966.7 1028.3C971.9 1032.2 976.9 1036.9 981.7 1043.3C986.4 1049.7 990.6 1058.3 995.0 1066.7C999.4 1075.0 1004.2 1084.4 1008.3 1093.3C1012.5 1102.2 1016.1 1111.1 1020.0 1120.0C1023.9 1128.9 1027.8 1138.3 1031.7 1146.7C1035.6 1155.0 1039.2 1162.8 1043.3 1170.0C1047.5 1177.2 1052.2 1184.2 1056.7 1190.0C1061.1 1195.8 1065.6 1201.6 1070.0 1205.0C1074.4 1208.4 1079.4 1209.6 1083.3 1210.7C1087.2 1211.8 1088.9 1212.3 1093.3 1211.7C1097.8 1211.0 1104.4 1209.4 1110.0 1206.7C1115.6 1203.9 1121.1 1198.6 1126.7 1195.0C1132.2 1191.4 1137.2 1187.4 1143.3 1185.0C1149.4 1182.6 1156.7 1180.8 1163.3 1180.7C1170.0 1180.5 1176.7 1182.2 1183.3 1184.0C1190.0 1185.8 1196.7 1189.8 1203.3 1191.7C1210.0 1193.5 1216.7 1194.3 1223.3 1195.0C1230.0 1195.7 1237.2 1194.9 1243.3 1196.0C1249.4 1197.1 1254.4 1199.1 1260.0 1201.7C1265.6 1204.3 1271.1 1208.6 1276.7 1211.7C1282.2 1214.7 1287.8 1218.3 1293.3 1220.0C1298.9 1221.7 1304.4 1222.5 1310.0 1221.7C1315.6 1220.8 1320.6 1218.9 1326.7 1215.0C1332.8 1211.1 1340.0 1203.6 1346.7 1198.3C1353.3 1193.1 1359.4 1187.5 1366.7 1183.3C1373.9 1179.2 1382.5 1175.4 1390.0 1173.3C1397.5 1171.3 1404.9 1171.7 1411.8 1171.1C1418.7 1170.5 1425.3 1170.3 1431.6 1169.7C1437.9 1169.0 1443.6 1168.7 1449.7 1167.1C1455.9 1165.5 1461.9 1163.1 1468.3 1160.0C1474.8 1156.8 1480.9 1153.5 1488.3 1148.2C1495.7 1143.0 1504.5 1135.1 1512.6 1128.5C1520.7 1121.9 1528.8 1115.3 1536.9 1108.8C1545.0 1102.2 1553.1 1095.3 1561.2 1089.0C1569.3 1082.7 1577.4 1076.6 1585.5 1070.8C1593.6 1065.0 1601.6 1059.7 1609.7 1054.1C1617.8 1048.5 1626.5 1043.2 1634.0 1037.4C1641.6 1031.6 1648.2 1026.5 1655.3 1019.2C1662.4 1011.8 1669.7 1002.4 1676.6 993.4C1683.4 984.3 1690.0 974.2 1696.3 965.1C1702.6 956.0 1708.4 947.5 1714.5 938.7C1720.6 929.9 1726.7 921.1 1732.7 912.3C1738.8 903.4 1744.3 894.4 1751.0 885.6C1757.7 876.7 1764.5 869.6 1772.9 859.4C1781.3 849.1 1790.7 837.3 1801.3 823.9C1811.8 810.5 1824.7 793.9 1836.3 779.0C1847.8 764.1 1860.0 748.4 1870.6 734.5C1881.1 720.7 1891.9 707.5 1899.8 695.7C1907.7 683.9 1912.4 674.4 1917.8 663.7C1923.1 653.0 1928.1 642.4 1931.8 631.7C1935.4 621.1 1938.1 610.4 1939.8 599.7C1941.4 589.1 1942.4 577.7 1941.8 567.7C1941.1 557.8 1939.1 548.4 1935.8 539.8C1932.4 531.1 1927.4 523.1 1921.8 515.8C1916.1 508.4 1909.1 502.1 1901.8 495.8C1894.5 489.5 1885.8 482.5 1877.8 477.8C1869.8 473.1 1862.5 470.0 1853.8 467.8C1845.1 465.6 1835.1 465.3 1825.8 464.6C1816.5 463.9 1807.2 464.9 1797.8 463.8C1788.5 462.7 1778.5 461.1 1769.8 457.8C1761.2 454.5 1753.9 449.5 1745.9 443.8C1737.9 438.1 1729.9 431.1 1721.9 423.8C1713.9 416.5 1705.2 408.5 1697.9 399.8C1690.5 391.2 1683.9 381.8 1677.9 371.8C1671.9 361.8 1666.6 350.5 1661.9 339.9C1657.2 329.2 1653.9 317.2 1649.9 307.9C1645.9 298.5 1643.2 290.5 1637.9 283.9C1632.6 277.2 1625.9 271.9 1617.9 267.9C1609.9 263.9 1599.9 261.9 1589.9 259.9C1579.9 257.9 1568.6 257.9 1557.9 255.9C1547.3 253.9 1536.1 251.4 1526.0 247.9C1515.9 244.4 1507.2 239.1 1497.4 234.9C1487.6 230.8 1477.4 226.5 1467.4 222.8C1457.3 219.1 1446.7 215.8 1436.9 212.8C1427.2 209.9 1417.7 207.6 1408.7 205.2C1399.8 202.9 1391.5 199.9 1383.0 199.0C1374.5 198.1 1366.4 199.0 1358.0 200.0C1349.6 201.0 1341.4 203.3 1332.5 204.8C1323.6 206.2 1314.7 207.4 1304.9 208.8C1295.0 210.2 1284.6 211.3 1273.4 213.2Z"/>
<path d="M1273.4 251.8C1262.3 254.4 1250.2 257.4 1238.0 261.3C1225.8 265.2 1213.0 271.1 1200.0 275.0C1187.0 278.9 1173.3 284.0 1160.0 285.0C1146.7 286.0 1133.3 283.3 1120.0 281.0C1106.7 278.7 1091.7 273.2 1080.0 271.0C1068.3 268.8 1058.3 266.8 1050.0 267.5C1041.7 268.2 1035.4 270.4 1030.0 275.0C1024.6 279.6 1019.6 287.5 1017.5 295.0C1015.4 302.5 1015.4 310.8 1017.5 320.0C1019.6 329.2 1026.9 340.0 1030.0 350.0C1033.1 360.0 1036.4 369.2 1036.0 380.0C1035.6 390.8 1031.8 403.3 1027.5 415.0C1023.2 426.7 1016.2 438.3 1010.0 450.0C1003.8 461.7 996.7 473.3 990.0 485.0C983.3 496.7 976.7 508.3 970.0 520.0C963.3 531.7 956.2 542.5 950.0 555.0C943.8 567.5 936.8 581.7 932.5 595.0C928.2 608.3 925.2 621.7 924.0 635.0C922.8 648.3 923.6 661.7 925.0 675.0C926.4 688.3 930.0 701.7 932.5 715.0C935.0 728.3 937.5 741.6 940.0 755.0C942.5 768.4 945.0 781.8 947.5 795.3C950.0 808.8 952.5 822.7 955.2 835.9C957.8 849.2 960.7 862.6 963.6 874.7C966.5 886.8 969.9 898.2 972.7 908.4C975.5 918.7 978.2 927.7 980.6 936.0C983.0 944.4 984.6 951.4 987.2 958.5C989.9 965.7 992.8 972.0 996.6 979.0C1000.4 985.9 1005.5 992.0 1010.0 1000.0C1014.5 1008.0 1018.9 1017.2 1023.3 1026.7C1027.8 1036.1 1032.2 1046.9 1036.7 1056.7C1041.1 1066.4 1045.6 1077.8 1050.0 1085.0C1054.4 1092.2 1058.3 1095.3 1063.3 1100.0C1068.3 1104.7 1073.9 1109.6 1080.0 1113.3C1086.1 1117.1 1093.3 1121.3 1100.0 1122.7C1106.7 1124.1 1113.3 1123.1 1120.0 1121.7C1126.7 1120.2 1133.3 1116.4 1140.0 1114.0C1146.7 1111.6 1153.9 1108.3 1160.0 1107.3C1166.1 1106.4 1171.1 1106.8 1176.7 1108.3C1182.2 1109.9 1187.8 1113.3 1193.3 1116.7C1198.9 1120.0 1203.9 1124.7 1210.0 1128.3C1216.1 1131.9 1222.8 1135.6 1230.0 1138.3C1237.2 1141.1 1245.6 1142.8 1253.3 1145.0C1261.1 1147.2 1269.4 1149.2 1276.7 1151.7C1283.9 1154.2 1290.0 1157.9 1296.7 1160.0C1303.3 1162.1 1310.0 1164.0 1316.7 1164.0C1323.3 1164.0 1330.0 1162.1 1336.7 1160.0C1343.3 1157.9 1349.4 1154.2 1356.7 1151.7C1364.0 1149.1 1372.3 1146.6 1380.4 1144.9C1388.5 1143.1 1397.0 1141.9 1405.2 1141.3C1413.4 1140.6 1421.9 1141.0 1429.5 1140.8C1437.2 1140.7 1444.3 1140.8 1451.1 1140.3C1457.8 1139.7 1463.4 1140.1 1470.1 1137.6C1476.8 1135.1 1483.7 1130.5 1491.3 1125.5C1498.9 1120.4 1507.5 1113.3 1515.6 1107.2C1523.7 1101.2 1531.8 1095.1 1539.9 1089.0C1548.0 1082.9 1556.1 1076.6 1564.2 1070.8C1572.3 1065.0 1580.4 1059.4 1588.5 1054.1C1596.6 1048.8 1605.2 1043.7 1612.8 1038.9C1620.4 1034.1 1627.0 1030.8 1634.0 1025.2C1641.1 1019.7 1648.2 1013.1 1655.3 1005.5C1662.4 997.9 1670.0 988.4 1676.6 979.7C1683.1 970.9 1688.7 961.8 1694.8 953.0C1700.9 944.1 1706.9 935.5 1713.0 926.5C1719.1 917.6 1725.1 908.1 1731.2 899.2C1737.3 890.4 1743.6 881.1 1749.4 873.4C1755.3 865.7 1759.8 861.4 1766.5 852.9C1773.2 844.4 1781.0 834.0 1789.5 822.4C1798.1 810.7 1808.6 795.6 1817.7 782.9C1826.8 770.1 1836.0 757.0 1844.0 745.8C1852.0 734.6 1859.2 726.0 1865.8 715.7C1872.4 705.3 1878.5 694.4 1883.8 683.7C1889.1 673.0 1894.1 662.4 1897.8 651.7C1901.4 641.0 1904.4 629.7 1905.8 619.7C1907.1 609.7 1907.1 601.1 1905.8 591.7C1904.4 582.4 1901.8 572.4 1897.8 563.7C1893.8 555.1 1887.8 547.1 1881.8 539.8C1875.8 532.4 1869.1 525.1 1861.8 519.8C1854.5 514.4 1846.5 510.4 1837.8 507.8C1829.1 505.1 1819.2 504.4 1809.8 503.8C1800.5 503.1 1791.2 504.4 1781.8 503.8C1772.5 503.1 1763.2 502.4 1753.9 499.8C1744.5 497.1 1735.2 493.1 1725.9 487.8C1716.5 482.5 1707.2 475.1 1697.9 467.8C1688.6 460.5 1678.6 452.5 1669.9 443.8C1661.2 435.1 1653.2 425.8 1645.9 415.8C1638.6 405.8 1631.9 393.8 1625.9 383.8C1619.9 373.8 1615.3 363.8 1609.9 355.8C1604.6 347.9 1599.9 340.9 1593.9 335.9C1587.9 330.9 1581.3 327.2 1573.9 325.9C1566.6 324.5 1557.9 326.5 1550.0 327.9C1542.0 329.2 1534.0 333.2 1526.0 333.9C1518.0 334.5 1509.0 334.9 1502.0 331.9C1495.0 328.9 1489.2 322.7 1484.0 315.9C1478.7 309.0 1475.0 298.1 1470.6 290.8C1466.1 283.4 1461.7 277.0 1457.0 271.8C1452.3 266.5 1447.6 263.0 1442.5 259.1C1437.4 255.2 1431.9 252.1 1426.1 248.5C1420.4 244.9 1415.2 239.9 1408.0 237.5C1400.8 235.1 1391.3 234.4 1383.0 234.0C1374.7 233.6 1366.4 233.9 1358.0 235.0C1349.6 236.1 1341.4 238.8 1332.5 240.6C1323.6 242.4 1314.7 244.0 1304.9 245.8C1295.0 247.7 1284.6 249.2 1273.4 251.8Z"/>
<path d="M1300.6 340.2C1297.2 346.3 1293.7 352.8 1289.4 359.1C1285.1 365.3 1281.6 372.3 1275.0 377.5C1268.4 382.7 1260.0 386.2 1250.0 390.0C1240.0 393.8 1225.8 397.1 1215.0 400.0C1204.2 402.9 1195.0 405.8 1185.0 407.5C1175.0 409.2 1164.2 410.8 1155.0 410.0C1145.8 409.2 1137.1 404.6 1130.0 402.5C1122.9 400.4 1119.2 397.1 1112.5 397.5C1105.8 397.9 1097.9 400.4 1090.0 405.0C1082.1 409.6 1072.5 417.5 1065.0 425.0C1057.5 432.5 1051.7 440.8 1045.0 450.0C1038.3 459.2 1031.7 469.2 1025.0 480.0C1018.3 490.8 1011.2 503.3 1005.0 515.0C998.8 526.7 992.9 538.3 987.5 550.0C982.1 561.7 977.1 573.3 972.5 585.0C967.9 596.7 963.3 608.3 960.0 620.0C956.7 631.7 953.8 643.3 952.5 655.0C951.2 666.7 951.2 678.3 952.5 690.0C953.8 701.7 957.1 713.3 960.0 725.0C962.9 736.7 966.4 748.2 970.0 760.0C973.6 771.8 977.8 783.5 981.4 795.9C985.0 808.4 988.3 821.5 991.4 834.7C994.5 847.9 997.2 862.2 1000.2 875.0C1003.1 887.8 1006.0 900.6 1008.9 911.2C1011.8 921.9 1014.9 931.0 1017.8 939.1C1020.7 947.1 1023.5 953.1 1026.5 959.5C1029.5 965.9 1032.6 971.3 1035.9 977.5C1039.3 983.7 1042.7 990.1 1046.7 996.7C1050.7 1003.2 1055.6 1010.8 1060.0 1016.7C1064.4 1022.5 1067.8 1026.6 1073.3 1031.7C1078.9 1036.8 1086.1 1043.8 1093.3 1047.3C1100.6 1050.8 1109.4 1052.7 1116.7 1052.7C1123.9 1052.7 1130.6 1049.2 1136.7 1047.3C1142.8 1045.5 1147.8 1042.8 1153.3 1041.7C1158.9 1040.6 1164.4 1039.7 1170.0 1040.7C1175.6 1041.6 1181.1 1043.8 1186.7 1047.3C1192.2 1050.8 1197.8 1056.8 1203.3 1061.7C1208.9 1066.6 1213.9 1071.9 1220.0 1076.7C1226.1 1081.4 1232.8 1086.9 1240.0 1090.0C1247.2 1093.1 1255.6 1094.2 1263.3 1095.0C1271.1 1095.8 1279.4 1094.2 1286.7 1095.0C1293.9 1095.8 1300.0 1097.8 1306.7 1100.0C1313.3 1102.2 1320.0 1106.2 1326.7 1108.3C1333.3 1110.4 1340.0 1112.5 1346.7 1112.7C1353.3 1112.8 1360.0 1110.7 1366.7 1109.3C1373.3 1108.0 1380.0 1105.7 1386.7 1104.6C1393.4 1103.6 1400.2 1102.8 1406.8 1102.8C1413.5 1102.8 1420.1 1103.8 1426.6 1104.6C1433.1 1105.4 1439.4 1106.8 1445.6 1107.7C1451.8 1108.5 1457.4 1110.7 1464.0 1109.7C1470.6 1108.6 1477.6 1105.1 1485.2 1101.2C1492.8 1097.2 1501.4 1091.3 1509.5 1086.0C1517.6 1080.7 1525.7 1074.8 1533.8 1069.3C1541.9 1063.7 1550.0 1057.9 1558.1 1052.6C1566.2 1047.3 1574.3 1042.2 1582.4 1037.4C1590.5 1032.6 1598.6 1028.5 1606.7 1023.7C1614.8 1018.9 1623.4 1014.4 1631.0 1008.5C1638.6 1002.7 1645.4 996.4 1652.3 988.8C1659.1 981.2 1665.7 971.7 1672.0 963.0C1678.3 954.3 1684.1 945.4 1690.2 936.6C1696.3 927.7 1702.4 918.8 1708.4 909.8C1714.5 900.9 1720.1 891.8 1726.7 883.1C1733.2 874.4 1740.1 867.3 1747.9 857.5C1755.8 847.7 1764.7 836.2 1773.7 824.2C1782.7 812.3 1793.2 797.7 1802.1 785.8C1811.0 773.9 1819.5 762.5 1827.2 752.8C1834.8 743.1 1841.7 737.2 1847.8 727.7C1853.9 718.2 1859.5 706.3 1863.8 695.7C1868.1 685.0 1871.8 674.4 1873.8 663.7C1875.8 653.0 1876.5 641.7 1875.8 631.7C1875.1 621.7 1872.8 613.1 1869.8 603.7C1866.8 594.4 1862.5 584.1 1857.8 575.7C1853.1 567.4 1847.8 559.8 1841.8 553.8C1835.8 547.8 1829.1 542.8 1821.8 539.8C1814.5 536.8 1805.8 535.8 1797.8 535.8C1789.8 535.8 1781.8 538.8 1773.8 539.8C1765.8 540.8 1757.9 542.8 1749.9 541.8C1741.9 540.8 1734.5 538.1 1725.9 533.8C1717.2 529.4 1707.2 522.4 1697.9 515.8C1688.6 509.1 1679.2 501.4 1669.9 493.8C1660.6 486.1 1651.2 478.1 1641.9 469.8C1632.6 461.5 1622.6 452.5 1613.9 443.8C1605.3 435.1 1597.9 425.5 1589.9 417.8C1581.9 410.2 1573.9 402.8 1565.9 397.8C1557.9 392.8 1550.6 389.8 1542.0 387.8C1533.3 385.8 1523.3 387.5 1514.0 385.8C1504.6 384.2 1493.5 382.6 1486.0 377.8C1478.5 373.1 1474.3 364.5 1469.0 357.3C1463.7 350.1 1459.0 342.1 1454.4 334.7C1449.7 327.3 1445.7 319.1 1441.2 312.8C1436.7 306.4 1432.2 301.0 1427.5 296.5C1422.8 292.1 1419.6 287.5 1413.0 286.0C1406.4 284.5 1396.3 286.8 1388.0 287.5C1379.7 288.2 1371.3 288.8 1363.0 290.0C1354.7 291.2 1344.8 292.1 1338.0 295.0C1331.2 297.9 1326.7 302.7 1322.0 307.2C1317.4 311.7 1313.6 316.7 1310.0 322.2C1306.5 327.7 1304.1 334.0 1300.6 340.2Z"/>
<path d="M1278.8 433.0C1269.6 435.6 1259.7 437.7 1249.9 439.7C1240.1 441.7 1230.0 442.4 1220.0 445.0C1210.0 447.6 1200.0 451.7 1190.0 455.0C1180.0 458.3 1168.3 462.5 1160.0 465.0C1151.7 467.5 1146.7 469.6 1140.0 470.0C1133.3 470.4 1127.5 468.3 1120.0 467.5C1112.5 466.7 1102.9 463.8 1095.0 465.0C1087.1 466.2 1080.0 469.2 1072.5 475.0C1065.0 480.8 1057.1 490.8 1050.0 500.0C1042.9 509.2 1036.7 519.2 1030.0 530.0C1023.3 540.8 1015.8 553.3 1010.0 565.0C1004.2 576.7 999.3 588.3 995.0 600.0C990.7 611.7 986.5 623.3 984.0 635.0C981.5 646.7 979.8 658.3 980.0 670.0C980.2 681.7 981.7 694.2 985.0 705.0C988.3 715.8 993.3 727.9 1000.0 735.0C1006.7 742.1 1016.7 744.6 1025.0 747.5C1033.3 750.4 1042.5 749.6 1050.0 752.5C1057.5 755.4 1064.7 757.4 1070.0 765.0C1075.3 772.6 1077.9 786.1 1081.6 797.8C1085.2 809.5 1088.8 822.1 1092.0 835.0C1095.3 847.9 1098.2 862.3 1100.9 875.0C1103.7 887.7 1106.1 900.7 1108.6 911.2C1111.1 921.8 1113.1 931.1 1115.7 938.5C1118.2 945.9 1120.5 951.3 1123.8 955.6C1127.1 959.9 1130.9 962.2 1135.3 964.3C1139.6 966.4 1144.8 967.4 1150.0 968.3C1155.2 969.3 1161.7 968.3 1166.7 970.0C1171.7 971.7 1175.0 973.9 1180.0 978.3C1185.0 982.8 1191.1 990.3 1196.7 996.7C1202.2 1003.1 1207.8 1010.8 1213.3 1016.7C1218.9 1022.5 1224.4 1027.9 1230.0 1031.7C1235.6 1035.4 1241.1 1038.2 1246.7 1039.3C1252.2 1040.4 1257.8 1039.1 1263.3 1038.3C1268.9 1037.6 1274.4 1035.6 1280.0 1035.0C1285.6 1034.4 1291.1 1033.9 1296.7 1035.0C1302.2 1036.1 1307.8 1038.6 1313.3 1041.7C1318.9 1044.7 1324.4 1050.3 1330.0 1053.3C1335.6 1056.4 1340.3 1058.8 1346.7 1060.0C1353.1 1061.2 1360.8 1060.3 1368.4 1060.5C1376.1 1060.7 1384.3 1060.6 1392.6 1061.2C1400.9 1061.7 1409.9 1062.5 1418.1 1063.8C1426.4 1065.0 1434.4 1066.8 1442.1 1068.5C1449.7 1070.1 1456.8 1073.4 1464.0 1073.8C1471.2 1074.2 1477.6 1072.8 1485.2 1070.8C1492.8 1068.8 1501.4 1065.2 1509.5 1061.7C1517.6 1058.1 1525.7 1053.8 1533.8 1049.5C1541.9 1045.2 1550.0 1040.4 1558.1 1035.9C1566.2 1031.3 1574.3 1026.5 1582.4 1022.2C1590.5 1017.9 1598.6 1014.6 1606.7 1010.1C1614.8 1005.5 1623.4 1000.9 1631.0 994.9C1638.6 988.8 1645.7 981.1 1652.3 973.6C1658.8 966.1 1664.4 958.1 1670.5 949.9C1676.6 941.7 1682.6 933.0 1688.7 924.4C1694.8 915.8 1700.9 907.1 1706.9 898.3C1713.0 889.5 1719.4 879.6 1725.1 871.9C1730.9 864.1 1735.2 860.2 1741.3 851.9C1747.5 843.5 1754.6 833.4 1762.1 821.7C1769.7 809.9 1779.0 794.6 1786.9 781.3C1794.7 767.9 1802.7 753.8 1809.5 741.5C1816.3 729.3 1822.8 718.7 1827.8 707.7C1832.9 696.7 1836.8 685.7 1839.8 675.7C1842.8 665.7 1845.1 656.4 1845.8 647.7C1846.5 639.0 1845.5 631.0 1843.8 623.7C1842.1 616.4 1839.5 609.4 1835.8 603.7C1832.1 598.1 1826.8 593.1 1821.8 589.7C1816.8 586.4 1811.8 584.1 1805.8 583.7C1799.8 583.4 1792.5 585.4 1785.8 587.7C1779.2 590.1 1772.5 595.7 1765.8 597.7C1759.2 599.7 1752.5 600.7 1745.9 599.7C1739.2 598.7 1733.2 595.7 1725.9 591.7C1718.5 587.7 1710.5 581.7 1701.9 575.7C1693.2 569.7 1683.2 563.1 1673.9 555.8C1664.6 548.4 1655.2 539.8 1645.9 531.8C1636.6 523.8 1627.2 516.4 1617.9 507.8C1608.6 499.1 1598.6 488.8 1589.9 479.8C1581.3 470.8 1573.9 461.5 1565.9 453.8C1557.9 446.1 1550.6 439.1 1542.0 433.8C1533.3 428.5 1523.0 425.5 1514.0 421.8C1504.9 418.2 1496.0 415.6 1487.5 411.9C1479.0 408.2 1470.5 403.7 1463.0 399.6C1455.4 395.6 1448.4 390.7 1442.3 387.7C1436.2 384.7 1431.1 382.5 1426.2 381.7C1421.3 380.8 1417.7 379.4 1413.0 382.5C1408.3 385.6 1403.0 395.4 1398.0 400.0C1393.0 404.6 1388.0 408.8 1383.0 410.0C1378.0 411.2 1373.8 408.5 1368.0 407.5C1362.2 406.5 1354.8 402.9 1348.0 404.0C1341.2 405.1 1334.7 410.5 1327.5 413.8C1320.3 417.2 1313.0 420.8 1304.9 424.0C1296.8 427.2 1287.9 430.4 1278.8 433.0Z"/>
<path d="M1433.0 458.1C1427.1 460.4 1421.4 464.5 1415.2 467.9C1409.0 471.4 1402.4 478.1 1395.9 478.8C1389.3 479.5 1384.5 474.8 1375.9 472.0C1367.2 469.2 1352.5 462.7 1343.9 462.0C1335.2 461.3 1331.2 465.3 1323.9 468.0C1316.6 470.7 1307.9 476.0 1299.9 478.0C1291.9 480.0 1283.9 479.9 1275.9 480.0C1267.9 480.1 1259.9 479.3 1251.9 478.8C1243.9 478.3 1235.9 477.3 1227.9 477.2C1219.9 477.1 1211.3 476.9 1204.0 478.0C1196.6 479.1 1190.0 480.7 1184.0 484.0C1178.0 487.3 1173.3 492.3 1168.0 498.0C1162.6 503.6 1157.3 510.6 1152.0 518.0C1146.6 525.3 1140.6 536.7 1136.0 542.0C1131.4 547.2 1128.4 548.2 1124.5 549.7C1120.6 551.1 1116.7 551.7 1112.6 550.7C1108.4 549.6 1104.0 546.4 1099.4 543.6C1094.8 540.7 1089.8 536.7 1084.9 533.6C1080.0 530.5 1075.8 525.2 1070.0 525.0C1064.2 524.8 1056.7 527.5 1050.0 532.5C1043.3 537.5 1035.8 546.2 1030.0 555.0C1024.2 563.8 1019.3 574.2 1015.0 585.0C1010.7 595.8 1006.5 609.2 1004.0 620.0C1001.5 630.8 999.8 640.8 1000.0 650.0C1000.2 659.2 1001.7 667.9 1005.0 675.0C1008.3 682.1 1014.2 689.6 1020.0 692.5C1025.8 695.4 1033.3 694.2 1040.0 692.5C1046.7 690.8 1053.8 686.2 1060.0 682.5C1066.2 678.8 1072.1 672.5 1077.5 670.0C1082.9 667.5 1088.8 665.0 1092.5 667.5C1096.2 670.0 1097.5 676.2 1100.0 685.0C1102.5 693.8 1104.2 707.5 1107.5 720.0C1110.8 732.5 1115.8 747.5 1120.0 760.0C1124.2 772.5 1128.8 785.0 1132.5 795.0C1136.2 805.0 1137.9 813.8 1142.5 820.0C1147.1 826.2 1155.0 829.2 1160.0 832.5C1165.0 835.8 1168.5 836.3 1172.3 840.0C1176.1 843.7 1179.6 848.4 1182.8 854.6C1186.1 860.8 1188.9 869.0 1191.9 877.4C1194.8 885.8 1197.7 895.8 1200.6 905.0C1203.4 914.2 1206.2 924.0 1209.1 932.4C1212.0 940.7 1214.7 948.6 1217.9 955.1C1221.1 961.6 1224.4 966.6 1228.1 971.4C1231.8 976.1 1235.2 980.9 1240.0 983.3C1244.8 985.8 1251.1 986.3 1256.7 986.0C1262.2 985.7 1267.8 982.9 1273.3 981.7C1278.9 980.4 1285.0 978.5 1290.0 978.3C1295.0 978.2 1298.3 978.4 1303.3 980.7C1308.3 982.9 1313.9 987.3 1320.0 991.7C1326.1 996.0 1333.3 1002.8 1340.0 1006.7C1346.7 1010.6 1352.8 1012.9 1360.0 1015.0C1367.2 1017.1 1375.5 1018.0 1383.2 1019.4C1390.8 1020.9 1398.4 1022.2 1406.0 1023.5C1413.5 1024.8 1421.0 1026.1 1428.7 1027.1C1436.4 1028.1 1444.1 1029.0 1452.1 1029.7C1460.0 1030.4 1468.1 1031.5 1476.1 1031.3C1484.2 1031.2 1492.3 1030.2 1500.4 1028.9C1508.5 1027.6 1516.6 1025.8 1524.7 1023.7C1532.8 1021.6 1540.9 1019.2 1549.0 1016.1C1557.1 1013.1 1565.2 1009.0 1573.3 1005.5C1581.4 1002.0 1589.5 998.7 1597.6 994.9C1605.7 991.1 1614.3 987.8 1621.9 982.7C1629.5 977.7 1636.1 971.6 1643.2 964.5C1650.2 957.4 1657.8 948.3 1664.4 940.2C1671.0 932.1 1676.6 924.3 1682.6 915.9C1688.7 907.6 1694.3 899.2 1700.9 890.1C1707.4 881.0 1714.6 872.3 1721.9 861.5C1729.1 850.7 1737.4 838.3 1744.4 825.3C1751.4 812.3 1758.8 796.6 1763.9 783.6C1769.0 770.6 1772.4 757.9 1774.8 747.3C1777.3 736.6 1778.5 728.3 1778.6 719.7C1778.8 711.1 1777.6 703.0 1775.8 695.7C1774.0 688.4 1771.5 681.7 1767.8 675.7C1764.2 669.7 1759.5 665.0 1753.9 659.7C1748.2 654.4 1741.2 649.0 1733.9 643.7C1726.5 638.4 1717.9 633.0 1709.9 627.7C1701.9 622.4 1693.9 617.1 1685.9 611.7C1677.9 606.4 1669.9 600.4 1661.9 595.7C1653.9 591.1 1645.2 587.7 1637.9 583.7C1630.6 579.7 1623.9 576.4 1617.9 571.7C1611.9 567.1 1607.3 562.4 1601.9 555.8C1596.6 549.1 1591.3 539.8 1585.9 531.8C1580.6 523.8 1575.9 515.1 1569.9 507.8C1563.9 500.4 1557.3 493.4 1550.0 487.8C1542.6 482.1 1534.6 477.5 1526.0 473.8C1517.3 470.1 1506.9 468.5 1498.0 465.8C1489.0 463.1 1480.2 459.4 1472.4 457.4C1464.5 455.4 1457.4 453.8 1450.8 453.9C1444.3 454.0 1438.9 455.8 1433.0 458.1Z"/>
<path d="M1738.3 824.1C1742.0 817.0 1745.5 808.8 1749.1 799.7C1752.7 790.7 1757.6 780.2 1759.7 769.8C1761.8 759.5 1763.3 747.5 1761.7 737.9C1760.0 728.2 1755.4 719.9 1749.7 711.9C1744.0 703.9 1735.4 696.2 1727.7 689.9C1720.0 683.6 1711.7 678.2 1703.7 673.9C1695.7 669.6 1687.4 665.9 1679.7 663.9C1672.1 661.9 1665.1 661.2 1657.7 661.9C1650.4 662.6 1642.4 665.9 1635.7 667.9C1629.1 669.9 1623.4 673.9 1617.8 673.9C1612.1 673.9 1606.8 671.9 1601.8 667.9C1596.8 663.9 1592.1 656.9 1587.8 649.9C1583.4 642.9 1579.8 634.6 1575.8 625.9C1571.8 617.3 1567.8 606.6 1563.8 597.9C1559.8 589.3 1556.1 580.3 1551.8 573.9C1547.5 567.6 1543.1 562.7 1537.8 559.9C1532.5 557.1 1525.8 556.5 1519.8 557.1C1513.8 557.8 1506.8 559.8 1501.8 563.9C1496.8 568.1 1492.7 574.3 1489.8 581.9C1486.9 589.6 1485.5 598.6 1484.6 609.9C1483.7 621.3 1485.1 639.6 1484.6 649.9C1484.1 660.2 1483.6 666.9 1481.8 671.9C1480.0 676.9 1476.3 679.9 1473.8 679.9C1471.4 679.9 1468.6 675.6 1467.0 671.9C1465.5 668.2 1465.0 666.9 1464.6 657.9C1464.2 648.9 1465.1 630.6 1464.6 617.9C1464.2 605.3 1463.6 592.3 1461.8 581.9C1460.0 571.6 1457.5 562.9 1453.8 555.9C1450.2 549.0 1445.5 543.6 1439.8 540.0C1434.2 536.3 1428.5 536.0 1419.8 534.0C1411.2 532.0 1398.5 529.6 1387.9 528.0C1377.2 526.3 1365.2 523.3 1355.9 524.0C1346.5 524.6 1339.9 529.6 1331.9 532.0C1323.9 534.3 1317.9 539.0 1307.9 538.0C1297.9 537.0 1283.9 530.0 1271.9 526.0C1259.9 522.0 1247.3 516.3 1235.9 514.0C1224.6 511.6 1213.9 510.0 1204.0 512.0C1194.0 514.0 1183.4 517.0 1176.0 526.0C1168.6 535.0 1164.1 552.3 1159.6 565.9C1155.1 579.6 1151.0 594.0 1148.7 607.7C1146.5 621.4 1145.6 635.7 1146.2 648.2C1146.8 660.6 1149.3 672.1 1152.2 682.4C1155.2 692.7 1157.3 704.3 1164.0 709.9C1170.6 715.5 1183.3 713.2 1192.0 715.9C1200.6 718.5 1209.6 720.9 1215.9 725.9C1222.3 730.9 1226.6 737.2 1229.9 745.9C1233.3 754.5 1235.3 767.2 1235.9 777.8C1236.6 788.5 1235.3 797.8 1233.9 809.8C1232.6 821.8 1228.6 837.8 1227.9 849.8C1227.3 861.8 1228.3 871.8 1229.9 881.8C1231.6 891.8 1234.3 901.8 1237.9 909.8C1241.6 917.8 1246.3 926.1 1251.9 929.8C1257.6 933.4 1264.6 932.1 1271.9 931.8C1279.2 931.4 1288.6 927.1 1295.9 927.8C1303.2 928.4 1309.2 931.4 1315.9 935.8C1322.6 940.1 1328.4 947.9 1335.9 953.8C1343.4 959.6 1352.6 965.9 1361.0 970.9C1369.3 975.8 1377.7 980.3 1386.0 983.4C1394.4 986.4 1402.6 988.2 1410.9 989.2C1419.2 990.1 1427.5 989.7 1435.9 989.1C1444.2 988.5 1453.2 987.1 1460.9 985.8C1468.7 984.4 1475.1 982.1 1482.2 981.2C1489.3 980.3 1496.4 979.8 1503.5 980.3C1510.5 980.8 1517.6 983.2 1524.7 984.2C1531.8 985.3 1538.9 986.6 1546.0 986.4C1553.1 986.1 1559.6 984.6 1567.2 982.7C1574.8 980.9 1583.4 978.2 1591.5 975.1C1599.6 972.1 1607.7 969.1 1615.8 964.5C1623.9 960.0 1632.5 953.9 1640.1 947.8C1647.7 941.7 1654.3 935.4 1661.4 928.1C1668.5 920.7 1676.1 911.9 1682.6 903.8C1689.2 895.7 1695.5 886.8 1700.9 879.5C1706.2 872.2 1710.3 866.1 1714.7 860.0C1719.1 853.8 1723.2 848.6 1727.2 842.6C1731.1 836.6 1734.7 831.3 1738.3 824.1Z"/>
<path d="M1381.6 734.1C1385.6 732.7 1389.4 733.9 1393.1 735.9C1396.8 737.8 1399.4 740.2 1403.9 745.9C1408.3 751.5 1414.5 763.2 1419.8 769.8C1425.2 776.5 1430.2 782.5 1435.8 785.8C1441.5 789.2 1447.8 790.2 1453.8 789.8C1459.8 789.5 1465.5 786.8 1471.8 783.8C1478.2 780.8 1485.1 775.6 1491.8 771.8C1498.5 768.0 1505.1 763.0 1511.8 761.1C1518.5 759.1 1525.8 758.4 1531.8 759.9C1537.8 761.3 1542.5 764.8 1547.8 769.8C1553.1 774.8 1558.4 784.2 1563.8 789.8C1569.1 795.5 1574.4 801.3 1579.8 803.8C1585.1 806.4 1591.1 806.7 1595.8 805.0C1600.4 803.4 1604.1 799.7 1607.8 793.8C1611.4 788.0 1614.4 777.8 1617.8 769.8C1621.1 761.9 1623.7 753.2 1627.7 745.9C1631.7 738.5 1636.4 730.9 1641.7 725.9C1647.1 720.9 1653.4 717.5 1659.7 715.9C1666.1 714.2 1673.1 714.2 1679.7 715.9C1686.4 717.5 1693.7 721.2 1699.7 725.9C1705.7 730.5 1711.0 737.2 1715.7 743.9C1720.4 750.5 1724.7 757.5 1727.7 765.8C1730.7 774.2 1733.6 785.3 1733.7 793.8C1733.8 802.4 1731.1 809.4 1728.3 817.0C1725.6 824.6 1721.9 832.1 1717.1 839.5C1712.3 846.8 1705.7 854.0 1699.4 861.2C1693.0 868.3 1685.8 875.4 1678.9 882.5C1672.1 889.6 1665.8 897.2 1658.3 903.8C1650.9 910.4 1642.1 916.7 1634.0 922.0C1625.9 927.3 1617.8 931.9 1609.7 935.7C1601.6 939.5 1593.6 942.6 1585.5 944.8C1577.4 946.9 1568.2 949.0 1561.2 948.7C1554.1 948.5 1549.0 946.2 1542.9 943.2C1536.9 940.3 1530.8 934.4 1524.7 931.1C1518.6 927.8 1512.6 924.5 1506.5 923.5C1500.4 922.5 1494.4 922.8 1488.3 925.0C1482.2 927.3 1477.1 932.6 1470.1 937.2C1463.0 941.7 1453.9 948.8 1445.8 952.4C1437.7 955.9 1429.6 958.4 1421.5 958.4C1413.4 958.4 1405.8 956.4 1397.2 952.4C1388.6 948.3 1377.3 942.1 1369.8 934.1C1362.4 926.2 1357.4 914.3 1352.6 904.6C1347.8 895.0 1343.6 885.5 1340.9 876.3C1338.2 867.1 1337.0 858.5 1336.6 849.3C1336.2 840.0 1337.2 830.8 1338.4 820.9C1339.6 811.0 1340.9 799.3 1343.9 789.8C1346.9 780.4 1352.3 771.8 1356.5 764.2C1360.7 756.6 1365.1 749.1 1369.2 744.1C1373.4 739.1 1377.6 735.5 1381.6 734.1Z"/>
<path d="M1215.9 555.9C1221.6 555.9 1229.6 556.9 1235.9 559.9C1242.3 562.9 1248.9 568.3 1253.9 573.9C1258.9 579.6 1263.1 587.3 1265.9 593.9C1268.8 600.6 1271.1 607.9 1271.1 613.9C1271.1 619.9 1269.1 625.6 1265.9 629.9C1262.7 634.2 1257.6 637.8 1251.9 639.9C1246.3 642.0 1238.6 642.5 1231.9 642.7C1225.3 642.9 1217.9 642.9 1211.9 641.1C1205.9 639.3 1200.0 636.1 1196.0 631.9C1192.0 627.7 1189.6 621.9 1188.0 615.9C1186.3 609.9 1185.3 602.9 1186.0 595.9C1186.6 588.9 1189.3 579.9 1192.0 573.9C1194.6 567.9 1198.0 562.9 1202.0 559.9C1205.9 556.9 1210.3 555.9 1215.9 555.9Z"/>
<path d="M1393.9 815.8C1398.5 815.5 1403.5 819.8 1407.9 823.8C1412.2 827.8 1415.8 834.1 1419.8 839.8C1423.8 845.5 1428.8 851.8 1431.8 857.8C1434.8 863.8 1437.2 869.8 1437.8 875.8C1438.5 881.8 1437.8 888.5 1435.8 893.8C1433.8 899.1 1429.8 904.6 1425.8 907.8C1421.8 911.0 1416.5 912.6 1411.9 913.0C1407.2 913.3 1402.2 912.3 1397.9 909.8C1393.5 907.2 1389.2 902.4 1385.9 897.8C1382.5 893.1 1379.9 887.8 1377.9 881.8C1375.9 875.8 1374.5 868.1 1373.9 861.8C1373.2 855.5 1372.9 849.8 1373.9 843.8C1374.9 837.8 1376.5 830.5 1379.9 825.8C1383.2 821.2 1389.2 816.2 1393.9 815.8Z"/>
<path d="M1675.7 771.8C1679.9 771.2 1685.9 771.5 1689.7 773.8C1693.6 776.2 1696.9 781.2 1698.9 785.8C1700.9 790.5 1701.9 795.8 1701.7 801.8C1701.5 807.8 1700.0 815.5 1697.7 821.8C1695.4 828.2 1691.7 834.5 1687.7 839.8C1683.7 845.1 1678.4 850.7 1673.7 853.8C1669.1 856.9 1663.5 858.9 1659.7 858.6C1655.9 858.3 1652.9 855.9 1650.9 851.8C1648.9 847.7 1647.9 840.1 1647.7 833.8C1647.5 827.5 1648.4 820.5 1649.7 813.8C1651.1 807.2 1653.3 799.8 1655.7 793.8C1658.2 787.8 1661.2 781.5 1664.5 777.8C1667.9 774.2 1671.5 772.5 1675.7 771.8Z"/></g>
<g stroke="#000" fill="none">
<path d="M388.7 1721.3L388.7 1708.3" stroke-width="4.4"/>
<path d="M388.7 11.3L388.7 24.3" stroke-width="4.4"/>
<path d="M492.1 1721.3L492.1 1708.3" stroke-width="4.4"/>
<path d="M492.1 11.3L492.1 24.3" stroke-width="4.4"/>
<path d="M595.6 1721.3L595.6 1708.3" stroke-width="4.4"/>
<path d="M595.6 11.3L595.6 24.3" stroke-width="4.4"/>
<path d="M699.0 1721.3L699.0 1708.3" stroke-width="4.4"/>
<path d="M699.0 11.3L699.0 24.3" stroke-width="4.4"/>
<path d="M802.5 1721.3L802.5 1696.8" stroke-width="5"/>
<path d="M802.5 11.3L802.5 35.8" stroke-width="5"/>
<path d="M906.0 1721.3L906.0 1708.3" stroke-width="4.4"/>
<path d="M906.0 11.3L906.0 24.3" stroke-width="4.4"/>
<path d="M1009.4 1721.3L1009.4 1708.3" stroke-width="4.4"/>
<path d="M1009.4 11.3L1009.4 24.3" stroke-width="4.4"/>
<path d="M1112.9 1721.3L1112.9 1708.3" stroke-width="4.4"/>
<path d="M1112.9 11.3L1112.9 24.3" stroke-width="4.4"/>
<path d="M1216.3 1721.3L1216.3 1708.3" stroke-width="4.4"/>
<path d="M1216.3 11.3L1216.3 24.3" stroke-width="4.4"/>
<path d="M1319.8 1721.3L1319.8 1696.8" stroke-width="5"/>
<path d="M1319.8 11.3L1319.8 35.8" stroke-width="5"/>
<path d="M1423.3 1721.3L1423.3 1708.3" stroke-width="4.4"/>
<path d="M1423.3 11.3L1423.3 24.3" stroke-width="4.4"/>
<path d="M1526.7 1721.3L1526.7 1708.3" stroke-width="4.4"/>
<path d="M1526.7 11.3L1526.7 24.3" stroke-width="4.4"/>
<path d="M1630.2 1721.3L1630.2 1708.3" stroke-width="4.4"/>
<path d="M1630.2 11.3L1630.2 24.3" stroke-width="4.4"/>
<path d="M1733.6 1721.3L1733.6 1708.3" stroke-width="4.4"/>
<path d="M1733.6 11.3L1733.6 24.3" stroke-width="4.4"/>
<path d="M1837.1 1721.3L1837.1 1696.8" stroke-width="5"/>
<path d="M1837.1 11.3L1837.1 35.8" stroke-width="5"/>
<path d="M1940.6 1721.3L1940.6 1708.3" stroke-width="4.4"/>
<path d="M1940.6 11.3L1940.6 24.3" stroke-width="4.4"/>
<path d="M2044.0 1721.3L2044.0 1708.3" stroke-width="4.4"/>
<path d="M2044.0 11.3L2044.0 24.3" stroke-width="4.4"/>
<path d="M2147.5 1721.3L2147.5 1708.3" stroke-width="4.4"/>
<path d="M2147.5 11.3L2147.5 24.3" stroke-width="4.4"/>
<path d="M2250.9 1721.3L2250.9 1708.3" stroke-width="4.4"/>
<path d="M2250.9 11.3L2250.9 24.3" stroke-width="4.4"/>
<path d="M2354.4 1721.3L2354.4 1696.8" stroke-width="5"/>
<path d="M2354.4 11.3L2354.4 35.8" stroke-width="5"/>
<path d="M328.4 1685.0L352.9 1685.0" stroke-width="5"/>
<path d="M2433.0 1685.0L2408.5 1685.0" stroke-width="5"/>
<path d="M328.4 1628.3L341.4 1628.3" stroke-width="4.4"/>
<path d="M2433.0 1628.3L2420.0 1628.3" stroke-width="4.4"/>
<path d="M328.4 1571.6L341.4 1571.6" stroke-width="4.4"/>
<path d="M2433.0 1571.6L2420.0 1571.6" stroke-width="4.4"/>
<path d="M328.4 1514.9L341.4 1514.9" stroke-width="4.4"/>
<path d="M2433.0 1514.9L2420.0 1514.9" stroke-width="4.4"/>
<path d="M328.4 1458.2L341.4 1458.2" stroke-width="4.4"/>
<path d="M2433.0 1458.2L2420.0 1458.2" stroke-width="4.4"/>
<path d="M328.4 1401.5L352.9 1401.5" stroke-width="5"/>
<path d="M2433.0 1401.5L2408.5 1401.5" stroke-width="5"/>
<path d="M328.4 1344.8L341.4 1344.8" stroke-width="4.4"/>
<path d="M2433.0 1344.8L2420.0 1344.8" stroke-width="4.4"/>
<path d="M328.4 1288.1L341.4 1288.1" stroke-width="4.4"/>
<path d="M2433.0 1288.1L2420.0 1288.1" stroke-width="4.4"/>
<path d="M328.4 1231.4L341.4 1231.4" stroke-width="4.4"/>
<path d="M2433.0 1231.4L2420.0 1231.4" stroke-width="4.4"/>
<path d="M328.4 1174.7L341.4 1174.7" stroke-width="4.4"/>
<path d="M2433.0 1174.7L2420.0 1174.7" stroke-width="4.4"/>
<path d="M328.4 1118.0L352.9 1118.0" stroke-width="5"/>
<path d="M2433.0 1118.0L2408.5 1118.0" stroke-width="5"/>
<path d="M328.4 1061.3L341.4 1061.3" stroke-width="4.4"/>
<path d="M2433.0 1061.3L2420.0 1061.3" stroke-width="4.4"/>
<path d="M328.4 1004.6L341.4 1004.6" stroke-width="4.4"/>
<path d="M2433.0 1004.6L2420.0 1004.6" stroke-width="4.4"/>
<path d="M328.4 947.9L341.4 947.9" stroke-width="4.4"/>
<path d="M2433.0 947.9L2420.0 947.9" stroke-width="4.4"/>
<path d="M328.4 891.2L341.4 891.2" stroke-width="4.4"/>
<path d="M2433.0 891.2L2420.0 891.2" stroke-width="4.4"/>
<path d="M328.4 834.5L352.9 834.5" stroke-width="5"/>
<path d="M2433.0 834.5L2408.5 834.5" stroke-width="5"/>
<path d="M328.4 777.8L341.4 777.8" stroke-width="4.4"/>
<path d="M2433.0 777.8L2420.0 777.8" stroke-width="4.4"/>
<path d="M328.4 721.1L341.4 721.1" stroke-width="4.4"/>
<path d="M2433.0 721.1L2420.0 721.1" stroke-width="4.4"/>
<path d="M328.4 664.4L341.4 664.4" stroke-width="4.4"/>
<path d="M2433.0 664.4L2420.0 664.4" stroke-width="4.4"/>
<path d="M328.4 607.7L341.4 607.7" stroke-width="4.4"/>
<path d="M2433.0 607.7L2420.0 607.7" stroke-width="4.4"/>
<path d="M328.4 551.0L352.9 551.0" stroke-width="5"/>
<path d="M2433.0 551.0L2408.5 551.0" stroke-width="5"/>
<path d="M328.4 494.3L341.4 494.3" stroke-width="4.4"/>
<path d="M2433.0 494.3L2420.0 494.3" stroke-width="4.4"/>
<path d="M328.4 437.6L341.4 437.6" stroke-width="4.4"/>
<path d="M2433.0 437.6L2420.0 437.6" stroke-width="4.4"/>
<path d="M328.4 380.9L341.4 380.9" stroke-width="4.4"/>
<path d="M2433.0 380.9L2420.0 380.9" stroke-width="4.4"/>
<path d="M328.4 324.2L341.4 324.2" stroke-width="4.4"/>
<path d="M2433.0 324.2L2420.0 324.2" stroke-width="4.4"/>
<path d="M328.4 267.5L352.9 267.5" stroke-width="5"/>
<path d="M2433.0 267.5L2408.5 267.5" stroke-width="5"/>
<path d="M328.4 210.8L341.4 210.8" stroke-width="4.4"/>
<path d="M2433.0 210.8L2420.0 210.8" stroke-width="4.4"/>
<path d="M328.4 154.1L341.4 154.1" stroke-width="4.4"/>
<path d="M2433.0 154.1L2420.0 154.1" stroke-width="4.4"/>
<path d="M328.4 97.4L341.4 97.4" stroke-width="4.4"/>
<path d="M2433.0 97.4L2420.0 97.4" stroke-width="4.4"/>
<path d="M328.4 40.7L341.4 40.7" stroke-width="4.4"/>
<path d="M2433.0 40.7L2420.0 40.7" stroke-width="4.4"/>
<path d="M328.4 2055.6L328.4 2078.1" stroke-width="5"/>
<path d="M749.3 2055.6L749.3 2078.1" stroke-width="5"/>
<path d="M1170.2 2055.6L1170.2 2078.1" stroke-width="5"/>
<path d="M1591.2 2055.6L1591.2 2078.1" stroke-width="5"/>
<path d="M2012.1 2055.6L2012.1 2078.1" stroke-width="5"/>
<path d="M2433.0 2055.6L2433.0 2078.1" stroke-width="5"/>
<rect x="328.4" y="11.3" width="2104.6" height="1710.0" stroke-width="5"/>
</g>
<rect x="328.4" y="1950.2" width="2104.6" height="105.4" fill="url(#cb)" stroke="#000" stroke-width="5"/>
<text transform="translate(303.1,300.0) scale(1,1.043)" text-anchor="end" class="s">14.0</text>
<text transform="translate(303.1,583.5) scale(1,1.043)" text-anchor="end" class="s">13.5</text>
<text transform="translate(303.1,867.0) scale(1,1.043)" text-anchor="end" class="s">13.0</text>
<text transform="translate(303.1,1150.5) scale(1,1.043)" text-anchor="end" class="s">12.5</text>
<text transform="translate(303.1,1434.0) scale(1,1.043)" text-anchor="end" class="s">12.0</text>
<text transform="translate(303.1,1717.5) scale(1,1.043)" text-anchor="end" class="s">11.5</text>
<text transform="translate(801.2,1809.4) scale(1,1.043)" text-anchor="middle" class="s">9</text>
<text transform="translate(1318.5,1809.4) scale(1,1.043)" text-anchor="middle" class="s">10</text>
<text transform="translate(1835.8,1809.4) scale(1,1.043)" text-anchor="middle" class="s">11</text>
<text transform="translate(2353.1,1809.4) scale(1,1.043)" text-anchor="middle" class="s">12</text>
<text x="328.4" y="2163.5" text-anchor="middle" class="s" style="font-size:81px">0.0</text>
<text x="749.3" y="2163.5" text-anchor="middle" class="s" style="font-size:81px">0.2</text>
<text x="1170.2" y="2163.5" text-anchor="middle" class="s" style="font-size:81px">0.4</text>
<text x="1591.2" y="2163.5" text-anchor="middle" class="s" style="font-size:81px">0.6</text>
<text x="2012.1" y="2163.5" text-anchor="middle" class="s" style="font-size:81px">0.8</text>
<text x="2433.0" y="2163.5" text-anchor="middle" class="s" style="font-size:81px">1.0</text>
<text x="1379.5" y="2243" text-anchor="middle" class="s" style="font-size:82px">Quenched Fraction</text>
<g transform="translate(0,1919)"><text x="1126.8" y="0.0" class="s n" style="font-size:83px">log</text><text x="1292.0" y="0.0" class="s" style="font-size:83px">M</text><text x="1376.1" y="13.3" class="s n" style="font-size:58px">⋆</text><text x="1440.9" y="0.0" class="s" style="font-size:83px">[M</text><text x="1557.4" y="13.3" class="s n" style="font-size:58px">⊙</text><text x="1607.2" y="0.0" class="s" style="font-size:83px">]</text></g>
<g transform="translate(69.5,1206.4) rotate(-90)"><text x="0.0" y="0.0" class="s n" style="font-size:83px">log</text><text x="163.2" y="0.0" class="s" style="font-size:83px">M</text><text x="245.7" y="13.3" class="s n" style="font-size:58px">halo,</text><text x="397.6" y="13.3" class="s n" style="font-size:58px">3</text><text x="465.2" y="0.0" class="s" style="font-size:83px">[M</text><text x="594.3" y="13.3" class="s n" style="font-size:58px">⊙</text><text x="655.0" y="0.0" class="s" style="font-size:83px">]</text></g>
</svg>
</body></html>
